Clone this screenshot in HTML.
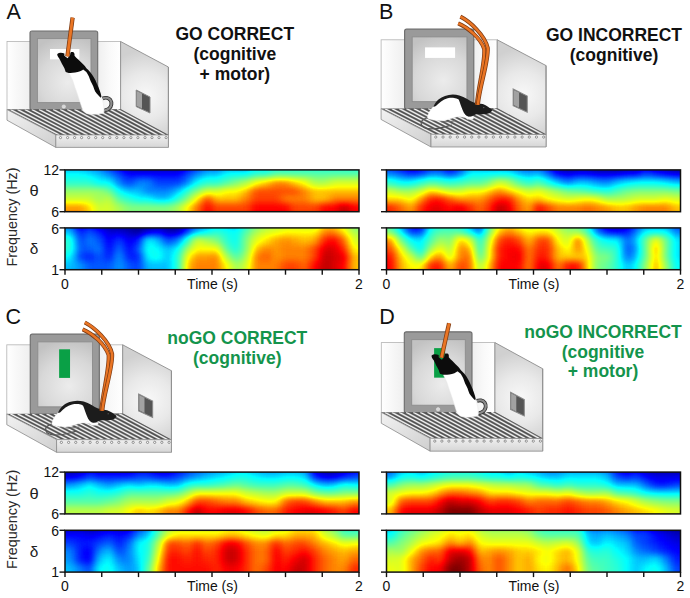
<!DOCTYPE html>
<html><head><meta charset="utf-8"><title>figure</title>
<style>
html,body{margin:0;padding:0;background:#fff;}
svg{display:block}
text{font-family:"Liberation Sans",sans-serif;}
</style></head><body>
<svg width="690" height="598" viewBox="0 0 690 598">
<defs>
<filter id="jet" filterUnits="userSpaceOnUse" x="-30" y="-30" width="354" height="102" color-interpolation-filters="sRGB">
<feGaussianBlur stdDeviation="4.0 3.3"/>
<feComponentTransfer>
<feFuncR type="table" tableValues="0 0 0 0 .33 .67 1 1 1 .5"/>
<feFuncG type="table" tableValues="0 0 .5 1 1 1 1 .5 0 0"/>
<feFuncB type="table" tableValues=".5 1 1 1 .67 .33 0 0 0 0"/>
<feFuncA type="linear" slope="0" intercept="1"/>
</feComponentTransfer>
</filter>
<linearGradient id="gback" x1="0" y1="0" x2="1" y2="0">
<stop offset="0" stop-color="#ffffff"/><stop offset="0.1" stop-color="#f7f7f7"/><stop offset="0.2" stop-color="#efefef"/><stop offset="0.8" stop-color="#efefef"/><stop offset="0.9" stop-color="#f9f9f9"/><stop offset="1" stop-color="#ffffff"/>
</linearGradient>
<radialGradient id="gright" gradientUnits="userSpaceOnUse" cx="146" cy="96" r="46">
<stop offset="0" stop-color="#f8f8f8"/><stop offset="0.5" stop-color="#e9e9e9"/><stop offset="1" stop-color="#d0d0d0"/>
</radialGradient>
<radialGradient id="gscreen" gradientUnits="userSpaceOnUse" cx="68" cy="82" r="46">
<stop offset="0" stop-color="#ececec"/><stop offset="0.6" stop-color="#d8d8d8"/><stop offset="1" stop-color="#c2c2c2"/>
</radialGradient>
<linearGradient id="gface" x1="0" y1="0" x2="1" y2="1">
<stop offset="0" stop-color="#f2f2f2"/><stop offset="1" stop-color="#cfcfcf"/>
</linearGradient>
<linearGradient id="gfront" x1="0" y1="0" x2="0" y2="1"><stop offset="0" stop-color="#f0f0f0"/><stop offset="1" stop-color="#d6d6d6"/></linearGradient>
<clipPath id="floorclip"><polygon points="7,109.6 120.6,109.2 168.4,135 55.8,134.9"/></clipPath>
</defs>
<rect width="690" height="598" fill="#fff"/>

<g transform="translate(0,0) scale(1,1)">
<rect x="7" y="41.5" width="113.6" height="68.2" fill="url(#gback)" stroke="#b4b4b4" stroke-width="0.8"/>
<polygon points="120.6,41.5 168.4,67 168.4,135.2 120.6,109.4" fill="url(#gright)" stroke="#8e8e8e" stroke-width="0.9"/>
<line x1="168.4" y1="67" x2="168.4" y2="147.4" stroke="#8e8e8e" stroke-width="0.9"/>
<polygon points="136.2,90 150,97 150,113 136.2,106.6" fill="#555" stroke="#8a8a8a" stroke-width="1"/>
<polygon points="136.8,91 142,93.6 142,108.6 136.8,106" fill="#a2a2a2"/>
<rect x="30" y="31" width="67.7" height="79" rx="2" fill="#9a9a9a" stroke="#6c6c6c" stroke-width="1.1"/>
<rect x="37.4" y="38.6" width="53.6" height="64" fill="url(#gscreen)" stroke="#8c8c8c" stroke-width="0.9"/>
<circle cx="63.8" cy="106.6" r="1.7" fill="#d8d8d8" stroke="#eee" stroke-width="0.5"/>
<rect x="50" y="49" width="29.4" height="10.4" fill="#fff"/>
<polygon points="7,109.6 120.6,109.2 168.4,135 55.8,134.9" fill="#505050"/>
<g clip-path="url(#floorclip)">
<line x1="10.6" y1="109.6" x2="59.3" y2="134.9" stroke="#a8a8a8" stroke-width="1.9"/>
<line x1="10.6" y1="109.6" x2="59.3" y2="134.9" stroke="#fbfbfb" stroke-width="0.95"/>
<line x1="17.6" y1="109.6" x2="66.4" y2="134.9" stroke="#a8a8a8" stroke-width="1.9"/>
<line x1="17.6" y1="109.6" x2="66.4" y2="134.9" stroke="#fbfbfb" stroke-width="0.95"/>
<line x1="24.8" y1="109.5" x2="73.4" y2="134.9" stroke="#a8a8a8" stroke-width="1.9"/>
<line x1="24.8" y1="109.5" x2="73.4" y2="134.9" stroke="#fbfbfb" stroke-width="0.95"/>
<line x1="31.8" y1="109.5" x2="80.4" y2="134.9" stroke="#a8a8a8" stroke-width="1.9"/>
<line x1="31.8" y1="109.5" x2="80.4" y2="134.9" stroke="#fbfbfb" stroke-width="0.95"/>
<line x1="39.0" y1="109.5" x2="87.5" y2="134.9" stroke="#a8a8a8" stroke-width="1.9"/>
<line x1="39.0" y1="109.5" x2="87.5" y2="134.9" stroke="#fbfbfb" stroke-width="0.95"/>
<line x1="46.0" y1="109.5" x2="94.5" y2="134.9" stroke="#a8a8a8" stroke-width="1.9"/>
<line x1="46.0" y1="109.5" x2="94.5" y2="134.9" stroke="#fbfbfb" stroke-width="0.95"/>
<line x1="53.1" y1="109.4" x2="101.5" y2="134.9" stroke="#a8a8a8" stroke-width="1.9"/>
<line x1="53.1" y1="109.4" x2="101.5" y2="134.9" stroke="#fbfbfb" stroke-width="0.95"/>
<line x1="60.2" y1="109.4" x2="108.6" y2="134.9" stroke="#a8a8a8" stroke-width="1.9"/>
<line x1="60.2" y1="109.4" x2="108.6" y2="134.9" stroke="#fbfbfb" stroke-width="0.95"/>
<line x1="67.3" y1="109.4" x2="115.6" y2="135.0" stroke="#a8a8a8" stroke-width="1.9"/>
<line x1="67.3" y1="109.4" x2="115.6" y2="135.0" stroke="#fbfbfb" stroke-width="0.95"/>
<line x1="74.5" y1="109.4" x2="122.7" y2="135.0" stroke="#a8a8a8" stroke-width="1.9"/>
<line x1="74.5" y1="109.4" x2="122.7" y2="135.0" stroke="#fbfbfb" stroke-width="0.95"/>
<line x1="81.5" y1="109.3" x2="129.7" y2="135.0" stroke="#a8a8a8" stroke-width="1.9"/>
<line x1="81.5" y1="109.3" x2="129.7" y2="135.0" stroke="#fbfbfb" stroke-width="0.95"/>
<line x1="88.6" y1="109.3" x2="136.7" y2="135.0" stroke="#a8a8a8" stroke-width="1.9"/>
<line x1="88.6" y1="109.3" x2="136.7" y2="135.0" stroke="#fbfbfb" stroke-width="0.95"/>
<line x1="95.8" y1="109.3" x2="143.8" y2="135.0" stroke="#a8a8a8" stroke-width="1.9"/>
<line x1="95.8" y1="109.3" x2="143.8" y2="135.0" stroke="#fbfbfb" stroke-width="0.95"/>
<line x1="102.8" y1="109.3" x2="150.8" y2="135.0" stroke="#a8a8a8" stroke-width="1.9"/>
<line x1="102.8" y1="109.3" x2="150.8" y2="135.0" stroke="#fbfbfb" stroke-width="0.95"/>
<line x1="109.9" y1="109.2" x2="157.8" y2="135.0" stroke="#a8a8a8" stroke-width="1.9"/>
<line x1="109.9" y1="109.2" x2="157.8" y2="135.0" stroke="#fbfbfb" stroke-width="0.95"/>
<line x1="117.0" y1="109.2" x2="164.9" y2="135.0" stroke="#a8a8a8" stroke-width="1.9"/>
<line x1="117.0" y1="109.2" x2="164.9" y2="135.0" stroke="#fbfbfb" stroke-width="0.95"/>
<line x1="124.1" y1="109.2" x2="171.9" y2="135.0" stroke="#a8a8a8" stroke-width="1.9"/>
<line x1="124.1" y1="109.2" x2="171.9" y2="135.0" stroke="#fbfbfb" stroke-width="0.95"/>
</g>
<polygon points="7,109.6 55.8,134.9 55.8,147.4 7,120.2" fill="url(#gface)" stroke="#8c8c8c" stroke-width="0.8"/>
<polygon points="55.8,134.9 168.4,135 168.4,147.4 55.8,147.4" fill="url(#gfront)" stroke="#8c8c8c" stroke-width="0.8"/>
<circle cx="60.5" cy="137.6" r="1.1" fill="#fff" stroke="#6a6a6a" stroke-width="0.7"/>
<circle cx="67.6" cy="137.6" r="1.1" fill="#fff" stroke="#6a6a6a" stroke-width="0.7"/>
<circle cx="74.6" cy="137.6" r="1.1" fill="#fff" stroke="#6a6a6a" stroke-width="0.7"/>
<circle cx="81.6" cy="137.6" r="1.1" fill="#fff" stroke="#6a6a6a" stroke-width="0.7"/>
<circle cx="88.7" cy="137.6" r="1.1" fill="#fff" stroke="#6a6a6a" stroke-width="0.7"/>
<circle cx="95.7" cy="137.6" r="1.1" fill="#fff" stroke="#6a6a6a" stroke-width="0.7"/>
<circle cx="102.7" cy="137.6" r="1.1" fill="#fff" stroke="#6a6a6a" stroke-width="0.7"/>
<circle cx="109.8" cy="137.6" r="1.1" fill="#fff" stroke="#6a6a6a" stroke-width="0.7"/>
<circle cx="116.8" cy="137.6" r="1.1" fill="#fff" stroke="#6a6a6a" stroke-width="0.7"/>
<circle cx="123.9" cy="137.6" r="1.1" fill="#fff" stroke="#6a6a6a" stroke-width="0.7"/>
<circle cx="130.9" cy="137.6" r="1.1" fill="#fff" stroke="#6a6a6a" stroke-width="0.7"/>
<circle cx="137.9" cy="137.6" r="1.1" fill="#fff" stroke="#6a6a6a" stroke-width="0.7"/>
<circle cx="145.0" cy="137.6" r="1.1" fill="#fff" stroke="#6a6a6a" stroke-width="0.7"/>
<circle cx="152.0" cy="137.6" r="1.1" fill="#fff" stroke="#6a6a6a" stroke-width="0.7"/>
<circle cx="159.0" cy="137.6" r="1.1" fill="#fff" stroke="#6a6a6a" stroke-width="0.7"/>
<circle cx="166.1" cy="137.6" r="1.1" fill="#fff" stroke="#6a6a6a" stroke-width="0.7"/>
<path d="M102.6,98.4 C105,97.4 108.6,97.6 110.4,100 C112.2,102.6 111.6,106.4 109.2,108.4 C107.8,109.5 106.2,110.1 104.6,110.4" fill="none" stroke="#2c2c2c" stroke-width="3.8"/>
<path d="M102.6,98.4 C105,97.4 108.6,97.6 110.4,100 C112.2,102.6 111.6,106.4 109.2,108.4 C107.8,109.5 106.2,110.1 104.6,110.4" fill="none" stroke="#8c8c8c" stroke-width="2.2"/>
<path d="M68.8,72.4 L84,70 C88,73 94,82 98,91 C100,94 101.6,96.6 102.7,101.5 C103.6,104 103.9,108 103.9,112.7 C102.6,113.4 101.4,113.6 100.2,113.7 C97.6,114.2 95,114.4 92.7,114.3 C90.4,114.2 88,114 86.4,113.4 C84.8,112.6 83.6,111.6 82.9,110.2 C82,108.2 81.4,106 80.7,104 C79.8,101.4 79,98.8 78.2,96.4 C77.2,93.4 76.2,90.4 75.1,87.7 C74.2,85.2 73.4,82.6 72.6,80.1 C71.4,77.6 70,75 68.8,72.4 Z" fill="#fff" stroke="#eaeaea" stroke-width="0.5"/>
<path d="M57.3,54 C58.2,53.2 59.4,52.8 60.7,52.8 C62,52.8 63.3,53 64.4,53.5 L64.4,55.7 L67.6,58.2 L70.1,55 C70.1,53.8 70.3,52.9 70.7,52.3 C71.7,51.9 73,52 73.8,52.5 C74.5,53.4 74.7,54.6 74.5,55.7 C75.6,57 76.9,58.2 78.2,59.4 C80.1,61.3 82,63.2 83.9,65.1 C84.8,66.1 85.6,67.1 86.4,68.2 C87.8,69.4 89,70.7 90.1,72 C91.6,73.8 92.8,75.6 93.9,77.6 C95.1,79.6 96.1,81.7 97,83.9 C98,86 98.9,88 99.6,90.2 C100.4,92.2 101,94.3 101.4,96.4 L100.8,97.7 C99.8,97 99,96.1 98.3,95.2 C97.2,94 96.1,92.8 95.2,91.4 C94.4,89.8 93.8,88.1 93.3,86.4 C92.6,84.7 91.7,83 90.8,81.4 C90.1,79.7 89.5,78 88.9,76.4 C88.2,74.9 87.3,73.4 86.4,72 C85.4,71 84.3,70.2 83.2,69.5 C82.2,70.2 81.2,70.8 80.1,71.3 C78.5,71.9 76.8,72.3 75.1,72.6 C73,72.9 70.9,73 68.8,72.9 C67.7,72.7 66.7,72.4 65.7,72 C65.2,70.7 64.8,69.4 64.4,68.2 C63.6,66.7 62.8,65.2 61.9,63.8 C61.1,62.1 60.3,60.4 59.4,58.8 C58.7,57.8 58,56.8 57.5,55.7 C57.3,55.1 57.2,54.5 57.3,54 Z" fill="#0c0c0c"/>
<path d="M72.6,17.6 L67.4,56.4" fill="none" stroke="#7e3c14" stroke-width="4.3" stroke-linecap="butt"/><path d="M72.6,17.6 L67.4,56.4" fill="none" stroke="#ea7524" stroke-width="2.8" stroke-linecap="butt"/>

</g>
<g transform="translate(373.95,-2.2) scale(1.022,1.012)">
<rect x="7" y="41.5" width="113.6" height="68.2" fill="url(#gback)" stroke="#b4b4b4" stroke-width="0.8"/>
<polygon points="120.6,41.5 168.4,67 168.4,135.2 120.6,109.4" fill="url(#gright)" stroke="#8e8e8e" stroke-width="0.9"/>
<line x1="168.4" y1="67" x2="168.4" y2="147.4" stroke="#8e8e8e" stroke-width="0.9"/>
<polygon points="136.2,90 150,97 150,113 136.2,106.6" fill="#555" stroke="#8a8a8a" stroke-width="1"/>
<polygon points="136.8,91 142,93.6 142,108.6 136.8,106" fill="#a2a2a2"/>
<rect x="30" y="31" width="67.7" height="79" rx="2" fill="#9a9a9a" stroke="#6c6c6c" stroke-width="1.1"/>
<rect x="37.4" y="38.6" width="53.6" height="64" fill="url(#gscreen)" stroke="#8c8c8c" stroke-width="0.9"/>
<circle cx="63.8" cy="106.6" r="1.7" fill="#d8d8d8" stroke="#eee" stroke-width="0.5"/>
<rect x="50" y="49" width="29.4" height="10.4" fill="#fff"/>
<polygon points="7,109.6 120.6,109.2 168.4,135 55.8,134.9" fill="#505050"/>
<g clip-path="url(#floorclip)">
<line x1="10.6" y1="109.6" x2="59.3" y2="134.9" stroke="#a8a8a8" stroke-width="1.9"/>
<line x1="10.6" y1="109.6" x2="59.3" y2="134.9" stroke="#fbfbfb" stroke-width="0.95"/>
<line x1="17.6" y1="109.6" x2="66.4" y2="134.9" stroke="#a8a8a8" stroke-width="1.9"/>
<line x1="17.6" y1="109.6" x2="66.4" y2="134.9" stroke="#fbfbfb" stroke-width="0.95"/>
<line x1="24.8" y1="109.5" x2="73.4" y2="134.9" stroke="#a8a8a8" stroke-width="1.9"/>
<line x1="24.8" y1="109.5" x2="73.4" y2="134.9" stroke="#fbfbfb" stroke-width="0.95"/>
<line x1="31.8" y1="109.5" x2="80.4" y2="134.9" stroke="#a8a8a8" stroke-width="1.9"/>
<line x1="31.8" y1="109.5" x2="80.4" y2="134.9" stroke="#fbfbfb" stroke-width="0.95"/>
<line x1="39.0" y1="109.5" x2="87.5" y2="134.9" stroke="#a8a8a8" stroke-width="1.9"/>
<line x1="39.0" y1="109.5" x2="87.5" y2="134.9" stroke="#fbfbfb" stroke-width="0.95"/>
<line x1="46.0" y1="109.5" x2="94.5" y2="134.9" stroke="#a8a8a8" stroke-width="1.9"/>
<line x1="46.0" y1="109.5" x2="94.5" y2="134.9" stroke="#fbfbfb" stroke-width="0.95"/>
<line x1="53.1" y1="109.4" x2="101.5" y2="134.9" stroke="#a8a8a8" stroke-width="1.9"/>
<line x1="53.1" y1="109.4" x2="101.5" y2="134.9" stroke="#fbfbfb" stroke-width="0.95"/>
<line x1="60.2" y1="109.4" x2="108.6" y2="134.9" stroke="#a8a8a8" stroke-width="1.9"/>
<line x1="60.2" y1="109.4" x2="108.6" y2="134.9" stroke="#fbfbfb" stroke-width="0.95"/>
<line x1="67.3" y1="109.4" x2="115.6" y2="135.0" stroke="#a8a8a8" stroke-width="1.9"/>
<line x1="67.3" y1="109.4" x2="115.6" y2="135.0" stroke="#fbfbfb" stroke-width="0.95"/>
<line x1="74.5" y1="109.4" x2="122.7" y2="135.0" stroke="#a8a8a8" stroke-width="1.9"/>
<line x1="74.5" y1="109.4" x2="122.7" y2="135.0" stroke="#fbfbfb" stroke-width="0.95"/>
<line x1="81.5" y1="109.3" x2="129.7" y2="135.0" stroke="#a8a8a8" stroke-width="1.9"/>
<line x1="81.5" y1="109.3" x2="129.7" y2="135.0" stroke="#fbfbfb" stroke-width="0.95"/>
<line x1="88.6" y1="109.3" x2="136.7" y2="135.0" stroke="#a8a8a8" stroke-width="1.9"/>
<line x1="88.6" y1="109.3" x2="136.7" y2="135.0" stroke="#fbfbfb" stroke-width="0.95"/>
<line x1="95.8" y1="109.3" x2="143.8" y2="135.0" stroke="#a8a8a8" stroke-width="1.9"/>
<line x1="95.8" y1="109.3" x2="143.8" y2="135.0" stroke="#fbfbfb" stroke-width="0.95"/>
<line x1="102.8" y1="109.3" x2="150.8" y2="135.0" stroke="#a8a8a8" stroke-width="1.9"/>
<line x1="102.8" y1="109.3" x2="150.8" y2="135.0" stroke="#fbfbfb" stroke-width="0.95"/>
<line x1="109.9" y1="109.2" x2="157.8" y2="135.0" stroke="#a8a8a8" stroke-width="1.9"/>
<line x1="109.9" y1="109.2" x2="157.8" y2="135.0" stroke="#fbfbfb" stroke-width="0.95"/>
<line x1="117.0" y1="109.2" x2="164.9" y2="135.0" stroke="#a8a8a8" stroke-width="1.9"/>
<line x1="117.0" y1="109.2" x2="164.9" y2="135.0" stroke="#fbfbfb" stroke-width="0.95"/>
<line x1="124.1" y1="109.2" x2="171.9" y2="135.0" stroke="#a8a8a8" stroke-width="1.9"/>
<line x1="124.1" y1="109.2" x2="171.9" y2="135.0" stroke="#fbfbfb" stroke-width="0.95"/>
</g>
<polygon points="7,109.6 55.8,134.9 55.8,147.4 7,120.2" fill="url(#gface)" stroke="#8c8c8c" stroke-width="0.8"/>
<polygon points="55.8,134.9 168.4,135 168.4,147.4 55.8,147.4" fill="url(#gfront)" stroke="#8c8c8c" stroke-width="0.8"/>
<circle cx="60.5" cy="137.6" r="1.1" fill="#fff" stroke="#6a6a6a" stroke-width="0.7"/>
<circle cx="67.6" cy="137.6" r="1.1" fill="#fff" stroke="#6a6a6a" stroke-width="0.7"/>
<circle cx="74.6" cy="137.6" r="1.1" fill="#fff" stroke="#6a6a6a" stroke-width="0.7"/>
<circle cx="81.6" cy="137.6" r="1.1" fill="#fff" stroke="#6a6a6a" stroke-width="0.7"/>
<circle cx="88.7" cy="137.6" r="1.1" fill="#fff" stroke="#6a6a6a" stroke-width="0.7"/>
<circle cx="95.7" cy="137.6" r="1.1" fill="#fff" stroke="#6a6a6a" stroke-width="0.7"/>
<circle cx="102.7" cy="137.6" r="1.1" fill="#fff" stroke="#6a6a6a" stroke-width="0.7"/>
<circle cx="109.8" cy="137.6" r="1.1" fill="#fff" stroke="#6a6a6a" stroke-width="0.7"/>
<circle cx="116.8" cy="137.6" r="1.1" fill="#fff" stroke="#6a6a6a" stroke-width="0.7"/>
<circle cx="123.9" cy="137.6" r="1.1" fill="#fff" stroke="#6a6a6a" stroke-width="0.7"/>
<circle cx="130.9" cy="137.6" r="1.1" fill="#fff" stroke="#6a6a6a" stroke-width="0.7"/>
<circle cx="137.9" cy="137.6" r="1.1" fill="#fff" stroke="#6a6a6a" stroke-width="0.7"/>
<circle cx="145.0" cy="137.6" r="1.1" fill="#fff" stroke="#6a6a6a" stroke-width="0.7"/>
<circle cx="152.0" cy="137.6" r="1.1" fill="#fff" stroke="#6a6a6a" stroke-width="0.7"/>
<circle cx="159.0" cy="137.6" r="1.1" fill="#fff" stroke="#6a6a6a" stroke-width="0.7"/>
<circle cx="166.1" cy="137.6" r="1.1" fill="#fff" stroke="#6a6a6a" stroke-width="0.7"/>
<g transform="scale(0.97847,0.98814) translate(-373.95,2.2)">
<path d="M428.5,117.5 C424,118.6 420.6,121 421.2,124 C422,127.6 426,128.8 431,128.9 C436,128.9 441,128 446,126.6 C448.5,125.9 450.5,125.3 452,125" fill="none" stroke="#555" stroke-width="1.2"/>
<path d="M441,121.6 C446,122 451,121.6 455,120.8" fill="none" stroke="#666" stroke-width="1.1"/>
<path d="M427.4,117.8 C427.4,115 429.5,110.5 433.5,106.5 C437,102.5 441.5,99.6 447,98 C451,97 456,97.4 459,99.2 C461,103 462.5,108 464,112 C465,114.6 466.6,116.4 468.5,116.5 L473.4,116.4 C474.2,117.4 473.6,118.8 472.4,119.2 L467.2,119.2 C466,118.2 465.2,117.4 464.5,117.4 C461.5,116.6 459,116.6 456.7,116.9 C454,117.6 451.5,118.4 448.9,119.2 C446,120.2 443.5,120.7 441,120.7 C438,120.8 434.5,120.4 432,119.8 C429.8,119.3 428,118.8 427.4,117.8 Z" fill="#fff" stroke="#e6e6e6" stroke-width="0.5"/>
<path d="M433.3,106.7 C434.6,104 436.3,101.6 438.5,99.6 C440.5,97.9 442.6,96.7 445,95.9 C447.6,95.1 450,94.7 452.8,94.6 C455,94.7 457.2,94.9 459.3,95.4 C462,96.3 464.6,97.6 467.2,98.9 C469.4,100.2 471.4,101.5 473.7,102.4 C476.6,103.2 479.8,103.5 482.8,104.1 C484.8,104.8 486.5,105.6 488,106.7 C489.8,107.9 491.4,109 492.2,110.2 C491.6,111.5 490.6,112.5 489.3,113.2 C487.2,113.8 485,114.1 482.8,114.2 L476.3,114.2 C474.8,114.6 473.6,115.3 472.4,115.9 C471.2,116.3 469.8,116.6 468.5,116.5 C467.2,116.2 466.1,115.6 465.2,114.6 C464.1,113.2 463.3,111.6 462.6,110 C461.8,108.2 461.2,106.5 460.6,104.8 C460,103 459.4,101.2 458.7,99.6 C457.4,98.6 455.8,98.1 454.1,97.9 C452,97.7 449.8,97.8 447.6,98.3 C445.2,99 443.1,100.1 441.1,101.5 C439.2,102.9 437.5,104.4 435.9,106.1 C435.1,106.6 434.2,106.8 433.3,106.7 Z" fill="#1c1c1c"/>
<circle cx="483.8" cy="107.6" r="0.6" fill="#777"/>
</g>
<g transform="scale(0.97847,0.98814) translate(-373.95,2.2)"><path d="M458.2,23.4 C468,27.5 480.5,38 484.2,49 C485.2,62 478.4,86 476.8,104.6" fill="none" stroke="#7e3c14" stroke-width="4.0" stroke-linecap="butt"/><path d="M458.2,23.4 C468,27.5 480.5,38 484.2,49 C485.2,62 478.4,86 476.8,104.6" fill="none" stroke="#ea7524" stroke-width="2.5" stroke-linecap="butt"/><path d="M460.4,16.6 C470,21.5 484.8,35 487.8,48 C488.6,62 479.6,86 477.9,104.8" fill="none" stroke="#7e3c14" stroke-width="4.0" stroke-linecap="butt"/><path d="M460.4,16.6 C470,21.5 484.8,35 487.8,48 C488.6,62 479.6,86 477.9,104.8" fill="none" stroke="#ea7524" stroke-width="2.5" stroke-linecap="butt"/></g>
</g>
<g transform="translate(-0.34,302.7) scale(1.02,1.015)">
<rect x="7" y="41.5" width="113.6" height="68.2" fill="url(#gback)" stroke="#b4b4b4" stroke-width="0.8"/>
<polygon points="120.6,41.5 168.4,67 168.4,135.2 120.6,109.4" fill="url(#gright)" stroke="#8e8e8e" stroke-width="0.9"/>
<line x1="168.4" y1="67" x2="168.4" y2="147.4" stroke="#8e8e8e" stroke-width="0.9"/>
<polygon points="136.2,90 150,97 150,113 136.2,106.6" fill="#555" stroke="#8a8a8a" stroke-width="1"/>
<polygon points="136.8,91 142,93.6 142,108.6 136.8,106" fill="#a2a2a2"/>
<rect x="30" y="31" width="67.7" height="79" rx="2" fill="#9a9a9a" stroke="#6c6c6c" stroke-width="1.1"/>
<rect x="37.4" y="38.6" width="53.6" height="64" fill="url(#gscreen)" stroke="#8c8c8c" stroke-width="0.9"/>
<circle cx="63.8" cy="106.6" r="1.7" fill="#d8d8d8" stroke="#eee" stroke-width="0.5"/>
<rect x="58.3" y="45.9" width="10.7" height="28.2" fill="#0aa046"/>
<polygon points="7,109.6 120.6,109.2 168.4,135 55.8,134.9" fill="#505050"/>
<g clip-path="url(#floorclip)">
<line x1="10.6" y1="109.6" x2="59.3" y2="134.9" stroke="#a8a8a8" stroke-width="1.9"/>
<line x1="10.6" y1="109.6" x2="59.3" y2="134.9" stroke="#fbfbfb" stroke-width="0.95"/>
<line x1="17.6" y1="109.6" x2="66.4" y2="134.9" stroke="#a8a8a8" stroke-width="1.9"/>
<line x1="17.6" y1="109.6" x2="66.4" y2="134.9" stroke="#fbfbfb" stroke-width="0.95"/>
<line x1="24.8" y1="109.5" x2="73.4" y2="134.9" stroke="#a8a8a8" stroke-width="1.9"/>
<line x1="24.8" y1="109.5" x2="73.4" y2="134.9" stroke="#fbfbfb" stroke-width="0.95"/>
<line x1="31.8" y1="109.5" x2="80.4" y2="134.9" stroke="#a8a8a8" stroke-width="1.9"/>
<line x1="31.8" y1="109.5" x2="80.4" y2="134.9" stroke="#fbfbfb" stroke-width="0.95"/>
<line x1="39.0" y1="109.5" x2="87.5" y2="134.9" stroke="#a8a8a8" stroke-width="1.9"/>
<line x1="39.0" y1="109.5" x2="87.5" y2="134.9" stroke="#fbfbfb" stroke-width="0.95"/>
<line x1="46.0" y1="109.5" x2="94.5" y2="134.9" stroke="#a8a8a8" stroke-width="1.9"/>
<line x1="46.0" y1="109.5" x2="94.5" y2="134.9" stroke="#fbfbfb" stroke-width="0.95"/>
<line x1="53.1" y1="109.4" x2="101.5" y2="134.9" stroke="#a8a8a8" stroke-width="1.9"/>
<line x1="53.1" y1="109.4" x2="101.5" y2="134.9" stroke="#fbfbfb" stroke-width="0.95"/>
<line x1="60.2" y1="109.4" x2="108.6" y2="134.9" stroke="#a8a8a8" stroke-width="1.9"/>
<line x1="60.2" y1="109.4" x2="108.6" y2="134.9" stroke="#fbfbfb" stroke-width="0.95"/>
<line x1="67.3" y1="109.4" x2="115.6" y2="135.0" stroke="#a8a8a8" stroke-width="1.9"/>
<line x1="67.3" y1="109.4" x2="115.6" y2="135.0" stroke="#fbfbfb" stroke-width="0.95"/>
<line x1="74.5" y1="109.4" x2="122.7" y2="135.0" stroke="#a8a8a8" stroke-width="1.9"/>
<line x1="74.5" y1="109.4" x2="122.7" y2="135.0" stroke="#fbfbfb" stroke-width="0.95"/>
<line x1="81.5" y1="109.3" x2="129.7" y2="135.0" stroke="#a8a8a8" stroke-width="1.9"/>
<line x1="81.5" y1="109.3" x2="129.7" y2="135.0" stroke="#fbfbfb" stroke-width="0.95"/>
<line x1="88.6" y1="109.3" x2="136.7" y2="135.0" stroke="#a8a8a8" stroke-width="1.9"/>
<line x1="88.6" y1="109.3" x2="136.7" y2="135.0" stroke="#fbfbfb" stroke-width="0.95"/>
<line x1="95.8" y1="109.3" x2="143.8" y2="135.0" stroke="#a8a8a8" stroke-width="1.9"/>
<line x1="95.8" y1="109.3" x2="143.8" y2="135.0" stroke="#fbfbfb" stroke-width="0.95"/>
<line x1="102.8" y1="109.3" x2="150.8" y2="135.0" stroke="#a8a8a8" stroke-width="1.9"/>
<line x1="102.8" y1="109.3" x2="150.8" y2="135.0" stroke="#fbfbfb" stroke-width="0.95"/>
<line x1="109.9" y1="109.2" x2="157.8" y2="135.0" stroke="#a8a8a8" stroke-width="1.9"/>
<line x1="109.9" y1="109.2" x2="157.8" y2="135.0" stroke="#fbfbfb" stroke-width="0.95"/>
<line x1="117.0" y1="109.2" x2="164.9" y2="135.0" stroke="#a8a8a8" stroke-width="1.9"/>
<line x1="117.0" y1="109.2" x2="164.9" y2="135.0" stroke="#fbfbfb" stroke-width="0.95"/>
<line x1="124.1" y1="109.2" x2="171.9" y2="135.0" stroke="#a8a8a8" stroke-width="1.9"/>
<line x1="124.1" y1="109.2" x2="171.9" y2="135.0" stroke="#fbfbfb" stroke-width="0.95"/>
</g>
<polygon points="7,109.6 55.8,134.9 55.8,147.4 7,120.2" fill="url(#gface)" stroke="#8c8c8c" stroke-width="0.8"/>
<polygon points="55.8,134.9 168.4,135 168.4,147.4 55.8,147.4" fill="url(#gfront)" stroke="#8c8c8c" stroke-width="0.8"/>
<circle cx="60.5" cy="137.6" r="1.1" fill="#fff" stroke="#6a6a6a" stroke-width="0.7"/>
<circle cx="67.6" cy="137.6" r="1.1" fill="#fff" stroke="#6a6a6a" stroke-width="0.7"/>
<circle cx="74.6" cy="137.6" r="1.1" fill="#fff" stroke="#6a6a6a" stroke-width="0.7"/>
<circle cx="81.6" cy="137.6" r="1.1" fill="#fff" stroke="#6a6a6a" stroke-width="0.7"/>
<circle cx="88.7" cy="137.6" r="1.1" fill="#fff" stroke="#6a6a6a" stroke-width="0.7"/>
<circle cx="95.7" cy="137.6" r="1.1" fill="#fff" stroke="#6a6a6a" stroke-width="0.7"/>
<circle cx="102.7" cy="137.6" r="1.1" fill="#fff" stroke="#6a6a6a" stroke-width="0.7"/>
<circle cx="109.8" cy="137.6" r="1.1" fill="#fff" stroke="#6a6a6a" stroke-width="0.7"/>
<circle cx="116.8" cy="137.6" r="1.1" fill="#fff" stroke="#6a6a6a" stroke-width="0.7"/>
<circle cx="123.9" cy="137.6" r="1.1" fill="#fff" stroke="#6a6a6a" stroke-width="0.7"/>
<circle cx="130.9" cy="137.6" r="1.1" fill="#fff" stroke="#6a6a6a" stroke-width="0.7"/>
<circle cx="137.9" cy="137.6" r="1.1" fill="#fff" stroke="#6a6a6a" stroke-width="0.7"/>
<circle cx="145.0" cy="137.6" r="1.1" fill="#fff" stroke="#6a6a6a" stroke-width="0.7"/>
<circle cx="152.0" cy="137.6" r="1.1" fill="#fff" stroke="#6a6a6a" stroke-width="0.7"/>
<circle cx="159.0" cy="137.6" r="1.1" fill="#fff" stroke="#6a6a6a" stroke-width="0.7"/>
<circle cx="166.1" cy="137.6" r="1.1" fill="#fff" stroke="#6a6a6a" stroke-width="0.7"/>
<g transform="translate(-1.1,0.9)"><g transform="scale(0.97847,0.98814) translate(-373.95,2.2)">
<path d="M428.5,117.5 C424,118.6 420.6,121 421.2,124 C422,127.6 426,128.8 431,128.9 C436,128.9 441,128 446,126.6 C448.5,125.9 450.5,125.3 452,125" fill="none" stroke="#555" stroke-width="1.2"/>
<path d="M441,121.6 C446,122 451,121.6 455,120.8" fill="none" stroke="#666" stroke-width="1.1"/>
<path d="M427.4,117.8 C427.4,115 429.5,110.5 433.5,106.5 C437,102.5 441.5,99.6 447,98 C451,97 456,97.4 459,99.2 C461,103 462.5,108 464,112 C465,114.6 466.6,116.4 468.5,116.5 L473.4,116.4 C474.2,117.4 473.6,118.8 472.4,119.2 L467.2,119.2 C466,118.2 465.2,117.4 464.5,117.4 C461.5,116.6 459,116.6 456.7,116.9 C454,117.6 451.5,118.4 448.9,119.2 C446,120.2 443.5,120.7 441,120.7 C438,120.8 434.5,120.4 432,119.8 C429.8,119.3 428,118.8 427.4,117.8 Z" fill="#fff" stroke="#e6e6e6" stroke-width="0.5"/>
<path d="M433.3,106.7 C434.6,104 436.3,101.6 438.5,99.6 C440.5,97.9 442.6,96.7 445,95.9 C447.6,95.1 450,94.7 452.8,94.6 C455,94.7 457.2,94.9 459.3,95.4 C462,96.3 464.6,97.6 467.2,98.9 C469.4,100.2 471.4,101.5 473.7,102.4 C476.6,103.2 479.8,103.5 482.8,104.1 C484.8,104.8 486.5,105.6 488,106.7 C489.8,107.9 491.4,109 492.2,110.2 C491.6,111.5 490.6,112.5 489.3,113.2 C487.2,113.8 485,114.1 482.8,114.2 L476.3,114.2 C474.8,114.6 473.6,115.3 472.4,115.9 C471.2,116.3 469.8,116.6 468.5,116.5 C467.2,116.2 466.1,115.6 465.2,114.6 C464.1,113.2 463.3,111.6 462.6,110 C461.8,108.2 461.2,106.5 460.6,104.8 C460,103 459.4,101.2 458.7,99.6 C457.4,98.6 455.8,98.1 454.1,97.9 C452,97.7 449.8,97.8 447.6,98.3 C445.2,99 443.1,100.1 441.1,101.5 C439.2,102.9 437.5,104.4 435.9,106.1 C435.1,106.6 434.2,106.8 433.3,106.7 Z" fill="#1c1c1c"/>
<circle cx="483.8" cy="107.6" r="0.6" fill="#777"/>
</g></g>
<g transform="translate(-1.1,0.9)"><g transform="scale(0.97847,0.98814) translate(-373.95,2.2)"><path d="M458.2,23.4 C468,27.5 480.5,38 484.2,49 C485.2,62 478.4,86 476.8,104.6" fill="none" stroke="#7e3c14" stroke-width="4.0" stroke-linecap="butt"/><path d="M458.2,23.4 C468,27.5 480.5,38 484.2,49 C485.2,62 478.4,86 476.8,104.6" fill="none" stroke="#ea7524" stroke-width="2.5" stroke-linecap="butt"/><path d="M460.4,16.6 C470,21.5 484.8,35 487.8,48 C488.6,62 479.6,86 477.9,104.8" fill="none" stroke="#7e3c14" stroke-width="4.0" stroke-linecap="butt"/><path d="M460.4,16.6 C470,21.5 484.8,35 487.8,48 C488.6,62 479.6,86 477.9,104.8" fill="none" stroke="#ea7524" stroke-width="2.5" stroke-linecap="butt"/></g></g>
</g>
<g transform="translate(374.3,300.06) scale(1.0,1.025)">
<rect x="7" y="41.5" width="113.6" height="68.2" fill="url(#gback)" stroke="#b4b4b4" stroke-width="0.8"/>
<polygon points="120.6,41.5 168.4,67 168.4,135.2 120.6,109.4" fill="url(#gright)" stroke="#8e8e8e" stroke-width="0.9"/>
<line x1="168.4" y1="67" x2="168.4" y2="147.4" stroke="#8e8e8e" stroke-width="0.9"/>
<polygon points="136.2,90 150,97 150,113 136.2,106.6" fill="#555" stroke="#8a8a8a" stroke-width="1"/>
<polygon points="136.8,91 142,93.6 142,108.6 136.8,106" fill="#a2a2a2"/>
<rect x="30" y="31" width="67.7" height="79" rx="2" fill="#9a9a9a" stroke="#6c6c6c" stroke-width="1.1"/>
<rect x="37.4" y="38.6" width="53.6" height="64" fill="url(#gscreen)" stroke="#8c8c8c" stroke-width="0.9"/>
<circle cx="63.8" cy="106.6" r="1.7" fill="#d8d8d8" stroke="#eee" stroke-width="0.5"/>
<rect x="59.8" y="46.9" width="11" height="28.8" fill="#0aa046"/>
<polygon points="7,109.6 120.6,109.2 168.4,135 55.8,134.9" fill="#505050"/>
<g clip-path="url(#floorclip)">
<line x1="10.6" y1="109.6" x2="59.3" y2="134.9" stroke="#a8a8a8" stroke-width="1.9"/>
<line x1="10.6" y1="109.6" x2="59.3" y2="134.9" stroke="#fbfbfb" stroke-width="0.95"/>
<line x1="17.6" y1="109.6" x2="66.4" y2="134.9" stroke="#a8a8a8" stroke-width="1.9"/>
<line x1="17.6" y1="109.6" x2="66.4" y2="134.9" stroke="#fbfbfb" stroke-width="0.95"/>
<line x1="24.8" y1="109.5" x2="73.4" y2="134.9" stroke="#a8a8a8" stroke-width="1.9"/>
<line x1="24.8" y1="109.5" x2="73.4" y2="134.9" stroke="#fbfbfb" stroke-width="0.95"/>
<line x1="31.8" y1="109.5" x2="80.4" y2="134.9" stroke="#a8a8a8" stroke-width="1.9"/>
<line x1="31.8" y1="109.5" x2="80.4" y2="134.9" stroke="#fbfbfb" stroke-width="0.95"/>
<line x1="39.0" y1="109.5" x2="87.5" y2="134.9" stroke="#a8a8a8" stroke-width="1.9"/>
<line x1="39.0" y1="109.5" x2="87.5" y2="134.9" stroke="#fbfbfb" stroke-width="0.95"/>
<line x1="46.0" y1="109.5" x2="94.5" y2="134.9" stroke="#a8a8a8" stroke-width="1.9"/>
<line x1="46.0" y1="109.5" x2="94.5" y2="134.9" stroke="#fbfbfb" stroke-width="0.95"/>
<line x1="53.1" y1="109.4" x2="101.5" y2="134.9" stroke="#a8a8a8" stroke-width="1.9"/>
<line x1="53.1" y1="109.4" x2="101.5" y2="134.9" stroke="#fbfbfb" stroke-width="0.95"/>
<line x1="60.2" y1="109.4" x2="108.6" y2="134.9" stroke="#a8a8a8" stroke-width="1.9"/>
<line x1="60.2" y1="109.4" x2="108.6" y2="134.9" stroke="#fbfbfb" stroke-width="0.95"/>
<line x1="67.3" y1="109.4" x2="115.6" y2="135.0" stroke="#a8a8a8" stroke-width="1.9"/>
<line x1="67.3" y1="109.4" x2="115.6" y2="135.0" stroke="#fbfbfb" stroke-width="0.95"/>
<line x1="74.5" y1="109.4" x2="122.7" y2="135.0" stroke="#a8a8a8" stroke-width="1.9"/>
<line x1="74.5" y1="109.4" x2="122.7" y2="135.0" stroke="#fbfbfb" stroke-width="0.95"/>
<line x1="81.5" y1="109.3" x2="129.7" y2="135.0" stroke="#a8a8a8" stroke-width="1.9"/>
<line x1="81.5" y1="109.3" x2="129.7" y2="135.0" stroke="#fbfbfb" stroke-width="0.95"/>
<line x1="88.6" y1="109.3" x2="136.7" y2="135.0" stroke="#a8a8a8" stroke-width="1.9"/>
<line x1="88.6" y1="109.3" x2="136.7" y2="135.0" stroke="#fbfbfb" stroke-width="0.95"/>
<line x1="95.8" y1="109.3" x2="143.8" y2="135.0" stroke="#a8a8a8" stroke-width="1.9"/>
<line x1="95.8" y1="109.3" x2="143.8" y2="135.0" stroke="#fbfbfb" stroke-width="0.95"/>
<line x1="102.8" y1="109.3" x2="150.8" y2="135.0" stroke="#a8a8a8" stroke-width="1.9"/>
<line x1="102.8" y1="109.3" x2="150.8" y2="135.0" stroke="#fbfbfb" stroke-width="0.95"/>
<line x1="109.9" y1="109.2" x2="157.8" y2="135.0" stroke="#a8a8a8" stroke-width="1.9"/>
<line x1="109.9" y1="109.2" x2="157.8" y2="135.0" stroke="#fbfbfb" stroke-width="0.95"/>
<line x1="117.0" y1="109.2" x2="164.9" y2="135.0" stroke="#a8a8a8" stroke-width="1.9"/>
<line x1="117.0" y1="109.2" x2="164.9" y2="135.0" stroke="#fbfbfb" stroke-width="0.95"/>
<line x1="124.1" y1="109.2" x2="171.9" y2="135.0" stroke="#a8a8a8" stroke-width="1.9"/>
<line x1="124.1" y1="109.2" x2="171.9" y2="135.0" stroke="#fbfbfb" stroke-width="0.95"/>
</g>
<polygon points="7,109.6 55.8,134.9 55.8,147.4 7,120.2" fill="url(#gface)" stroke="#8c8c8c" stroke-width="0.8"/>
<polygon points="55.8,134.9 168.4,135 168.4,147.4 55.8,147.4" fill="url(#gfront)" stroke="#8c8c8c" stroke-width="0.8"/>
<circle cx="60.5" cy="137.6" r="1.1" fill="#fff" stroke="#6a6a6a" stroke-width="0.7"/>
<circle cx="67.6" cy="137.6" r="1.1" fill="#fff" stroke="#6a6a6a" stroke-width="0.7"/>
<circle cx="74.6" cy="137.6" r="1.1" fill="#fff" stroke="#6a6a6a" stroke-width="0.7"/>
<circle cx="81.6" cy="137.6" r="1.1" fill="#fff" stroke="#6a6a6a" stroke-width="0.7"/>
<circle cx="88.7" cy="137.6" r="1.1" fill="#fff" stroke="#6a6a6a" stroke-width="0.7"/>
<circle cx="95.7" cy="137.6" r="1.1" fill="#fff" stroke="#6a6a6a" stroke-width="0.7"/>
<circle cx="102.7" cy="137.6" r="1.1" fill="#fff" stroke="#6a6a6a" stroke-width="0.7"/>
<circle cx="109.8" cy="137.6" r="1.1" fill="#fff" stroke="#6a6a6a" stroke-width="0.7"/>
<circle cx="116.8" cy="137.6" r="1.1" fill="#fff" stroke="#6a6a6a" stroke-width="0.7"/>
<circle cx="123.9" cy="137.6" r="1.1" fill="#fff" stroke="#6a6a6a" stroke-width="0.7"/>
<circle cx="130.9" cy="137.6" r="1.1" fill="#fff" stroke="#6a6a6a" stroke-width="0.7"/>
<circle cx="137.9" cy="137.6" r="1.1" fill="#fff" stroke="#6a6a6a" stroke-width="0.7"/>
<circle cx="145.0" cy="137.6" r="1.1" fill="#fff" stroke="#6a6a6a" stroke-width="0.7"/>
<circle cx="152.0" cy="137.6" r="1.1" fill="#fff" stroke="#6a6a6a" stroke-width="0.7"/>
<circle cx="159.0" cy="137.6" r="1.1" fill="#fff" stroke="#6a6a6a" stroke-width="0.7"/>
<circle cx="166.1" cy="137.6" r="1.1" fill="#fff" stroke="#6a6a6a" stroke-width="0.7"/>
<path d="M102.6,98.4 C105,97.4 108.6,97.6 110.4,100 C112.2,102.6 111.6,106.4 109.2,108.4 C107.8,109.5 106.2,110.1 104.6,110.4" fill="none" stroke="#2c2c2c" stroke-width="3.8"/>
<path d="M102.6,98.4 C105,97.4 108.6,97.6 110.4,100 C112.2,102.6 111.6,106.4 109.2,108.4 C107.8,109.5 106.2,110.1 104.6,110.4" fill="none" stroke="#8c8c8c" stroke-width="2.2"/>
<path d="M68.8,72.4 L84,70 C88,73 94,82 98,91 C100,94 101.6,96.6 102.7,101.5 C103.6,104 103.9,108 103.9,112.7 C102.6,113.4 101.4,113.6 100.2,113.7 C97.6,114.2 95,114.4 92.7,114.3 C90.4,114.2 88,114 86.4,113.4 C84.8,112.6 83.6,111.6 82.9,110.2 C82,108.2 81.4,106 80.7,104 C79.8,101.4 79,98.8 78.2,96.4 C77.2,93.4 76.2,90.4 75.1,87.7 C74.2,85.2 73.4,82.6 72.6,80.1 C71.4,77.6 70,75 68.8,72.4 Z" fill="#fff" stroke="#eaeaea" stroke-width="0.5"/>
<path d="M57.3,54 C58.2,53.2 59.4,52.8 60.7,52.8 C62,52.8 63.3,53 64.4,53.5 L64.4,55.7 L67.6,58.2 L70.1,55 C70.1,53.8 70.3,52.9 70.7,52.3 C71.7,51.9 73,52 73.8,52.5 C74.5,53.4 74.7,54.6 74.5,55.7 C75.6,57 76.9,58.2 78.2,59.4 C80.1,61.3 82,63.2 83.9,65.1 C84.8,66.1 85.6,67.1 86.4,68.2 C87.8,69.4 89,70.7 90.1,72 C91.6,73.8 92.8,75.6 93.9,77.6 C95.1,79.6 96.1,81.7 97,83.9 C98,86 98.9,88 99.6,90.2 C100.4,92.2 101,94.3 101.4,96.4 L100.8,97.7 C99.8,97 99,96.1 98.3,95.2 C97.2,94 96.1,92.8 95.2,91.4 C94.4,89.8 93.8,88.1 93.3,86.4 C92.6,84.7 91.7,83 90.8,81.4 C90.1,79.7 89.5,78 88.9,76.4 C88.2,74.9 87.3,73.4 86.4,72 C85.4,71 84.3,70.2 83.2,69.5 C82.2,70.2 81.2,70.8 80.1,71.3 C78.5,71.9 76.8,72.3 75.1,72.6 C73,72.9 70.9,73 68.8,72.9 C67.7,72.7 66.7,72.4 65.7,72 C65.2,70.7 64.8,69.4 64.4,68.2 C63.6,66.7 62.8,65.2 61.9,63.8 C61.1,62.1 60.3,60.4 59.4,58.8 C58.7,57.8 58,56.8 57.5,55.7 C57.3,55.1 57.2,54.5 57.3,54 Z" fill="#0c0c0c"/>
<path d="M74.8,22.6 L67.2,56.2" fill="none" stroke="#7e3c14" stroke-width="4.3" stroke-linecap="butt"/><path d="M74.8,22.6 L67.2,56.2" fill="none" stroke="#ea7524" stroke-width="2.8" stroke-linecap="butt"/>

</g>
<svg x="65" y="169.9" width="294" height="41.8" overflow="hidden">
<g filter="url(#jet)" shape-rendering="crispEdges">
<rect x="-29.4" y="-25.1" width="49.3" height="8.7" fill="#3e3e3e"/>
<rect x="19.6" y="-25.1" width="10.1" height="8.7" fill="#393939"/>
<rect x="29.4" y="-25.1" width="10.1" height="8.7" fill="#303030"/>
<rect x="39.2" y="-25.1" width="10.1" height="8.7" fill="#222222"/>
<rect x="49.0" y="-25.1" width="10.1" height="8.7" fill="#141414"/>
<rect x="58.8" y="-25.1" width="59.1" height="8.7" fill="#060606"/>
<rect x="117.6" y="-25.1" width="10.1" height="8.7" fill="#141414"/>
<rect x="127.4" y="-25.1" width="10.1" height="8.7" fill="#222222"/>
<rect x="137.2" y="-25.1" width="19.9" height="8.7" fill="#303030"/>
<rect x="156.8" y="-25.1" width="29.7" height="8.7" fill="#3e3e3e"/>
<rect x="186.2" y="-25.1" width="19.9" height="8.7" fill="#4d4d4d"/>
<rect x="205.8" y="-25.1" width="117.9" height="8.7" fill="#5b5b5b"/>
<rect x="-29.4" y="-16.7" width="49.3" height="8.7" fill="#3e3e3e"/>
<rect x="19.6" y="-16.7" width="10.1" height="8.7" fill="#393939"/>
<rect x="29.4" y="-16.7" width="10.1" height="8.7" fill="#303030"/>
<rect x="39.2" y="-16.7" width="10.1" height="8.7" fill="#222222"/>
<rect x="49.0" y="-16.7" width="10.1" height="8.7" fill="#141414"/>
<rect x="58.8" y="-16.7" width="59.1" height="8.7" fill="#060606"/>
<rect x="117.6" y="-16.7" width="10.1" height="8.7" fill="#141414"/>
<rect x="127.4" y="-16.7" width="10.1" height="8.7" fill="#222222"/>
<rect x="137.2" y="-16.7" width="19.9" height="8.7" fill="#303030"/>
<rect x="156.8" y="-16.7" width="29.7" height="8.7" fill="#3e3e3e"/>
<rect x="186.2" y="-16.7" width="19.9" height="8.7" fill="#4d4d4d"/>
<rect x="205.8" y="-16.7" width="117.9" height="8.7" fill="#5b5b5b"/>
<rect x="-29.4" y="-8.4" width="49.3" height="8.7" fill="#3e3e3e"/>
<rect x="19.6" y="-8.4" width="10.1" height="8.7" fill="#393939"/>
<rect x="29.4" y="-8.4" width="10.1" height="8.7" fill="#303030"/>
<rect x="39.2" y="-8.4" width="10.1" height="8.7" fill="#222222"/>
<rect x="49.0" y="-8.4" width="10.1" height="8.7" fill="#141414"/>
<rect x="58.8" y="-8.4" width="59.1" height="8.7" fill="#060606"/>
<rect x="117.6" y="-8.4" width="10.1" height="8.7" fill="#141414"/>
<rect x="127.4" y="-8.4" width="10.1" height="8.7" fill="#222222"/>
<rect x="137.2" y="-8.4" width="19.9" height="8.7" fill="#303030"/>
<rect x="156.8" y="-8.4" width="29.7" height="8.7" fill="#3e3e3e"/>
<rect x="186.2" y="-8.4" width="19.9" height="8.7" fill="#4d4d4d"/>
<rect x="205.8" y="-8.4" width="117.9" height="8.7" fill="#5b5b5b"/>
<rect x="-29.4" y="0.0" width="49.3" height="8.7" fill="#555555"/>
<rect x="19.6" y="0.0" width="10.1" height="8.7" fill="#4f4f4f"/>
<rect x="29.4" y="0.0" width="10.1" height="8.7" fill="#474747"/>
<rect x="39.2" y="0.0" width="10.1" height="8.7" fill="#393939"/>
<rect x="49.0" y="0.0" width="10.1" height="8.7" fill="#2a2a2a"/>
<rect x="58.8" y="0.0" width="59.1" height="8.7" fill="#1c1c1c"/>
<rect x="117.6" y="0.0" width="10.1" height="8.7" fill="#2a2a2a"/>
<rect x="127.4" y="0.0" width="10.1" height="8.7" fill="#393939"/>
<rect x="137.2" y="0.0" width="19.9" height="8.7" fill="#474747"/>
<rect x="156.8" y="0.0" width="29.7" height="8.7" fill="#555555"/>
<rect x="186.2" y="0.0" width="19.9" height="8.7" fill="#636363"/>
<rect x="205.8" y="0.0" width="117.9" height="8.7" fill="#717171"/>
<rect x="-29.4" y="8.4" width="59.1" height="8.7" fill="#636363"/>
<rect x="29.4" y="8.4" width="19.9" height="8.7" fill="#555555"/>
<rect x="49.0" y="8.4" width="10.1" height="8.7" fill="#393939"/>
<rect x="58.8" y="8.4" width="10.1" height="8.7" fill="#2a2a2a"/>
<rect x="68.6" y="8.4" width="19.9" height="8.7" fill="#393939"/>
<rect x="88.2" y="8.4" width="29.7" height="8.7" fill="#2a2a2a"/>
<rect x="117.6" y="8.4" width="10.1" height="8.7" fill="#393939"/>
<rect x="127.4" y="8.4" width="10.1" height="8.7" fill="#555555"/>
<rect x="137.2" y="8.4" width="19.9" height="8.7" fill="#636363"/>
<rect x="156.8" y="8.4" width="10.1" height="8.7" fill="#717171"/>
<rect x="166.6" y="8.4" width="10.1" height="8.7" fill="#808080"/>
<rect x="176.4" y="8.4" width="10.1" height="8.7" fill="#8e8e8e"/>
<rect x="186.2" y="8.4" width="10.1" height="8.7" fill="#a7a7a7"/>
<rect x="196.0" y="8.4" width="10.1" height="8.7" fill="#b5b5b5"/>
<rect x="205.8" y="8.4" width="19.9" height="8.7" fill="#c4c4c4"/>
<rect x="225.4" y="8.4" width="10.1" height="8.7" fill="#b5b5b5"/>
<rect x="235.2" y="8.4" width="10.1" height="8.7" fill="#a7a7a7"/>
<rect x="245.0" y="8.4" width="19.9" height="8.7" fill="#8e8e8e"/>
<rect x="264.6" y="8.4" width="59.1" height="8.7" fill="#9c9c9c"/>
<rect x="-29.4" y="16.7" width="68.9" height="8.7" fill="#888888"/>
<rect x="39.2" y="16.7" width="10.1" height="8.7" fill="#7a7a7a"/>
<rect x="49.0" y="16.7" width="10.1" height="8.7" fill="#555555"/>
<rect x="58.8" y="16.7" width="19.9" height="8.7" fill="#474747"/>
<rect x="78.4" y="16.7" width="29.7" height="8.7" fill="#393939"/>
<rect x="107.8" y="16.7" width="10.1" height="8.7" fill="#474747"/>
<rect x="117.6" y="16.7" width="10.1" height="8.7" fill="#636363"/>
<rect x="127.4" y="16.7" width="10.1" height="8.7" fill="#808080"/>
<rect x="137.2" y="16.7" width="19.9" height="8.7" fill="#9c9c9c"/>
<rect x="156.8" y="16.7" width="19.9" height="8.7" fill="#aaaaaa"/>
<rect x="176.4" y="16.7" width="10.1" height="8.7" fill="#b8b8b8"/>
<rect x="186.2" y="16.7" width="49.3" height="8.7" fill="#d2d2d2"/>
<rect x="235.2" y="16.7" width="10.1" height="8.7" fill="#c4c4c4"/>
<rect x="245.0" y="16.7" width="78.7" height="8.7" fill="#b8b8b8"/>
<rect x="-29.4" y="25.1" width="59.1" height="8.7" fill="#999999"/>
<rect x="29.4" y="25.1" width="10.1" height="8.7" fill="#8b8b8b"/>
<rect x="39.2" y="25.1" width="10.1" height="8.7" fill="#969696"/>
<rect x="49.0" y="25.1" width="10.1" height="8.7" fill="#717171"/>
<rect x="58.8" y="25.1" width="10.1" height="8.7" fill="#636363"/>
<rect x="68.6" y="25.1" width="19.9" height="8.7" fill="#555555"/>
<rect x="88.2" y="25.1" width="19.9" height="8.7" fill="#474747"/>
<rect x="107.8" y="25.1" width="10.1" height="8.7" fill="#636363"/>
<rect x="117.6" y="25.1" width="10.1" height="8.7" fill="#828282"/>
<rect x="127.4" y="25.1" width="10.1" height="8.7" fill="#adadad"/>
<rect x="137.2" y="25.1" width="10.1" height="8.7" fill="#d4d4d4"/>
<rect x="147.0" y="25.1" width="29.7" height="8.7" fill="#b8b8b8"/>
<rect x="176.4" y="25.1" width="10.1" height="8.7" fill="#c6c6c6"/>
<rect x="186.2" y="25.1" width="29.7" height="8.7" fill="#d4d4d4"/>
<rect x="215.6" y="25.1" width="29.7" height="8.7" fill="#c6c6c6"/>
<rect x="245.0" y="25.1" width="19.9" height="8.7" fill="#b8b8b8"/>
<rect x="264.6" y="25.1" width="59.1" height="8.7" fill="#c6c6c6"/>
<rect x="-29.4" y="33.4" width="49.3" height="8.7" fill="#c1c1c1"/>
<rect x="19.6" y="33.4" width="10.1" height="8.7" fill="#b3b3b3"/>
<rect x="29.4" y="33.4" width="10.1" height="8.7" fill="#999999"/>
<rect x="39.2" y="33.4" width="10.1" height="8.7" fill="#9c9c9c"/>
<rect x="49.0" y="33.4" width="10.1" height="8.7" fill="#8e8e8e"/>
<rect x="58.8" y="33.4" width="49.3" height="8.7" fill="#808080"/>
<rect x="107.8" y="33.4" width="10.1" height="8.7" fill="#8e8e8e"/>
<rect x="117.6" y="33.4" width="10.1" height="8.7" fill="#adadad"/>
<rect x="127.4" y="33.4" width="10.1" height="8.7" fill="#c9c9c9"/>
<rect x="137.2" y="33.4" width="10.1" height="8.7" fill="#e3e3e3"/>
<rect x="147.0" y="33.4" width="39.5" height="8.7" fill="#d4d4d4"/>
<rect x="186.2" y="33.4" width="39.5" height="8.7" fill="#e3e3e3"/>
<rect x="225.4" y="33.4" width="29.7" height="8.7" fill="#d4d4d4"/>
<rect x="254.8" y="33.4" width="19.9" height="8.7" fill="#e3e3e3"/>
<rect x="274.4" y="33.4" width="10.1" height="8.7" fill="#f1f1f1"/>
<rect x="284.2" y="33.4" width="39.5" height="8.7" fill="#e3e3e3"/>
<rect x="-29.4" y="41.8" width="49.3" height="8.7" fill="#c1c1c1"/>
<rect x="19.6" y="41.8" width="10.1" height="8.7" fill="#b3b3b3"/>
<rect x="29.4" y="41.8" width="10.1" height="8.7" fill="#999999"/>
<rect x="39.2" y="41.8" width="10.1" height="8.7" fill="#9c9c9c"/>
<rect x="49.0" y="41.8" width="10.1" height="8.7" fill="#8e8e8e"/>
<rect x="58.8" y="41.8" width="49.3" height="8.7" fill="#808080"/>
<rect x="107.8" y="41.8" width="10.1" height="8.7" fill="#8e8e8e"/>
<rect x="117.6" y="41.8" width="10.1" height="8.7" fill="#adadad"/>
<rect x="127.4" y="41.8" width="10.1" height="8.7" fill="#c9c9c9"/>
<rect x="137.2" y="41.8" width="10.1" height="8.7" fill="#e3e3e3"/>
<rect x="147.0" y="41.8" width="39.5" height="8.7" fill="#d4d4d4"/>
<rect x="186.2" y="41.8" width="39.5" height="8.7" fill="#e3e3e3"/>
<rect x="225.4" y="41.8" width="29.7" height="8.7" fill="#d4d4d4"/>
<rect x="254.8" y="41.8" width="19.9" height="8.7" fill="#e3e3e3"/>
<rect x="274.4" y="41.8" width="10.1" height="8.7" fill="#f1f1f1"/>
<rect x="284.2" y="41.8" width="39.5" height="8.7" fill="#e3e3e3"/>
<rect x="-29.4" y="50.2" width="49.3" height="8.7" fill="#c1c1c1"/>
<rect x="19.6" y="50.2" width="10.1" height="8.7" fill="#b3b3b3"/>
<rect x="29.4" y="50.2" width="10.1" height="8.7" fill="#999999"/>
<rect x="39.2" y="50.2" width="10.1" height="8.7" fill="#9c9c9c"/>
<rect x="49.0" y="50.2" width="10.1" height="8.7" fill="#8e8e8e"/>
<rect x="58.8" y="50.2" width="49.3" height="8.7" fill="#808080"/>
<rect x="107.8" y="50.2" width="10.1" height="8.7" fill="#8e8e8e"/>
<rect x="117.6" y="50.2" width="10.1" height="8.7" fill="#adadad"/>
<rect x="127.4" y="50.2" width="10.1" height="8.7" fill="#c9c9c9"/>
<rect x="137.2" y="50.2" width="10.1" height="8.7" fill="#e3e3e3"/>
<rect x="147.0" y="50.2" width="39.5" height="8.7" fill="#d4d4d4"/>
<rect x="186.2" y="50.2" width="39.5" height="8.7" fill="#e3e3e3"/>
<rect x="225.4" y="50.2" width="29.7" height="8.7" fill="#d4d4d4"/>
<rect x="254.8" y="50.2" width="19.9" height="8.7" fill="#e3e3e3"/>
<rect x="274.4" y="50.2" width="10.1" height="8.7" fill="#f1f1f1"/>
<rect x="284.2" y="50.2" width="39.5" height="8.7" fill="#e3e3e3"/>
<rect x="-29.4" y="58.5" width="49.3" height="8.7" fill="#c1c1c1"/>
<rect x="19.6" y="58.5" width="10.1" height="8.7" fill="#b3b3b3"/>
<rect x="29.4" y="58.5" width="10.1" height="8.7" fill="#999999"/>
<rect x="39.2" y="58.5" width="10.1" height="8.7" fill="#9c9c9c"/>
<rect x="49.0" y="58.5" width="10.1" height="8.7" fill="#8e8e8e"/>
<rect x="58.8" y="58.5" width="49.3" height="8.7" fill="#808080"/>
<rect x="107.8" y="58.5" width="10.1" height="8.7" fill="#8e8e8e"/>
<rect x="117.6" y="58.5" width="10.1" height="8.7" fill="#adadad"/>
<rect x="127.4" y="58.5" width="10.1" height="8.7" fill="#c9c9c9"/>
<rect x="137.2" y="58.5" width="10.1" height="8.7" fill="#e3e3e3"/>
<rect x="147.0" y="58.5" width="39.5" height="8.7" fill="#d4d4d4"/>
<rect x="186.2" y="58.5" width="39.5" height="8.7" fill="#e3e3e3"/>
<rect x="225.4" y="58.5" width="29.7" height="8.7" fill="#d4d4d4"/>
<rect x="254.8" y="58.5" width="19.9" height="8.7" fill="#e3e3e3"/>
<rect x="274.4" y="58.5" width="10.1" height="8.7" fill="#f1f1f1"/>
<rect x="284.2" y="58.5" width="39.5" height="8.7" fill="#e3e3e3"/>
</g></svg>
<rect x="65" y="169.9" width="294" height="41.8" fill="none" stroke="#111" stroke-width="1.5"/>
<svg x="65" y="227.9" width="294" height="41.8" overflow="hidden">
<g filter="url(#jet)" shape-rendering="crispEdges">
<rect x="-29.4" y="-25.1" width="39.5" height="8.7" fill="#303030"/>
<rect x="9.8" y="-25.1" width="10.1" height="8.7" fill="#0b0b0b"/>
<rect x="19.6" y="-25.1" width="10.1" height="8.7" fill="#191919"/>
<rect x="29.4" y="-25.1" width="10.1" height="8.7" fill="#0b0b0b"/>
<rect x="39.2" y="-25.1" width="19.9" height="8.7" fill="#000000"/>
<rect x="58.8" y="-25.1" width="10.1" height="8.7" fill="#000000"/>
<rect x="68.6" y="-25.1" width="10.1" height="8.7" fill="#000000"/>
<rect x="78.4" y="-25.1" width="10.1" height="8.7" fill="#000000"/>
<rect x="88.2" y="-25.1" width="10.1" height="8.7" fill="#060606"/>
<rect x="98.0" y="-25.1" width="19.9" height="8.7" fill="#000000"/>
<rect x="117.6" y="-25.1" width="10.1" height="8.7" fill="#141414"/>
<rect x="127.4" y="-25.1" width="10.1" height="8.7" fill="#303030"/>
<rect x="137.2" y="-25.1" width="10.1" height="8.7" fill="#3e3e3e"/>
<rect x="147.0" y="-25.1" width="10.1" height="8.7" fill="#4d4d4d"/>
<rect x="156.8" y="-25.1" width="10.1" height="8.7" fill="#444444"/>
<rect x="166.6" y="-25.1" width="10.1" height="8.7" fill="#3e3e3e"/>
<rect x="176.4" y="-25.1" width="10.1" height="8.7" fill="#5b5b5b"/>
<rect x="186.2" y="-25.1" width="10.1" height="8.7" fill="#777777"/>
<rect x="196.0" y="-25.1" width="10.1" height="8.7" fill="#858585"/>
<rect x="205.8" y="-25.1" width="10.1" height="8.7" fill="#8b8b8b"/>
<rect x="215.6" y="-25.1" width="39.5" height="8.7" fill="#939393"/>
<rect x="254.8" y="-25.1" width="19.9" height="8.7" fill="#b0b0b0"/>
<rect x="274.4" y="-25.1" width="10.1" height="8.7" fill="#999999"/>
<rect x="284.2" y="-25.1" width="39.5" height="8.7" fill="#777777"/>
<rect x="-29.4" y="-16.7" width="39.5" height="8.7" fill="#303030"/>
<rect x="9.8" y="-16.7" width="10.1" height="8.7" fill="#0b0b0b"/>
<rect x="19.6" y="-16.7" width="10.1" height="8.7" fill="#191919"/>
<rect x="29.4" y="-16.7" width="10.1" height="8.7" fill="#0b0b0b"/>
<rect x="39.2" y="-16.7" width="19.9" height="8.7" fill="#000000"/>
<rect x="58.8" y="-16.7" width="10.1" height="8.7" fill="#000000"/>
<rect x="68.6" y="-16.7" width="10.1" height="8.7" fill="#000000"/>
<rect x="78.4" y="-16.7" width="10.1" height="8.7" fill="#000000"/>
<rect x="88.2" y="-16.7" width="10.1" height="8.7" fill="#060606"/>
<rect x="98.0" y="-16.7" width="19.9" height="8.7" fill="#000000"/>
<rect x="117.6" y="-16.7" width="10.1" height="8.7" fill="#141414"/>
<rect x="127.4" y="-16.7" width="10.1" height="8.7" fill="#303030"/>
<rect x="137.2" y="-16.7" width="10.1" height="8.7" fill="#3e3e3e"/>
<rect x="147.0" y="-16.7" width="10.1" height="8.7" fill="#4d4d4d"/>
<rect x="156.8" y="-16.7" width="10.1" height="8.7" fill="#444444"/>
<rect x="166.6" y="-16.7" width="10.1" height="8.7" fill="#3e3e3e"/>
<rect x="176.4" y="-16.7" width="10.1" height="8.7" fill="#5b5b5b"/>
<rect x="186.2" y="-16.7" width="10.1" height="8.7" fill="#777777"/>
<rect x="196.0" y="-16.7" width="10.1" height="8.7" fill="#858585"/>
<rect x="205.8" y="-16.7" width="10.1" height="8.7" fill="#8b8b8b"/>
<rect x="215.6" y="-16.7" width="39.5" height="8.7" fill="#939393"/>
<rect x="254.8" y="-16.7" width="19.9" height="8.7" fill="#b0b0b0"/>
<rect x="274.4" y="-16.7" width="10.1" height="8.7" fill="#999999"/>
<rect x="284.2" y="-16.7" width="39.5" height="8.7" fill="#777777"/>
<rect x="-29.4" y="-8.4" width="39.5" height="8.7" fill="#303030"/>
<rect x="9.8" y="-8.4" width="10.1" height="8.7" fill="#0b0b0b"/>
<rect x="19.6" y="-8.4" width="10.1" height="8.7" fill="#191919"/>
<rect x="29.4" y="-8.4" width="10.1" height="8.7" fill="#0b0b0b"/>
<rect x="39.2" y="-8.4" width="19.9" height="8.7" fill="#000000"/>
<rect x="58.8" y="-8.4" width="10.1" height="8.7" fill="#000000"/>
<rect x="68.6" y="-8.4" width="10.1" height="8.7" fill="#000000"/>
<rect x="78.4" y="-8.4" width="10.1" height="8.7" fill="#000000"/>
<rect x="88.2" y="-8.4" width="10.1" height="8.7" fill="#060606"/>
<rect x="98.0" y="-8.4" width="19.9" height="8.7" fill="#000000"/>
<rect x="117.6" y="-8.4" width="10.1" height="8.7" fill="#141414"/>
<rect x="127.4" y="-8.4" width="10.1" height="8.7" fill="#303030"/>
<rect x="137.2" y="-8.4" width="10.1" height="8.7" fill="#3e3e3e"/>
<rect x="147.0" y="-8.4" width="10.1" height="8.7" fill="#4d4d4d"/>
<rect x="156.8" y="-8.4" width="10.1" height="8.7" fill="#444444"/>
<rect x="166.6" y="-8.4" width="10.1" height="8.7" fill="#3e3e3e"/>
<rect x="176.4" y="-8.4" width="10.1" height="8.7" fill="#5b5b5b"/>
<rect x="186.2" y="-8.4" width="10.1" height="8.7" fill="#777777"/>
<rect x="196.0" y="-8.4" width="10.1" height="8.7" fill="#858585"/>
<rect x="205.8" y="-8.4" width="10.1" height="8.7" fill="#8b8b8b"/>
<rect x="215.6" y="-8.4" width="39.5" height="8.7" fill="#939393"/>
<rect x="254.8" y="-8.4" width="19.9" height="8.7" fill="#b0b0b0"/>
<rect x="274.4" y="-8.4" width="10.1" height="8.7" fill="#999999"/>
<rect x="284.2" y="-8.4" width="39.5" height="8.7" fill="#777777"/>
<rect x="-29.4" y="0.0" width="39.5" height="8.7" fill="#474747"/>
<rect x="9.8" y="0.0" width="10.1" height="8.7" fill="#222222"/>
<rect x="19.6" y="0.0" width="10.1" height="8.7" fill="#303030"/>
<rect x="29.4" y="0.0" width="10.1" height="8.7" fill="#222222"/>
<rect x="39.2" y="0.0" width="19.9" height="8.7" fill="#141414"/>
<rect x="58.8" y="0.0" width="10.1" height="8.7" fill="#0e0e0e"/>
<rect x="68.6" y="0.0" width="10.1" height="8.7" fill="#060606"/>
<rect x="78.4" y="0.0" width="10.1" height="8.7" fill="#141414"/>
<rect x="88.2" y="0.0" width="10.1" height="8.7" fill="#1c1c1c"/>
<rect x="98.0" y="0.0" width="19.9" height="8.7" fill="#0e0e0e"/>
<rect x="117.6" y="0.0" width="10.1" height="8.7" fill="#2a2a2a"/>
<rect x="127.4" y="0.0" width="10.1" height="8.7" fill="#474747"/>
<rect x="137.2" y="0.0" width="10.1" height="8.7" fill="#555555"/>
<rect x="147.0" y="0.0" width="10.1" height="8.7" fill="#636363"/>
<rect x="156.8" y="0.0" width="10.1" height="8.7" fill="#5b5b5b"/>
<rect x="166.6" y="0.0" width="10.1" height="8.7" fill="#555555"/>
<rect x="176.4" y="0.0" width="10.1" height="8.7" fill="#717171"/>
<rect x="186.2" y="0.0" width="10.1" height="8.7" fill="#8e8e8e"/>
<rect x="196.0" y="0.0" width="10.1" height="8.7" fill="#9c9c9c"/>
<rect x="205.8" y="0.0" width="10.1" height="8.7" fill="#a2a2a2"/>
<rect x="215.6" y="0.0" width="39.5" height="8.7" fill="#aaaaaa"/>
<rect x="254.8" y="0.0" width="19.9" height="8.7" fill="#c6c6c6"/>
<rect x="274.4" y="0.0" width="10.1" height="8.7" fill="#b0b0b0"/>
<rect x="284.2" y="0.0" width="39.5" height="8.7" fill="#8e8e8e"/>
<rect x="-29.4" y="8.4" width="39.5" height="8.7" fill="#636363"/>
<rect x="9.8" y="8.4" width="10.1" height="8.7" fill="#2a2a2a"/>
<rect x="19.6" y="8.4" width="10.1" height="8.7" fill="#393939"/>
<rect x="29.4" y="8.4" width="10.1" height="8.7" fill="#303030"/>
<rect x="39.2" y="8.4" width="10.1" height="8.7" fill="#191919"/>
<rect x="49.0" y="8.4" width="10.1" height="8.7" fill="#2a2a2a"/>
<rect x="58.8" y="8.4" width="10.1" height="8.7" fill="#191919"/>
<rect x="68.6" y="8.4" width="10.1" height="8.7" fill="#222222"/>
<rect x="78.4" y="8.4" width="10.1" height="8.7" fill="#555555"/>
<rect x="88.2" y="8.4" width="10.1" height="8.7" fill="#474747"/>
<rect x="98.0" y="8.4" width="10.1" height="8.7" fill="#2a2a2a"/>
<rect x="107.8" y="8.4" width="10.1" height="8.7" fill="#393939"/>
<rect x="117.6" y="8.4" width="10.1" height="8.7" fill="#636363"/>
<rect x="127.4" y="8.4" width="10.1" height="8.7" fill="#9c9c9c"/>
<rect x="137.2" y="8.4" width="10.1" height="8.7" fill="#8e8e8e"/>
<rect x="147.0" y="8.4" width="10.1" height="8.7" fill="#808080"/>
<rect x="156.8" y="8.4" width="10.1" height="8.7" fill="#636363"/>
<rect x="166.6" y="8.4" width="10.1" height="8.7" fill="#555555"/>
<rect x="176.4" y="8.4" width="10.1" height="8.7" fill="#808080"/>
<rect x="186.2" y="8.4" width="10.1" height="8.7" fill="#a2a2a2"/>
<rect x="196.0" y="8.4" width="10.1" height="8.7" fill="#b0b0b0"/>
<rect x="205.8" y="8.4" width="10.1" height="8.7" fill="#bebebe"/>
<rect x="215.6" y="8.4" width="10.1" height="8.7" fill="#c4c4c4"/>
<rect x="225.4" y="8.4" width="10.1" height="8.7" fill="#bebebe"/>
<rect x="235.2" y="8.4" width="10.1" height="8.7" fill="#b8b8b8"/>
<rect x="245.0" y="8.4" width="10.1" height="8.7" fill="#bebebe"/>
<rect x="254.8" y="8.4" width="10.1" height="8.7" fill="#dddddd"/>
<rect x="264.6" y="8.4" width="10.1" height="8.7" fill="#e3e3e3"/>
<rect x="274.4" y="8.4" width="10.1" height="8.7" fill="#cccccc"/>
<rect x="284.2" y="8.4" width="39.5" height="8.7" fill="#9c9c9c"/>
<rect x="-29.4" y="16.7" width="39.5" height="8.7" fill="#636363"/>
<rect x="9.8" y="16.7" width="19.9" height="8.7" fill="#303030"/>
<rect x="29.4" y="16.7" width="10.1" height="8.7" fill="#393939"/>
<rect x="39.2" y="16.7" width="10.1" height="8.7" fill="#1c1c1c"/>
<rect x="49.0" y="16.7" width="10.1" height="8.7" fill="#363636"/>
<rect x="58.8" y="16.7" width="10.1" height="8.7" fill="#1c1c1c"/>
<rect x="68.6" y="16.7" width="10.1" height="8.7" fill="#303030"/>
<rect x="78.4" y="16.7" width="10.1" height="8.7" fill="#5b5b5b"/>
<rect x="88.2" y="16.7" width="10.1" height="8.7" fill="#555555"/>
<rect x="98.0" y="16.7" width="10.1" height="8.7" fill="#474747"/>
<rect x="107.8" y="16.7" width="10.1" height="8.7" fill="#555555"/>
<rect x="117.6" y="16.7" width="10.1" height="8.7" fill="#8e8e8e"/>
<rect x="127.4" y="16.7" width="29.7" height="8.7" fill="#aaaaaa"/>
<rect x="156.8" y="16.7" width="10.1" height="8.7" fill="#717171"/>
<rect x="166.6" y="16.7" width="10.1" height="8.7" fill="#5b5b5b"/>
<rect x="176.4" y="16.7" width="10.1" height="8.7" fill="#808080"/>
<rect x="186.2" y="16.7" width="10.1" height="8.7" fill="#b8b8b8"/>
<rect x="196.0" y="16.7" width="10.1" height="8.7" fill="#c6c6c6"/>
<rect x="205.8" y="16.7" width="10.1" height="8.7" fill="#c1c1c1"/>
<rect x="215.6" y="16.7" width="29.7" height="8.7" fill="#c6c6c6"/>
<rect x="245.0" y="16.7" width="10.1" height="8.7" fill="#d4d4d4"/>
<rect x="254.8" y="16.7" width="19.9" height="8.7" fill="#ebebeb"/>
<rect x="274.4" y="16.7" width="10.1" height="8.7" fill="#dadada"/>
<rect x="284.2" y="16.7" width="39.5" height="8.7" fill="#aaaaaa"/>
<rect x="-29.4" y="25.1" width="39.5" height="8.7" fill="#555555"/>
<rect x="9.8" y="25.1" width="10.1" height="8.7" fill="#2a2a2a"/>
<rect x="19.6" y="25.1" width="10.1" height="8.7" fill="#222222"/>
<rect x="29.4" y="25.1" width="10.1" height="8.7" fill="#303030"/>
<rect x="39.2" y="25.1" width="10.1" height="8.7" fill="#222222"/>
<rect x="49.0" y="25.1" width="10.1" height="8.7" fill="#3e3e3e"/>
<rect x="58.8" y="25.1" width="19.9" height="8.7" fill="#222222"/>
<rect x="78.4" y="25.1" width="10.1" height="8.7" fill="#555555"/>
<rect x="88.2" y="25.1" width="10.1" height="8.7" fill="#5b5b5b"/>
<rect x="98.0" y="25.1" width="10.1" height="8.7" fill="#474747"/>
<rect x="107.8" y="25.1" width="10.1" height="8.7" fill="#636363"/>
<rect x="117.6" y="25.1" width="10.1" height="8.7" fill="#aaaaaa"/>
<rect x="127.4" y="25.1" width="19.9" height="8.7" fill="#c1c1c1"/>
<rect x="147.0" y="25.1" width="10.1" height="8.7" fill="#c6c6c6"/>
<rect x="156.8" y="25.1" width="10.1" height="8.7" fill="#8e8e8e"/>
<rect x="166.6" y="25.1" width="10.1" height="8.7" fill="#6e6e6e"/>
<rect x="176.4" y="25.1" width="10.1" height="8.7" fill="#8e8e8e"/>
<rect x="186.2" y="25.1" width="10.1" height="8.7" fill="#c6c6c6"/>
<rect x="196.0" y="25.1" width="10.1" height="8.7" fill="#cfcfcf"/>
<rect x="205.8" y="25.1" width="10.1" height="8.7" fill="#c1c1c1"/>
<rect x="215.6" y="25.1" width="29.7" height="8.7" fill="#c6c6c6"/>
<rect x="245.0" y="25.1" width="10.1" height="8.7" fill="#d4d4d4"/>
<rect x="254.8" y="25.1" width="10.1" height="8.7" fill="#f1f1f1"/>
<rect x="264.6" y="25.1" width="10.1" height="8.7" fill="#ebebeb"/>
<rect x="274.4" y="25.1" width="10.1" height="8.7" fill="#e8e8e8"/>
<rect x="284.2" y="25.1" width="39.5" height="8.7" fill="#b8b8b8"/>
<rect x="-29.4" y="33.4" width="39.5" height="8.7" fill="#474747"/>
<rect x="9.8" y="33.4" width="10.1" height="8.7" fill="#3e3e3e"/>
<rect x="19.6" y="33.4" width="29.7" height="8.7" fill="#303030"/>
<rect x="49.0" y="33.4" width="10.1" height="8.7" fill="#3e3e3e"/>
<rect x="58.8" y="33.4" width="10.1" height="8.7" fill="#303030"/>
<rect x="68.6" y="33.4" width="10.1" height="8.7" fill="#282828"/>
<rect x="78.4" y="33.4" width="29.7" height="8.7" fill="#474747"/>
<rect x="107.8" y="33.4" width="10.1" height="8.7" fill="#636363"/>
<rect x="117.6" y="33.4" width="10.1" height="8.7" fill="#b8b8b8"/>
<rect x="127.4" y="33.4" width="29.7" height="8.7" fill="#c6c6c6"/>
<rect x="156.8" y="33.4" width="10.1" height="8.7" fill="#aaaaaa"/>
<rect x="166.6" y="33.4" width="10.1" height="8.7" fill="#888888"/>
<rect x="176.4" y="33.4" width="10.1" height="8.7" fill="#9c9c9c"/>
<rect x="186.2" y="33.4" width="29.7" height="8.7" fill="#c6c6c6"/>
<rect x="215.6" y="33.4" width="19.9" height="8.7" fill="#d4d4d4"/>
<rect x="235.2" y="33.4" width="10.1" height="8.7" fill="#cccccc"/>
<rect x="245.0" y="33.4" width="10.1" height="8.7" fill="#e3e3e3"/>
<rect x="254.8" y="33.4" width="10.1" height="8.7" fill="#f1f1f1"/>
<rect x="264.6" y="33.4" width="10.1" height="8.7" fill="#ebebeb"/>
<rect x="274.4" y="33.4" width="10.1" height="8.7" fill="#e3e3e3"/>
<rect x="284.2" y="33.4" width="39.5" height="8.7" fill="#b8b8b8"/>
<rect x="-29.4" y="41.8" width="39.5" height="8.7" fill="#474747"/>
<rect x="9.8" y="41.8" width="10.1" height="8.7" fill="#3e3e3e"/>
<rect x="19.6" y="41.8" width="29.7" height="8.7" fill="#303030"/>
<rect x="49.0" y="41.8" width="10.1" height="8.7" fill="#3e3e3e"/>
<rect x="58.8" y="41.8" width="10.1" height="8.7" fill="#303030"/>
<rect x="68.6" y="41.8" width="10.1" height="8.7" fill="#282828"/>
<rect x="78.4" y="41.8" width="29.7" height="8.7" fill="#474747"/>
<rect x="107.8" y="41.8" width="10.1" height="8.7" fill="#636363"/>
<rect x="117.6" y="41.8" width="10.1" height="8.7" fill="#b8b8b8"/>
<rect x="127.4" y="41.8" width="29.7" height="8.7" fill="#c6c6c6"/>
<rect x="156.8" y="41.8" width="10.1" height="8.7" fill="#aaaaaa"/>
<rect x="166.6" y="41.8" width="10.1" height="8.7" fill="#888888"/>
<rect x="176.4" y="41.8" width="10.1" height="8.7" fill="#9c9c9c"/>
<rect x="186.2" y="41.8" width="29.7" height="8.7" fill="#c6c6c6"/>
<rect x="215.6" y="41.8" width="19.9" height="8.7" fill="#d4d4d4"/>
<rect x="235.2" y="41.8" width="10.1" height="8.7" fill="#cccccc"/>
<rect x="245.0" y="41.8" width="10.1" height="8.7" fill="#e3e3e3"/>
<rect x="254.8" y="41.8" width="10.1" height="8.7" fill="#f1f1f1"/>
<rect x="264.6" y="41.8" width="10.1" height="8.7" fill="#ebebeb"/>
<rect x="274.4" y="41.8" width="10.1" height="8.7" fill="#e3e3e3"/>
<rect x="284.2" y="41.8" width="39.5" height="8.7" fill="#b8b8b8"/>
<rect x="-29.4" y="50.2" width="39.5" height="8.7" fill="#474747"/>
<rect x="9.8" y="50.2" width="10.1" height="8.7" fill="#3e3e3e"/>
<rect x="19.6" y="50.2" width="29.7" height="8.7" fill="#303030"/>
<rect x="49.0" y="50.2" width="10.1" height="8.7" fill="#3e3e3e"/>
<rect x="58.8" y="50.2" width="10.1" height="8.7" fill="#303030"/>
<rect x="68.6" y="50.2" width="10.1" height="8.7" fill="#282828"/>
<rect x="78.4" y="50.2" width="29.7" height="8.7" fill="#474747"/>
<rect x="107.8" y="50.2" width="10.1" height="8.7" fill="#636363"/>
<rect x="117.6" y="50.2" width="10.1" height="8.7" fill="#b8b8b8"/>
<rect x="127.4" y="50.2" width="29.7" height="8.7" fill="#c6c6c6"/>
<rect x="156.8" y="50.2" width="10.1" height="8.7" fill="#aaaaaa"/>
<rect x="166.6" y="50.2" width="10.1" height="8.7" fill="#888888"/>
<rect x="176.4" y="50.2" width="10.1" height="8.7" fill="#9c9c9c"/>
<rect x="186.2" y="50.2" width="29.7" height="8.7" fill="#c6c6c6"/>
<rect x="215.6" y="50.2" width="19.9" height="8.7" fill="#d4d4d4"/>
<rect x="235.2" y="50.2" width="10.1" height="8.7" fill="#cccccc"/>
<rect x="245.0" y="50.2" width="10.1" height="8.7" fill="#e3e3e3"/>
<rect x="254.8" y="50.2" width="10.1" height="8.7" fill="#f1f1f1"/>
<rect x="264.6" y="50.2" width="10.1" height="8.7" fill="#ebebeb"/>
<rect x="274.4" y="50.2" width="10.1" height="8.7" fill="#e3e3e3"/>
<rect x="284.2" y="50.2" width="39.5" height="8.7" fill="#b8b8b8"/>
<rect x="-29.4" y="58.5" width="39.5" height="8.7" fill="#474747"/>
<rect x="9.8" y="58.5" width="10.1" height="8.7" fill="#3e3e3e"/>
<rect x="19.6" y="58.5" width="29.7" height="8.7" fill="#303030"/>
<rect x="49.0" y="58.5" width="10.1" height="8.7" fill="#3e3e3e"/>
<rect x="58.8" y="58.5" width="10.1" height="8.7" fill="#303030"/>
<rect x="68.6" y="58.5" width="10.1" height="8.7" fill="#282828"/>
<rect x="78.4" y="58.5" width="29.7" height="8.7" fill="#474747"/>
<rect x="107.8" y="58.5" width="10.1" height="8.7" fill="#636363"/>
<rect x="117.6" y="58.5" width="10.1" height="8.7" fill="#b8b8b8"/>
<rect x="127.4" y="58.5" width="29.7" height="8.7" fill="#c6c6c6"/>
<rect x="156.8" y="58.5" width="10.1" height="8.7" fill="#aaaaaa"/>
<rect x="166.6" y="58.5" width="10.1" height="8.7" fill="#888888"/>
<rect x="176.4" y="58.5" width="10.1" height="8.7" fill="#9c9c9c"/>
<rect x="186.2" y="58.5" width="29.7" height="8.7" fill="#c6c6c6"/>
<rect x="215.6" y="58.5" width="19.9" height="8.7" fill="#d4d4d4"/>
<rect x="235.2" y="58.5" width="10.1" height="8.7" fill="#cccccc"/>
<rect x="245.0" y="58.5" width="10.1" height="8.7" fill="#e3e3e3"/>
<rect x="254.8" y="58.5" width="10.1" height="8.7" fill="#f1f1f1"/>
<rect x="264.6" y="58.5" width="10.1" height="8.7" fill="#ebebeb"/>
<rect x="274.4" y="58.5" width="10.1" height="8.7" fill="#e3e3e3"/>
<rect x="284.2" y="58.5" width="39.5" height="8.7" fill="#b8b8b8"/>
</g></svg>
<rect x="65" y="227.9" width="294" height="41.8" fill="none" stroke="#111" stroke-width="1.5"/>
<svg x="65" y="472.1" width="294" height="41.8" overflow="hidden">
<g filter="url(#jet)" shape-rendering="crispEdges">
<rect x="-29.4" y="-25.1" width="39.5" height="8.7" fill="#000000"/>
<rect x="9.8" y="-25.1" width="10.1" height="8.7" fill="#060606"/>
<rect x="19.6" y="-25.1" width="10.1" height="8.7" fill="#141414"/>
<rect x="29.4" y="-25.1" width="39.5" height="8.7" fill="#0b0b0b"/>
<rect x="68.6" y="-25.1" width="19.9" height="8.7" fill="#141414"/>
<rect x="88.2" y="-25.1" width="19.9" height="8.7" fill="#0b0b0b"/>
<rect x="107.8" y="-25.1" width="10.1" height="8.7" fill="#141414"/>
<rect x="117.6" y="-25.1" width="10.1" height="8.7" fill="#1f1f1f"/>
<rect x="127.4" y="-25.1" width="10.1" height="8.7" fill="#282828"/>
<rect x="137.2" y="-25.1" width="10.1" height="8.7" fill="#303030"/>
<rect x="147.0" y="-25.1" width="10.1" height="8.7" fill="#363636"/>
<rect x="156.8" y="-25.1" width="10.1" height="8.7" fill="#3c3c3c"/>
<rect x="166.6" y="-25.1" width="19.9" height="8.7" fill="#444444"/>
<rect x="186.2" y="-25.1" width="10.1" height="8.7" fill="#3c3c3c"/>
<rect x="196.0" y="-25.1" width="19.9" height="8.7" fill="#363636"/>
<rect x="215.6" y="-25.1" width="19.9" height="8.7" fill="#3c3c3c"/>
<rect x="235.2" y="-25.1" width="10.1" height="8.7" fill="#363636"/>
<rect x="245.0" y="-25.1" width="10.1" height="8.7" fill="#0b0b0b"/>
<rect x="254.8" y="-25.1" width="19.9" height="8.7" fill="#000000"/>
<rect x="274.4" y="-25.1" width="10.1" height="8.7" fill="#0b0b0b"/>
<rect x="284.2" y="-25.1" width="39.5" height="8.7" fill="#141414"/>
<rect x="-29.4" y="-16.7" width="39.5" height="8.7" fill="#000000"/>
<rect x="9.8" y="-16.7" width="10.1" height="8.7" fill="#060606"/>
<rect x="19.6" y="-16.7" width="10.1" height="8.7" fill="#141414"/>
<rect x="29.4" y="-16.7" width="39.5" height="8.7" fill="#0b0b0b"/>
<rect x="68.6" y="-16.7" width="19.9" height="8.7" fill="#141414"/>
<rect x="88.2" y="-16.7" width="19.9" height="8.7" fill="#0b0b0b"/>
<rect x="107.8" y="-16.7" width="10.1" height="8.7" fill="#141414"/>
<rect x="117.6" y="-16.7" width="10.1" height="8.7" fill="#1f1f1f"/>
<rect x="127.4" y="-16.7" width="10.1" height="8.7" fill="#282828"/>
<rect x="137.2" y="-16.7" width="10.1" height="8.7" fill="#303030"/>
<rect x="147.0" y="-16.7" width="10.1" height="8.7" fill="#363636"/>
<rect x="156.8" y="-16.7" width="10.1" height="8.7" fill="#3c3c3c"/>
<rect x="166.6" y="-16.7" width="19.9" height="8.7" fill="#444444"/>
<rect x="186.2" y="-16.7" width="10.1" height="8.7" fill="#3c3c3c"/>
<rect x="196.0" y="-16.7" width="19.9" height="8.7" fill="#363636"/>
<rect x="215.6" y="-16.7" width="19.9" height="8.7" fill="#3c3c3c"/>
<rect x="235.2" y="-16.7" width="10.1" height="8.7" fill="#363636"/>
<rect x="245.0" y="-16.7" width="10.1" height="8.7" fill="#0b0b0b"/>
<rect x="254.8" y="-16.7" width="19.9" height="8.7" fill="#000000"/>
<rect x="274.4" y="-16.7" width="10.1" height="8.7" fill="#0b0b0b"/>
<rect x="284.2" y="-16.7" width="39.5" height="8.7" fill="#141414"/>
<rect x="-29.4" y="-8.4" width="39.5" height="8.7" fill="#000000"/>
<rect x="9.8" y="-8.4" width="10.1" height="8.7" fill="#060606"/>
<rect x="19.6" y="-8.4" width="10.1" height="8.7" fill="#141414"/>
<rect x="29.4" y="-8.4" width="39.5" height="8.7" fill="#0b0b0b"/>
<rect x="68.6" y="-8.4" width="19.9" height="8.7" fill="#141414"/>
<rect x="88.2" y="-8.4" width="19.9" height="8.7" fill="#0b0b0b"/>
<rect x="107.8" y="-8.4" width="10.1" height="8.7" fill="#141414"/>
<rect x="117.6" y="-8.4" width="10.1" height="8.7" fill="#1f1f1f"/>
<rect x="127.4" y="-8.4" width="10.1" height="8.7" fill="#282828"/>
<rect x="137.2" y="-8.4" width="10.1" height="8.7" fill="#303030"/>
<rect x="147.0" y="-8.4" width="10.1" height="8.7" fill="#363636"/>
<rect x="156.8" y="-8.4" width="10.1" height="8.7" fill="#3c3c3c"/>
<rect x="166.6" y="-8.4" width="19.9" height="8.7" fill="#444444"/>
<rect x="186.2" y="-8.4" width="10.1" height="8.7" fill="#3c3c3c"/>
<rect x="196.0" y="-8.4" width="19.9" height="8.7" fill="#363636"/>
<rect x="215.6" y="-8.4" width="19.9" height="8.7" fill="#3c3c3c"/>
<rect x="235.2" y="-8.4" width="10.1" height="8.7" fill="#363636"/>
<rect x="245.0" y="-8.4" width="10.1" height="8.7" fill="#0b0b0b"/>
<rect x="254.8" y="-8.4" width="19.9" height="8.7" fill="#000000"/>
<rect x="274.4" y="-8.4" width="10.1" height="8.7" fill="#0b0b0b"/>
<rect x="284.2" y="-8.4" width="39.5" height="8.7" fill="#141414"/>
<rect x="-29.4" y="0.0" width="39.5" height="8.7" fill="#171717"/>
<rect x="9.8" y="0.0" width="10.1" height="8.7" fill="#1c1c1c"/>
<rect x="19.6" y="0.0" width="10.1" height="8.7" fill="#2a2a2a"/>
<rect x="29.4" y="0.0" width="39.5" height="8.7" fill="#222222"/>
<rect x="68.6" y="0.0" width="19.9" height="8.7" fill="#2a2a2a"/>
<rect x="88.2" y="0.0" width="19.9" height="8.7" fill="#222222"/>
<rect x="107.8" y="0.0" width="10.1" height="8.7" fill="#2a2a2a"/>
<rect x="117.6" y="0.0" width="10.1" height="8.7" fill="#363636"/>
<rect x="127.4" y="0.0" width="10.1" height="8.7" fill="#3e3e3e"/>
<rect x="137.2" y="0.0" width="10.1" height="8.7" fill="#474747"/>
<rect x="147.0" y="0.0" width="10.1" height="8.7" fill="#4d4d4d"/>
<rect x="156.8" y="0.0" width="10.1" height="8.7" fill="#525252"/>
<rect x="166.6" y="0.0" width="19.9" height="8.7" fill="#5b5b5b"/>
<rect x="186.2" y="0.0" width="10.1" height="8.7" fill="#525252"/>
<rect x="196.0" y="0.0" width="19.9" height="8.7" fill="#4d4d4d"/>
<rect x="215.6" y="0.0" width="19.9" height="8.7" fill="#525252"/>
<rect x="235.2" y="0.0" width="10.1" height="8.7" fill="#4d4d4d"/>
<rect x="245.0" y="0.0" width="10.1" height="8.7" fill="#222222"/>
<rect x="254.8" y="0.0" width="19.9" height="8.7" fill="#171717"/>
<rect x="274.4" y="0.0" width="10.1" height="8.7" fill="#222222"/>
<rect x="284.2" y="0.0" width="39.5" height="8.7" fill="#2a2a2a"/>
<rect x="-29.4" y="8.4" width="39.5" height="8.7" fill="#3e3e3e"/>
<rect x="9.8" y="8.4" width="10.1" height="8.7" fill="#474747"/>
<rect x="19.6" y="8.4" width="10.1" height="8.7" fill="#555555"/>
<rect x="29.4" y="8.4" width="10.1" height="8.7" fill="#474747"/>
<rect x="39.2" y="8.4" width="10.1" height="8.7" fill="#3e3e3e"/>
<rect x="49.0" y="8.4" width="10.1" height="8.7" fill="#474747"/>
<rect x="58.8" y="8.4" width="10.1" height="8.7" fill="#4f4f4f"/>
<rect x="68.6" y="8.4" width="10.1" height="8.7" fill="#474747"/>
<rect x="78.4" y="8.4" width="19.9" height="8.7" fill="#4f4f4f"/>
<rect x="98.0" y="8.4" width="19.9" height="8.7" fill="#474747"/>
<rect x="117.6" y="8.4" width="10.1" height="8.7" fill="#5e5e5e"/>
<rect x="127.4" y="8.4" width="19.9" height="8.7" fill="#636363"/>
<rect x="147.0" y="8.4" width="10.1" height="8.7" fill="#696969"/>
<rect x="156.8" y="8.4" width="10.1" height="8.7" fill="#717171"/>
<rect x="166.6" y="8.4" width="10.1" height="8.7" fill="#7a7a7a"/>
<rect x="176.4" y="8.4" width="10.1" height="8.7" fill="#717171"/>
<rect x="186.2" y="8.4" width="29.7" height="8.7" fill="#696969"/>
<rect x="215.6" y="8.4" width="19.9" height="8.7" fill="#717171"/>
<rect x="235.2" y="8.4" width="10.1" height="8.7" fill="#696969"/>
<rect x="245.0" y="8.4" width="10.1" height="8.7" fill="#525252"/>
<rect x="254.8" y="8.4" width="10.1" height="8.7" fill="#444444"/>
<rect x="264.6" y="8.4" width="10.1" height="8.7" fill="#4a4a4a"/>
<rect x="274.4" y="8.4" width="10.1" height="8.7" fill="#5b5b5b"/>
<rect x="284.2" y="8.4" width="39.5" height="8.7" fill="#555555"/>
<rect x="-29.4" y="16.7" width="49.3" height="8.7" fill="#5b5b5b"/>
<rect x="19.6" y="16.7" width="10.1" height="8.7" fill="#636363"/>
<rect x="29.4" y="16.7" width="19.9" height="8.7" fill="#5b5b5b"/>
<rect x="49.0" y="16.7" width="10.1" height="8.7" fill="#636363"/>
<rect x="58.8" y="16.7" width="49.3" height="8.7" fill="#717171"/>
<rect x="107.8" y="16.7" width="10.1" height="8.7" fill="#777777"/>
<rect x="117.6" y="16.7" width="10.1" height="8.7" fill="#8b8b8b"/>
<rect x="127.4" y="16.7" width="49.3" height="8.7" fill="#a7a7a7"/>
<rect x="176.4" y="16.7" width="10.1" height="8.7" fill="#999999"/>
<rect x="186.2" y="16.7" width="10.1" height="8.7" fill="#939393"/>
<rect x="196.0" y="16.7" width="19.9" height="8.7" fill="#8b8b8b"/>
<rect x="215.6" y="16.7" width="29.7" height="8.7" fill="#999999"/>
<rect x="245.0" y="16.7" width="10.1" height="8.7" fill="#808080"/>
<rect x="254.8" y="16.7" width="19.9" height="8.7" fill="#777777"/>
<rect x="274.4" y="16.7" width="49.3" height="8.7" fill="#808080"/>
<rect x="-29.4" y="25.1" width="68.9" height="8.7" fill="#717171"/>
<rect x="39.2" y="25.1" width="10.1" height="8.7" fill="#777777"/>
<rect x="49.0" y="25.1" width="10.1" height="8.7" fill="#808080"/>
<rect x="58.8" y="25.1" width="39.5" height="8.7" fill="#8e8e8e"/>
<rect x="98.0" y="25.1" width="10.1" height="8.7" fill="#9c9c9c"/>
<rect x="107.8" y="25.1" width="10.1" height="8.7" fill="#a4a4a4"/>
<rect x="117.6" y="25.1" width="10.1" height="8.7" fill="#b8b8b8"/>
<rect x="127.4" y="25.1" width="19.9" height="8.7" fill="#d4d4d4"/>
<rect x="147.0" y="25.1" width="10.1" height="8.7" fill="#cccccc"/>
<rect x="156.8" y="25.1" width="19.9" height="8.7" fill="#c6c6c6"/>
<rect x="176.4" y="25.1" width="10.1" height="8.7" fill="#b8b8b8"/>
<rect x="186.2" y="25.1" width="10.1" height="8.7" fill="#b0b0b0"/>
<rect x="196.0" y="25.1" width="19.9" height="8.7" fill="#aaaaaa"/>
<rect x="215.6" y="25.1" width="10.1" height="8.7" fill="#cccccc"/>
<rect x="225.4" y="25.1" width="19.9" height="8.7" fill="#d4d4d4"/>
<rect x="245.0" y="25.1" width="10.1" height="8.7" fill="#c6c6c6"/>
<rect x="254.8" y="25.1" width="29.7" height="8.7" fill="#b8b8b8"/>
<rect x="284.2" y="25.1" width="39.5" height="8.7" fill="#c1c1c1"/>
<rect x="-29.4" y="33.4" width="68.9" height="8.7" fill="#939393"/>
<rect x="39.2" y="33.4" width="19.9" height="8.7" fill="#9c9c9c"/>
<rect x="58.8" y="33.4" width="10.1" height="8.7" fill="#aaaaaa"/>
<rect x="68.6" y="33.4" width="10.1" height="8.7" fill="#b8b8b8"/>
<rect x="78.4" y="33.4" width="10.1" height="8.7" fill="#b0b0b0"/>
<rect x="88.2" y="33.4" width="10.1" height="8.7" fill="#b8b8b8"/>
<rect x="98.0" y="33.4" width="19.9" height="8.7" fill="#c6c6c6"/>
<rect x="117.6" y="33.4" width="10.1" height="8.7" fill="#dddddd"/>
<rect x="127.4" y="33.4" width="10.1" height="8.7" fill="#f1f1f1"/>
<rect x="137.2" y="33.4" width="19.9" height="8.7" fill="#e3e3e3"/>
<rect x="156.8" y="33.4" width="19.9" height="8.7" fill="#e8e8e8"/>
<rect x="176.4" y="33.4" width="10.1" height="8.7" fill="#e3e3e3"/>
<rect x="186.2" y="33.4" width="10.1" height="8.7" fill="#d4d4d4"/>
<rect x="196.0" y="33.4" width="19.9" height="8.7" fill="#cccccc"/>
<rect x="215.6" y="33.4" width="10.1" height="8.7" fill="#dddddd"/>
<rect x="225.4" y="33.4" width="10.1" height="8.7" fill="#e3e3e3"/>
<rect x="235.2" y="33.4" width="19.9" height="8.7" fill="#e8e8e8"/>
<rect x="254.8" y="33.4" width="10.1" height="8.7" fill="#e3e3e3"/>
<rect x="264.6" y="33.4" width="10.1" height="8.7" fill="#dddddd"/>
<rect x="274.4" y="33.4" width="10.1" height="8.7" fill="#d4d4d4"/>
<rect x="284.2" y="33.4" width="39.5" height="8.7" fill="#e3e3e3"/>
<rect x="-29.4" y="41.8" width="68.9" height="8.7" fill="#939393"/>
<rect x="39.2" y="41.8" width="19.9" height="8.7" fill="#9c9c9c"/>
<rect x="58.8" y="41.8" width="10.1" height="8.7" fill="#aaaaaa"/>
<rect x="68.6" y="41.8" width="10.1" height="8.7" fill="#b8b8b8"/>
<rect x="78.4" y="41.8" width="10.1" height="8.7" fill="#b0b0b0"/>
<rect x="88.2" y="41.8" width="10.1" height="8.7" fill="#b8b8b8"/>
<rect x="98.0" y="41.8" width="19.9" height="8.7" fill="#c6c6c6"/>
<rect x="117.6" y="41.8" width="10.1" height="8.7" fill="#dddddd"/>
<rect x="127.4" y="41.8" width="10.1" height="8.7" fill="#f1f1f1"/>
<rect x="137.2" y="41.8" width="19.9" height="8.7" fill="#e3e3e3"/>
<rect x="156.8" y="41.8" width="19.9" height="8.7" fill="#e8e8e8"/>
<rect x="176.4" y="41.8" width="10.1" height="8.7" fill="#e3e3e3"/>
<rect x="186.2" y="41.8" width="10.1" height="8.7" fill="#d4d4d4"/>
<rect x="196.0" y="41.8" width="19.9" height="8.7" fill="#cccccc"/>
<rect x="215.6" y="41.8" width="10.1" height="8.7" fill="#dddddd"/>
<rect x="225.4" y="41.8" width="10.1" height="8.7" fill="#e3e3e3"/>
<rect x="235.2" y="41.8" width="19.9" height="8.7" fill="#e8e8e8"/>
<rect x="254.8" y="41.8" width="10.1" height="8.7" fill="#e3e3e3"/>
<rect x="264.6" y="41.8" width="10.1" height="8.7" fill="#dddddd"/>
<rect x="274.4" y="41.8" width="10.1" height="8.7" fill="#d4d4d4"/>
<rect x="284.2" y="41.8" width="39.5" height="8.7" fill="#e3e3e3"/>
<rect x="-29.4" y="50.2" width="68.9" height="8.7" fill="#939393"/>
<rect x="39.2" y="50.2" width="19.9" height="8.7" fill="#9c9c9c"/>
<rect x="58.8" y="50.2" width="10.1" height="8.7" fill="#aaaaaa"/>
<rect x="68.6" y="50.2" width="10.1" height="8.7" fill="#b8b8b8"/>
<rect x="78.4" y="50.2" width="10.1" height="8.7" fill="#b0b0b0"/>
<rect x="88.2" y="50.2" width="10.1" height="8.7" fill="#b8b8b8"/>
<rect x="98.0" y="50.2" width="19.9" height="8.7" fill="#c6c6c6"/>
<rect x="117.6" y="50.2" width="10.1" height="8.7" fill="#dddddd"/>
<rect x="127.4" y="50.2" width="10.1" height="8.7" fill="#f1f1f1"/>
<rect x="137.2" y="50.2" width="19.9" height="8.7" fill="#e3e3e3"/>
<rect x="156.8" y="50.2" width="19.9" height="8.7" fill="#e8e8e8"/>
<rect x="176.4" y="50.2" width="10.1" height="8.7" fill="#e3e3e3"/>
<rect x="186.2" y="50.2" width="10.1" height="8.7" fill="#d4d4d4"/>
<rect x="196.0" y="50.2" width="19.9" height="8.7" fill="#cccccc"/>
<rect x="215.6" y="50.2" width="10.1" height="8.7" fill="#dddddd"/>
<rect x="225.4" y="50.2" width="10.1" height="8.7" fill="#e3e3e3"/>
<rect x="235.2" y="50.2" width="19.9" height="8.7" fill="#e8e8e8"/>
<rect x="254.8" y="50.2" width="10.1" height="8.7" fill="#e3e3e3"/>
<rect x="264.6" y="50.2" width="10.1" height="8.7" fill="#dddddd"/>
<rect x="274.4" y="50.2" width="10.1" height="8.7" fill="#d4d4d4"/>
<rect x="284.2" y="50.2" width="39.5" height="8.7" fill="#e3e3e3"/>
<rect x="-29.4" y="58.5" width="68.9" height="8.7" fill="#939393"/>
<rect x="39.2" y="58.5" width="19.9" height="8.7" fill="#9c9c9c"/>
<rect x="58.8" y="58.5" width="10.1" height="8.7" fill="#aaaaaa"/>
<rect x="68.6" y="58.5" width="10.1" height="8.7" fill="#b8b8b8"/>
<rect x="78.4" y="58.5" width="10.1" height="8.7" fill="#b0b0b0"/>
<rect x="88.2" y="58.5" width="10.1" height="8.7" fill="#b8b8b8"/>
<rect x="98.0" y="58.5" width="19.9" height="8.7" fill="#c6c6c6"/>
<rect x="117.6" y="58.5" width="10.1" height="8.7" fill="#dddddd"/>
<rect x="127.4" y="58.5" width="10.1" height="8.7" fill="#f1f1f1"/>
<rect x="137.2" y="58.5" width="19.9" height="8.7" fill="#e3e3e3"/>
<rect x="156.8" y="58.5" width="19.9" height="8.7" fill="#e8e8e8"/>
<rect x="176.4" y="58.5" width="10.1" height="8.7" fill="#e3e3e3"/>
<rect x="186.2" y="58.5" width="10.1" height="8.7" fill="#d4d4d4"/>
<rect x="196.0" y="58.5" width="19.9" height="8.7" fill="#cccccc"/>
<rect x="215.6" y="58.5" width="10.1" height="8.7" fill="#dddddd"/>
<rect x="225.4" y="58.5" width="10.1" height="8.7" fill="#e3e3e3"/>
<rect x="235.2" y="58.5" width="19.9" height="8.7" fill="#e8e8e8"/>
<rect x="254.8" y="58.5" width="10.1" height="8.7" fill="#e3e3e3"/>
<rect x="264.6" y="58.5" width="10.1" height="8.7" fill="#dddddd"/>
<rect x="274.4" y="58.5" width="10.1" height="8.7" fill="#d4d4d4"/>
<rect x="284.2" y="58.5" width="39.5" height="8.7" fill="#e3e3e3"/>
</g></svg>
<rect x="65" y="472.1" width="294" height="41.8" fill="none" stroke="#111" stroke-width="1.5"/>
<svg x="65" y="530.3" width="294" height="41.8" overflow="hidden">
<g filter="url(#jet)" shape-rendering="crispEdges">
<rect x="-29.4" y="-25.1" width="49.3" height="8.7" fill="#060606"/>
<rect x="19.6" y="-25.1" width="10.1" height="8.7" fill="#000000"/>
<rect x="29.4" y="-25.1" width="10.1" height="8.7" fill="#060606"/>
<rect x="39.2" y="-25.1" width="10.1" height="8.7" fill="#0b0b0b"/>
<rect x="49.0" y="-25.1" width="10.1" height="8.7" fill="#060606"/>
<rect x="58.8" y="-25.1" width="10.1" height="8.7" fill="#0b0b0b"/>
<rect x="68.6" y="-25.1" width="10.1" height="8.7" fill="#222222"/>
<rect x="78.4" y="-25.1" width="10.1" height="8.7" fill="#303030"/>
<rect x="88.2" y="-25.1" width="10.1" height="8.7" fill="#5b5b5b"/>
<rect x="98.0" y="-25.1" width="10.1" height="8.7" fill="#888888"/>
<rect x="107.8" y="-25.1" width="49.3" height="8.7" fill="#969696"/>
<rect x="156.8" y="-25.1" width="19.9" height="8.7" fill="#9f9f9f"/>
<rect x="176.4" y="-25.1" width="10.1" height="8.7" fill="#969696"/>
<rect x="186.2" y="-25.1" width="10.1" height="8.7" fill="#8e8e8e"/>
<rect x="196.0" y="-25.1" width="10.1" height="8.7" fill="#888888"/>
<rect x="205.8" y="-25.1" width="19.9" height="8.7" fill="#969696"/>
<rect x="225.4" y="-25.1" width="19.9" height="8.7" fill="#a4a4a4"/>
<rect x="245.0" y="-25.1" width="10.1" height="8.7" fill="#a2a2a2"/>
<rect x="254.8" y="-25.1" width="10.1" height="8.7" fill="#858585"/>
<rect x="264.6" y="-25.1" width="10.1" height="8.7" fill="#777777"/>
<rect x="274.4" y="-25.1" width="49.3" height="8.7" fill="#5b5b5b"/>
<rect x="-29.4" y="-16.7" width="49.3" height="8.7" fill="#060606"/>
<rect x="19.6" y="-16.7" width="10.1" height="8.7" fill="#000000"/>
<rect x="29.4" y="-16.7" width="10.1" height="8.7" fill="#060606"/>
<rect x="39.2" y="-16.7" width="10.1" height="8.7" fill="#0b0b0b"/>
<rect x="49.0" y="-16.7" width="10.1" height="8.7" fill="#060606"/>
<rect x="58.8" y="-16.7" width="10.1" height="8.7" fill="#0b0b0b"/>
<rect x="68.6" y="-16.7" width="10.1" height="8.7" fill="#222222"/>
<rect x="78.4" y="-16.7" width="10.1" height="8.7" fill="#303030"/>
<rect x="88.2" y="-16.7" width="10.1" height="8.7" fill="#5b5b5b"/>
<rect x="98.0" y="-16.7" width="10.1" height="8.7" fill="#888888"/>
<rect x="107.8" y="-16.7" width="49.3" height="8.7" fill="#969696"/>
<rect x="156.8" y="-16.7" width="19.9" height="8.7" fill="#9f9f9f"/>
<rect x="176.4" y="-16.7" width="10.1" height="8.7" fill="#969696"/>
<rect x="186.2" y="-16.7" width="10.1" height="8.7" fill="#8e8e8e"/>
<rect x="196.0" y="-16.7" width="10.1" height="8.7" fill="#888888"/>
<rect x="205.8" y="-16.7" width="19.9" height="8.7" fill="#969696"/>
<rect x="225.4" y="-16.7" width="19.9" height="8.7" fill="#a4a4a4"/>
<rect x="245.0" y="-16.7" width="10.1" height="8.7" fill="#a2a2a2"/>
<rect x="254.8" y="-16.7" width="10.1" height="8.7" fill="#858585"/>
<rect x="264.6" y="-16.7" width="10.1" height="8.7" fill="#777777"/>
<rect x="274.4" y="-16.7" width="49.3" height="8.7" fill="#5b5b5b"/>
<rect x="-29.4" y="-8.4" width="49.3" height="8.7" fill="#060606"/>
<rect x="19.6" y="-8.4" width="10.1" height="8.7" fill="#000000"/>
<rect x="29.4" y="-8.4" width="10.1" height="8.7" fill="#060606"/>
<rect x="39.2" y="-8.4" width="10.1" height="8.7" fill="#0b0b0b"/>
<rect x="49.0" y="-8.4" width="10.1" height="8.7" fill="#060606"/>
<rect x="58.8" y="-8.4" width="10.1" height="8.7" fill="#0b0b0b"/>
<rect x="68.6" y="-8.4" width="10.1" height="8.7" fill="#222222"/>
<rect x="78.4" y="-8.4" width="10.1" height="8.7" fill="#303030"/>
<rect x="88.2" y="-8.4" width="10.1" height="8.7" fill="#5b5b5b"/>
<rect x="98.0" y="-8.4" width="10.1" height="8.7" fill="#888888"/>
<rect x="107.8" y="-8.4" width="49.3" height="8.7" fill="#969696"/>
<rect x="156.8" y="-8.4" width="19.9" height="8.7" fill="#9f9f9f"/>
<rect x="176.4" y="-8.4" width="10.1" height="8.7" fill="#969696"/>
<rect x="186.2" y="-8.4" width="10.1" height="8.7" fill="#8e8e8e"/>
<rect x="196.0" y="-8.4" width="10.1" height="8.7" fill="#888888"/>
<rect x="205.8" y="-8.4" width="19.9" height="8.7" fill="#969696"/>
<rect x="225.4" y="-8.4" width="19.9" height="8.7" fill="#a4a4a4"/>
<rect x="245.0" y="-8.4" width="10.1" height="8.7" fill="#a2a2a2"/>
<rect x="254.8" y="-8.4" width="10.1" height="8.7" fill="#858585"/>
<rect x="264.6" y="-8.4" width="10.1" height="8.7" fill="#777777"/>
<rect x="274.4" y="-8.4" width="49.3" height="8.7" fill="#5b5b5b"/>
<rect x="-29.4" y="0.0" width="49.3" height="8.7" fill="#1c1c1c"/>
<rect x="19.6" y="0.0" width="10.1" height="8.7" fill="#171717"/>
<rect x="29.4" y="0.0" width="10.1" height="8.7" fill="#1c1c1c"/>
<rect x="39.2" y="0.0" width="10.1" height="8.7" fill="#222222"/>
<rect x="49.0" y="0.0" width="10.1" height="8.7" fill="#1c1c1c"/>
<rect x="58.8" y="0.0" width="10.1" height="8.7" fill="#222222"/>
<rect x="68.6" y="0.0" width="10.1" height="8.7" fill="#393939"/>
<rect x="78.4" y="0.0" width="10.1" height="8.7" fill="#474747"/>
<rect x="88.2" y="0.0" width="10.1" height="8.7" fill="#717171"/>
<rect x="98.0" y="0.0" width="10.1" height="8.7" fill="#9f9f9f"/>
<rect x="107.8" y="0.0" width="49.3" height="8.7" fill="#adadad"/>
<rect x="156.8" y="0.0" width="19.9" height="8.7" fill="#b5b5b5"/>
<rect x="176.4" y="0.0" width="10.1" height="8.7" fill="#adadad"/>
<rect x="186.2" y="0.0" width="10.1" height="8.7" fill="#a4a4a4"/>
<rect x="196.0" y="0.0" width="10.1" height="8.7" fill="#9f9f9f"/>
<rect x="205.8" y="0.0" width="19.9" height="8.7" fill="#adadad"/>
<rect x="225.4" y="0.0" width="19.9" height="8.7" fill="#bbbbbb"/>
<rect x="245.0" y="0.0" width="10.1" height="8.7" fill="#b8b8b8"/>
<rect x="254.8" y="0.0" width="10.1" height="8.7" fill="#9c9c9c"/>
<rect x="264.6" y="0.0" width="10.1" height="8.7" fill="#8e8e8e"/>
<rect x="274.4" y="0.0" width="49.3" height="8.7" fill="#717171"/>
<rect x="-29.4" y="8.4" width="39.5" height="8.7" fill="#2a2a2a"/>
<rect x="9.8" y="8.4" width="19.9" height="8.7" fill="#222222"/>
<rect x="29.4" y="8.4" width="10.1" height="8.7" fill="#2a2a2a"/>
<rect x="39.2" y="8.4" width="10.1" height="8.7" fill="#333333"/>
<rect x="49.0" y="8.4" width="10.1" height="8.7" fill="#222222"/>
<rect x="58.8" y="8.4" width="10.1" height="8.7" fill="#333333"/>
<rect x="68.6" y="8.4" width="10.1" height="8.7" fill="#555555"/>
<rect x="78.4" y="8.4" width="10.1" height="8.7" fill="#5b5b5b"/>
<rect x="88.2" y="8.4" width="10.1" height="8.7" fill="#8e8e8e"/>
<rect x="98.0" y="8.4" width="19.9" height="8.7" fill="#d2d2d2"/>
<rect x="117.6" y="8.4" width="10.1" height="8.7" fill="#c9c9c9"/>
<rect x="127.4" y="8.4" width="10.1" height="8.7" fill="#dadada"/>
<rect x="137.2" y="8.4" width="10.1" height="8.7" fill="#c9c9c9"/>
<rect x="147.0" y="8.4" width="10.1" height="8.7" fill="#d2d2d2"/>
<rect x="156.8" y="8.4" width="19.9" height="8.7" fill="#e5e5e5"/>
<rect x="176.4" y="8.4" width="10.1" height="8.7" fill="#d2d2d2"/>
<rect x="186.2" y="8.4" width="19.9" height="8.7" fill="#c4c4c4"/>
<rect x="205.8" y="8.4" width="10.1" height="8.7" fill="#dadada"/>
<rect x="215.6" y="8.4" width="10.1" height="8.7" fill="#c9c9c9"/>
<rect x="225.4" y="8.4" width="19.9" height="8.7" fill="#d2d2d2"/>
<rect x="245.0" y="8.4" width="10.1" height="8.7" fill="#c4c4c4"/>
<rect x="254.8" y="8.4" width="10.1" height="8.7" fill="#b8b8b8"/>
<rect x="264.6" y="8.4" width="10.1" height="8.7" fill="#b0b0b0"/>
<rect x="274.4" y="8.4" width="10.1" height="8.7" fill="#a2a2a2"/>
<rect x="284.2" y="8.4" width="39.5" height="8.7" fill="#a7a7a7"/>
<rect x="-29.4" y="16.7" width="39.5" height="8.7" fill="#393939"/>
<rect x="9.8" y="16.7" width="10.1" height="8.7" fill="#222222"/>
<rect x="19.6" y="16.7" width="10.1" height="8.7" fill="#171717"/>
<rect x="29.4" y="16.7" width="10.1" height="8.7" fill="#393939"/>
<rect x="39.2" y="16.7" width="10.1" height="8.7" fill="#474747"/>
<rect x="49.0" y="16.7" width="10.1" height="8.7" fill="#2a2a2a"/>
<rect x="58.8" y="16.7" width="10.1" height="8.7" fill="#393939"/>
<rect x="68.6" y="16.7" width="10.1" height="8.7" fill="#555555"/>
<rect x="78.4" y="16.7" width="10.1" height="8.7" fill="#5b5b5b"/>
<rect x="88.2" y="16.7" width="10.1" height="8.7" fill="#9c9c9c"/>
<rect x="98.0" y="16.7" width="19.9" height="8.7" fill="#dadada"/>
<rect x="117.6" y="16.7" width="10.1" height="8.7" fill="#d2d2d2"/>
<rect x="127.4" y="16.7" width="10.1" height="8.7" fill="#e0e0e0"/>
<rect x="137.2" y="16.7" width="10.1" height="8.7" fill="#d2d2d2"/>
<rect x="147.0" y="16.7" width="10.1" height="8.7" fill="#dadada"/>
<rect x="156.8" y="16.7" width="19.9" height="8.7" fill="#eeeeee"/>
<rect x="176.4" y="16.7" width="10.1" height="8.7" fill="#dadada"/>
<rect x="186.2" y="16.7" width="19.9" height="8.7" fill="#c9c9c9"/>
<rect x="205.8" y="16.7" width="10.1" height="8.7" fill="#e5e5e5"/>
<rect x="215.6" y="16.7" width="10.1" height="8.7" fill="#d2d2d2"/>
<rect x="225.4" y="16.7" width="10.1" height="8.7" fill="#dadada"/>
<rect x="235.2" y="16.7" width="10.1" height="8.7" fill="#e0e0e0"/>
<rect x="245.0" y="16.7" width="10.1" height="8.7" fill="#d4d4d4"/>
<rect x="254.8" y="16.7" width="10.1" height="8.7" fill="#c4c4c4"/>
<rect x="264.6" y="16.7" width="10.1" height="8.7" fill="#bebebe"/>
<rect x="274.4" y="16.7" width="10.1" height="8.7" fill="#b8b8b8"/>
<rect x="284.2" y="16.7" width="39.5" height="8.7" fill="#bebebe"/>
<rect x="-29.4" y="25.1" width="39.5" height="8.7" fill="#3e3e3e"/>
<rect x="9.8" y="25.1" width="10.1" height="8.7" fill="#222222"/>
<rect x="19.6" y="25.1" width="10.1" height="8.7" fill="#171717"/>
<rect x="29.4" y="25.1" width="10.1" height="8.7" fill="#474747"/>
<rect x="39.2" y="25.1" width="10.1" height="8.7" fill="#555555"/>
<rect x="49.0" y="25.1" width="19.9" height="8.7" fill="#393939"/>
<rect x="68.6" y="25.1" width="10.1" height="8.7" fill="#4f4f4f"/>
<rect x="78.4" y="25.1" width="10.1" height="8.7" fill="#636363"/>
<rect x="88.2" y="25.1" width="10.1" height="8.7" fill="#aaaaaa"/>
<rect x="98.0" y="25.1" width="19.9" height="8.7" fill="#e0e0e0"/>
<rect x="117.6" y="25.1" width="10.1" height="8.7" fill="#dadada"/>
<rect x="127.4" y="25.1" width="10.1" height="8.7" fill="#e0e0e0"/>
<rect x="137.2" y="25.1" width="19.9" height="8.7" fill="#dadada"/>
<rect x="156.8" y="25.1" width="19.9" height="8.7" fill="#eeeeee"/>
<rect x="176.4" y="25.1" width="10.1" height="8.7" fill="#dadada"/>
<rect x="186.2" y="25.1" width="19.9" height="8.7" fill="#c9c9c9"/>
<rect x="205.8" y="25.1" width="10.1" height="8.7" fill="#e5e5e5"/>
<rect x="215.6" y="25.1" width="10.1" height="8.7" fill="#dadada"/>
<rect x="225.4" y="25.1" width="10.1" height="8.7" fill="#e5e5e5"/>
<rect x="235.2" y="25.1" width="10.1" height="8.7" fill="#eeeeee"/>
<rect x="245.0" y="25.1" width="10.1" height="8.7" fill="#dadada"/>
<rect x="254.8" y="25.1" width="10.1" height="8.7" fill="#cccccc"/>
<rect x="264.6" y="25.1" width="10.1" height="8.7" fill="#c4c4c4"/>
<rect x="274.4" y="25.1" width="10.1" height="8.7" fill="#bebebe"/>
<rect x="284.2" y="25.1" width="39.5" height="8.7" fill="#cccccc"/>
<rect x="-29.4" y="33.4" width="39.5" height="8.7" fill="#474747"/>
<rect x="9.8" y="33.4" width="10.1" height="8.7" fill="#393939"/>
<rect x="19.6" y="33.4" width="10.1" height="8.7" fill="#2a2a2a"/>
<rect x="29.4" y="33.4" width="10.1" height="8.7" fill="#555555"/>
<rect x="39.2" y="33.4" width="10.1" height="8.7" fill="#5b5b5b"/>
<rect x="49.0" y="33.4" width="10.1" height="8.7" fill="#474747"/>
<rect x="58.8" y="33.4" width="10.1" height="8.7" fill="#3e3e3e"/>
<rect x="68.6" y="33.4" width="10.1" height="8.7" fill="#474747"/>
<rect x="78.4" y="33.4" width="10.1" height="8.7" fill="#717171"/>
<rect x="88.2" y="33.4" width="10.1" height="8.7" fill="#b8b8b8"/>
<rect x="98.0" y="33.4" width="49.3" height="8.7" fill="#e0e0e0"/>
<rect x="147.0" y="33.4" width="10.1" height="8.7" fill="#dadada"/>
<rect x="156.8" y="33.4" width="19.9" height="8.7" fill="#e5e5e5"/>
<rect x="176.4" y="33.4" width="10.1" height="8.7" fill="#dadada"/>
<rect x="186.2" y="33.4" width="10.1" height="8.7" fill="#c9c9c9"/>
<rect x="196.0" y="33.4" width="10.1" height="8.7" fill="#d2d2d2"/>
<rect x="205.8" y="33.4" width="10.1" height="8.7" fill="#e5e5e5"/>
<rect x="215.6" y="33.4" width="10.1" height="8.7" fill="#e0e0e0"/>
<rect x="225.4" y="33.4" width="19.9" height="8.7" fill="#eeeeee"/>
<rect x="245.0" y="33.4" width="10.1" height="8.7" fill="#dadada"/>
<rect x="254.8" y="33.4" width="10.1" height="8.7" fill="#cccccc"/>
<rect x="264.6" y="33.4" width="19.9" height="8.7" fill="#c4c4c4"/>
<rect x="284.2" y="33.4" width="39.5" height="8.7" fill="#dadada"/>
<rect x="-29.4" y="41.8" width="39.5" height="8.7" fill="#474747"/>
<rect x="9.8" y="41.8" width="10.1" height="8.7" fill="#393939"/>
<rect x="19.6" y="41.8" width="10.1" height="8.7" fill="#2a2a2a"/>
<rect x="29.4" y="41.8" width="10.1" height="8.7" fill="#555555"/>
<rect x="39.2" y="41.8" width="10.1" height="8.7" fill="#5b5b5b"/>
<rect x="49.0" y="41.8" width="10.1" height="8.7" fill="#474747"/>
<rect x="58.8" y="41.8" width="10.1" height="8.7" fill="#3e3e3e"/>
<rect x="68.6" y="41.8" width="10.1" height="8.7" fill="#474747"/>
<rect x="78.4" y="41.8" width="10.1" height="8.7" fill="#717171"/>
<rect x="88.2" y="41.8" width="10.1" height="8.7" fill="#b8b8b8"/>
<rect x="98.0" y="41.8" width="49.3" height="8.7" fill="#e0e0e0"/>
<rect x="147.0" y="41.8" width="10.1" height="8.7" fill="#dadada"/>
<rect x="156.8" y="41.8" width="19.9" height="8.7" fill="#e5e5e5"/>
<rect x="176.4" y="41.8" width="10.1" height="8.7" fill="#dadada"/>
<rect x="186.2" y="41.8" width="10.1" height="8.7" fill="#c9c9c9"/>
<rect x="196.0" y="41.8" width="10.1" height="8.7" fill="#d2d2d2"/>
<rect x="205.8" y="41.8" width="10.1" height="8.7" fill="#e5e5e5"/>
<rect x="215.6" y="41.8" width="10.1" height="8.7" fill="#e0e0e0"/>
<rect x="225.4" y="41.8" width="19.9" height="8.7" fill="#eeeeee"/>
<rect x="245.0" y="41.8" width="10.1" height="8.7" fill="#dadada"/>
<rect x="254.8" y="41.8" width="10.1" height="8.7" fill="#cccccc"/>
<rect x="264.6" y="41.8" width="19.9" height="8.7" fill="#c4c4c4"/>
<rect x="284.2" y="41.8" width="39.5" height="8.7" fill="#dadada"/>
<rect x="-29.4" y="50.2" width="39.5" height="8.7" fill="#474747"/>
<rect x="9.8" y="50.2" width="10.1" height="8.7" fill="#393939"/>
<rect x="19.6" y="50.2" width="10.1" height="8.7" fill="#2a2a2a"/>
<rect x="29.4" y="50.2" width="10.1" height="8.7" fill="#555555"/>
<rect x="39.2" y="50.2" width="10.1" height="8.7" fill="#5b5b5b"/>
<rect x="49.0" y="50.2" width="10.1" height="8.7" fill="#474747"/>
<rect x="58.8" y="50.2" width="10.1" height="8.7" fill="#3e3e3e"/>
<rect x="68.6" y="50.2" width="10.1" height="8.7" fill="#474747"/>
<rect x="78.4" y="50.2" width="10.1" height="8.7" fill="#717171"/>
<rect x="88.2" y="50.2" width="10.1" height="8.7" fill="#b8b8b8"/>
<rect x="98.0" y="50.2" width="49.3" height="8.7" fill="#e0e0e0"/>
<rect x="147.0" y="50.2" width="10.1" height="8.7" fill="#dadada"/>
<rect x="156.8" y="50.2" width="19.9" height="8.7" fill="#e5e5e5"/>
<rect x="176.4" y="50.2" width="10.1" height="8.7" fill="#dadada"/>
<rect x="186.2" y="50.2" width="10.1" height="8.7" fill="#c9c9c9"/>
<rect x="196.0" y="50.2" width="10.1" height="8.7" fill="#d2d2d2"/>
<rect x="205.8" y="50.2" width="10.1" height="8.7" fill="#e5e5e5"/>
<rect x="215.6" y="50.2" width="10.1" height="8.7" fill="#e0e0e0"/>
<rect x="225.4" y="50.2" width="19.9" height="8.7" fill="#eeeeee"/>
<rect x="245.0" y="50.2" width="10.1" height="8.7" fill="#dadada"/>
<rect x="254.8" y="50.2" width="10.1" height="8.7" fill="#cccccc"/>
<rect x="264.6" y="50.2" width="19.9" height="8.7" fill="#c4c4c4"/>
<rect x="284.2" y="50.2" width="39.5" height="8.7" fill="#dadada"/>
<rect x="-29.4" y="58.5" width="39.5" height="8.7" fill="#474747"/>
<rect x="9.8" y="58.5" width="10.1" height="8.7" fill="#393939"/>
<rect x="19.6" y="58.5" width="10.1" height="8.7" fill="#2a2a2a"/>
<rect x="29.4" y="58.5" width="10.1" height="8.7" fill="#555555"/>
<rect x="39.2" y="58.5" width="10.1" height="8.7" fill="#5b5b5b"/>
<rect x="49.0" y="58.5" width="10.1" height="8.7" fill="#474747"/>
<rect x="58.8" y="58.5" width="10.1" height="8.7" fill="#3e3e3e"/>
<rect x="68.6" y="58.5" width="10.1" height="8.7" fill="#474747"/>
<rect x="78.4" y="58.5" width="10.1" height="8.7" fill="#717171"/>
<rect x="88.2" y="58.5" width="10.1" height="8.7" fill="#b8b8b8"/>
<rect x="98.0" y="58.5" width="49.3" height="8.7" fill="#e0e0e0"/>
<rect x="147.0" y="58.5" width="10.1" height="8.7" fill="#dadada"/>
<rect x="156.8" y="58.5" width="19.9" height="8.7" fill="#e5e5e5"/>
<rect x="176.4" y="58.5" width="10.1" height="8.7" fill="#dadada"/>
<rect x="186.2" y="58.5" width="10.1" height="8.7" fill="#c9c9c9"/>
<rect x="196.0" y="58.5" width="10.1" height="8.7" fill="#d2d2d2"/>
<rect x="205.8" y="58.5" width="10.1" height="8.7" fill="#e5e5e5"/>
<rect x="215.6" y="58.5" width="10.1" height="8.7" fill="#e0e0e0"/>
<rect x="225.4" y="58.5" width="19.9" height="8.7" fill="#eeeeee"/>
<rect x="245.0" y="58.5" width="10.1" height="8.7" fill="#dadada"/>
<rect x="254.8" y="58.5" width="10.1" height="8.7" fill="#cccccc"/>
<rect x="264.6" y="58.5" width="19.9" height="8.7" fill="#c4c4c4"/>
<rect x="284.2" y="58.5" width="39.5" height="8.7" fill="#dadada"/>
</g></svg>
<rect x="65" y="530.3" width="294" height="41.8" fill="none" stroke="#111" stroke-width="1.5"/>
<line x1="65.00" y1="269.7" x2="65.00" y2="274.7" stroke="#111" stroke-width="1.4"/>
<line x1="101.75" y1="269.7" x2="101.75" y2="274.7" stroke="#111" stroke-width="1.4"/>
<line x1="138.50" y1="269.7" x2="138.50" y2="274.7" stroke="#111" stroke-width="1.4"/>
<line x1="175.25" y1="269.7" x2="175.25" y2="274.7" stroke="#111" stroke-width="1.4"/>
<line x1="212.00" y1="269.7" x2="212.00" y2="274.7" stroke="#111" stroke-width="1.4"/>
<line x1="248.75" y1="269.7" x2="248.75" y2="274.7" stroke="#111" stroke-width="1.4"/>
<line x1="285.50" y1="269.7" x2="285.50" y2="274.7" stroke="#111" stroke-width="1.4"/>
<line x1="322.25" y1="269.7" x2="322.25" y2="274.7" stroke="#111" stroke-width="1.4"/>
<line x1="359.00" y1="269.7" x2="359.00" y2="274.7" stroke="#111" stroke-width="1.4"/>
<line x1="65.00" y1="572.1" x2="65.00" y2="577.1" stroke="#111" stroke-width="1.4"/>
<line x1="101.75" y1="572.1" x2="101.75" y2="577.1" stroke="#111" stroke-width="1.4"/>
<line x1="138.50" y1="572.1" x2="138.50" y2="577.1" stroke="#111" stroke-width="1.4"/>
<line x1="175.25" y1="572.1" x2="175.25" y2="577.1" stroke="#111" stroke-width="1.4"/>
<line x1="212.00" y1="572.1" x2="212.00" y2="577.1" stroke="#111" stroke-width="1.4"/>
<line x1="248.75" y1="572.1" x2="248.75" y2="577.1" stroke="#111" stroke-width="1.4"/>
<line x1="285.50" y1="572.1" x2="285.50" y2="577.1" stroke="#111" stroke-width="1.4"/>
<line x1="322.25" y1="572.1" x2="322.25" y2="577.1" stroke="#111" stroke-width="1.4"/>
<line x1="359.00" y1="572.1" x2="359.00" y2="577.1" stroke="#111" stroke-width="1.4"/>
<line x1="59.5" y1="169.9" x2="65" y2="169.9" stroke="#111" stroke-width="1.4"/>
<line x1="59.5" y1="211.7" x2="65" y2="211.7" stroke="#111" stroke-width="1.4"/>
<line x1="59.5" y1="227.9" x2="65" y2="227.9" stroke="#111" stroke-width="1.4"/>
<line x1="59.5" y1="269.7" x2="65" y2="269.7" stroke="#111" stroke-width="1.4"/>
<line x1="59.5" y1="472.1" x2="65" y2="472.1" stroke="#111" stroke-width="1.4"/>
<line x1="59.5" y1="513.9" x2="65" y2="513.9" stroke="#111" stroke-width="1.4"/>
<line x1="59.5" y1="530.3" x2="65" y2="530.3" stroke="#111" stroke-width="1.4"/>
<line x1="59.5" y1="572.1" x2="65" y2="572.1" stroke="#111" stroke-width="1.4"/>
<svg x="386.5" y="169.9" width="294" height="41.8" overflow="hidden">
<g filter="url(#jet)" shape-rendering="crispEdges">
<rect x="-29.4" y="-25.1" width="39.5" height="8.7" fill="#222222"/>
<rect x="9.8" y="-25.1" width="10.1" height="8.7" fill="#191919"/>
<rect x="19.6" y="-25.1" width="10.1" height="8.7" fill="#0e0e0e"/>
<rect x="29.4" y="-25.1" width="10.1" height="8.7" fill="#141414"/>
<rect x="39.2" y="-25.1" width="19.9" height="8.7" fill="#222222"/>
<rect x="58.8" y="-25.1" width="10.1" height="8.7" fill="#141414"/>
<rect x="68.6" y="-25.1" width="10.1" height="8.7" fill="#222222"/>
<rect x="78.4" y="-25.1" width="49.3" height="8.7" fill="#3e3e3e"/>
<rect x="127.4" y="-25.1" width="10.1" height="8.7" fill="#303030"/>
<rect x="137.2" y="-25.1" width="10.1" height="8.7" fill="#2a2a2a"/>
<rect x="147.0" y="-25.1" width="10.1" height="8.7" fill="#303030"/>
<rect x="156.8" y="-25.1" width="10.1" height="8.7" fill="#1c1c1c"/>
<rect x="166.6" y="-25.1" width="10.1" height="8.7" fill="#060606"/>
<rect x="176.4" y="-25.1" width="10.1" height="8.7" fill="#000000"/>
<rect x="186.2" y="-25.1" width="19.9" height="8.7" fill="#060606"/>
<rect x="205.8" y="-25.1" width="29.7" height="8.7" fill="#000000"/>
<rect x="235.2" y="-25.1" width="19.9" height="8.7" fill="#060606"/>
<rect x="254.8" y="-25.1" width="10.1" height="8.7" fill="#141414"/>
<rect x="264.6" y="-25.1" width="10.1" height="8.7" fill="#0b0b0b"/>
<rect x="274.4" y="-25.1" width="10.1" height="8.7" fill="#060606"/>
<rect x="284.2" y="-25.1" width="39.5" height="8.7" fill="#000000"/>
<rect x="-29.4" y="-16.7" width="39.5" height="8.7" fill="#222222"/>
<rect x="9.8" y="-16.7" width="10.1" height="8.7" fill="#191919"/>
<rect x="19.6" y="-16.7" width="10.1" height="8.7" fill="#0e0e0e"/>
<rect x="29.4" y="-16.7" width="10.1" height="8.7" fill="#141414"/>
<rect x="39.2" y="-16.7" width="19.9" height="8.7" fill="#222222"/>
<rect x="58.8" y="-16.7" width="10.1" height="8.7" fill="#141414"/>
<rect x="68.6" y="-16.7" width="10.1" height="8.7" fill="#222222"/>
<rect x="78.4" y="-16.7" width="49.3" height="8.7" fill="#3e3e3e"/>
<rect x="127.4" y="-16.7" width="10.1" height="8.7" fill="#303030"/>
<rect x="137.2" y="-16.7" width="10.1" height="8.7" fill="#2a2a2a"/>
<rect x="147.0" y="-16.7" width="10.1" height="8.7" fill="#303030"/>
<rect x="156.8" y="-16.7" width="10.1" height="8.7" fill="#1c1c1c"/>
<rect x="166.6" y="-16.7" width="10.1" height="8.7" fill="#060606"/>
<rect x="176.4" y="-16.7" width="10.1" height="8.7" fill="#000000"/>
<rect x="186.2" y="-16.7" width="19.9" height="8.7" fill="#060606"/>
<rect x="205.8" y="-16.7" width="29.7" height="8.7" fill="#000000"/>
<rect x="235.2" y="-16.7" width="19.9" height="8.7" fill="#060606"/>
<rect x="254.8" y="-16.7" width="10.1" height="8.7" fill="#141414"/>
<rect x="264.6" y="-16.7" width="10.1" height="8.7" fill="#0b0b0b"/>
<rect x="274.4" y="-16.7" width="10.1" height="8.7" fill="#060606"/>
<rect x="284.2" y="-16.7" width="39.5" height="8.7" fill="#000000"/>
<rect x="-29.4" y="-8.4" width="39.5" height="8.7" fill="#222222"/>
<rect x="9.8" y="-8.4" width="10.1" height="8.7" fill="#191919"/>
<rect x="19.6" y="-8.4" width="10.1" height="8.7" fill="#0e0e0e"/>
<rect x="29.4" y="-8.4" width="10.1" height="8.7" fill="#141414"/>
<rect x="39.2" y="-8.4" width="19.9" height="8.7" fill="#222222"/>
<rect x="58.8" y="-8.4" width="10.1" height="8.7" fill="#141414"/>
<rect x="68.6" y="-8.4" width="10.1" height="8.7" fill="#222222"/>
<rect x="78.4" y="-8.4" width="49.3" height="8.7" fill="#3e3e3e"/>
<rect x="127.4" y="-8.4" width="10.1" height="8.7" fill="#303030"/>
<rect x="137.2" y="-8.4" width="10.1" height="8.7" fill="#2a2a2a"/>
<rect x="147.0" y="-8.4" width="10.1" height="8.7" fill="#303030"/>
<rect x="156.8" y="-8.4" width="10.1" height="8.7" fill="#1c1c1c"/>
<rect x="166.6" y="-8.4" width="10.1" height="8.7" fill="#060606"/>
<rect x="176.4" y="-8.4" width="10.1" height="8.7" fill="#000000"/>
<rect x="186.2" y="-8.4" width="19.9" height="8.7" fill="#060606"/>
<rect x="205.8" y="-8.4" width="29.7" height="8.7" fill="#000000"/>
<rect x="235.2" y="-8.4" width="19.9" height="8.7" fill="#060606"/>
<rect x="254.8" y="-8.4" width="10.1" height="8.7" fill="#141414"/>
<rect x="264.6" y="-8.4" width="10.1" height="8.7" fill="#0b0b0b"/>
<rect x="274.4" y="-8.4" width="10.1" height="8.7" fill="#060606"/>
<rect x="284.2" y="-8.4" width="39.5" height="8.7" fill="#000000"/>
<rect x="-29.4" y="0.0" width="39.5" height="8.7" fill="#393939"/>
<rect x="9.8" y="0.0" width="10.1" height="8.7" fill="#303030"/>
<rect x="19.6" y="0.0" width="10.1" height="8.7" fill="#252525"/>
<rect x="29.4" y="0.0" width="10.1" height="8.7" fill="#2a2a2a"/>
<rect x="39.2" y="0.0" width="19.9" height="8.7" fill="#393939"/>
<rect x="58.8" y="0.0" width="10.1" height="8.7" fill="#2a2a2a"/>
<rect x="68.6" y="0.0" width="10.1" height="8.7" fill="#393939"/>
<rect x="78.4" y="0.0" width="49.3" height="8.7" fill="#555555"/>
<rect x="127.4" y="0.0" width="10.1" height="8.7" fill="#474747"/>
<rect x="137.2" y="0.0" width="10.1" height="8.7" fill="#414141"/>
<rect x="147.0" y="0.0" width="10.1" height="8.7" fill="#474747"/>
<rect x="156.8" y="0.0" width="10.1" height="8.7" fill="#333333"/>
<rect x="166.6" y="0.0" width="10.1" height="8.7" fill="#1c1c1c"/>
<rect x="176.4" y="0.0" width="10.1" height="8.7" fill="#171717"/>
<rect x="186.2" y="0.0" width="19.9" height="8.7" fill="#1c1c1c"/>
<rect x="205.8" y="0.0" width="29.7" height="8.7" fill="#171717"/>
<rect x="235.2" y="0.0" width="19.9" height="8.7" fill="#1c1c1c"/>
<rect x="254.8" y="0.0" width="10.1" height="8.7" fill="#2a2a2a"/>
<rect x="264.6" y="0.0" width="10.1" height="8.7" fill="#222222"/>
<rect x="274.4" y="0.0" width="10.1" height="8.7" fill="#1c1c1c"/>
<rect x="284.2" y="0.0" width="39.5" height="8.7" fill="#171717"/>
<rect x="-29.4" y="8.4" width="39.5" height="8.7" fill="#636363"/>
<rect x="9.8" y="8.4" width="19.9" height="8.7" fill="#555555"/>
<rect x="29.4" y="8.4" width="10.1" height="8.7" fill="#636363"/>
<rect x="39.2" y="8.4" width="10.1" height="8.7" fill="#717171"/>
<rect x="49.0" y="8.4" width="10.1" height="8.7" fill="#696969"/>
<rect x="58.8" y="8.4" width="10.1" height="8.7" fill="#636363"/>
<rect x="68.6" y="8.4" width="10.1" height="8.7" fill="#696969"/>
<rect x="78.4" y="8.4" width="19.9" height="8.7" fill="#717171"/>
<rect x="98.0" y="8.4" width="10.1" height="8.7" fill="#808080"/>
<rect x="107.8" y="8.4" width="10.1" height="8.7" fill="#9c9c9c"/>
<rect x="117.6" y="8.4" width="10.1" height="8.7" fill="#8e8e8e"/>
<rect x="127.4" y="8.4" width="10.1" height="8.7" fill="#717171"/>
<rect x="137.2" y="8.4" width="10.1" height="8.7" fill="#636363"/>
<rect x="147.0" y="8.4" width="10.1" height="8.7" fill="#717171"/>
<rect x="156.8" y="8.4" width="10.1" height="8.7" fill="#5b5b5b"/>
<rect x="166.6" y="8.4" width="10.1" height="8.7" fill="#474747"/>
<rect x="176.4" y="8.4" width="10.1" height="8.7" fill="#393939"/>
<rect x="186.2" y="8.4" width="19.9" height="8.7" fill="#474747"/>
<rect x="205.8" y="8.4" width="10.1" height="8.7" fill="#3e3e3e"/>
<rect x="215.6" y="8.4" width="10.1" height="8.7" fill="#393939"/>
<rect x="225.4" y="8.4" width="10.1" height="8.7" fill="#474747"/>
<rect x="235.2" y="8.4" width="10.1" height="8.7" fill="#4f4f4f"/>
<rect x="245.0" y="8.4" width="29.7" height="8.7" fill="#555555"/>
<rect x="274.4" y="8.4" width="10.1" height="8.7" fill="#4f4f4f"/>
<rect x="284.2" y="8.4" width="39.5" height="8.7" fill="#474747"/>
<rect x="-29.4" y="16.7" width="39.5" height="8.7" fill="#999999"/>
<rect x="9.8" y="16.7" width="19.9" height="8.7" fill="#8b8b8b"/>
<rect x="29.4" y="16.7" width="10.1" height="8.7" fill="#999999"/>
<rect x="39.2" y="16.7" width="10.1" height="8.7" fill="#b5b5b5"/>
<rect x="49.0" y="16.7" width="10.1" height="8.7" fill="#a7a7a7"/>
<rect x="58.8" y="16.7" width="19.9" height="8.7" fill="#999999"/>
<rect x="78.4" y="16.7" width="19.9" height="8.7" fill="#a7a7a7"/>
<rect x="98.0" y="16.7" width="10.1" height="8.7" fill="#b5b5b5"/>
<rect x="107.8" y="16.7" width="10.1" height="8.7" fill="#c4c4c4"/>
<rect x="117.6" y="16.7" width="10.1" height="8.7" fill="#b5b5b5"/>
<rect x="127.4" y="16.7" width="10.1" height="8.7" fill="#a7a7a7"/>
<rect x="137.2" y="16.7" width="10.1" height="8.7" fill="#999999"/>
<rect x="147.0" y="16.7" width="10.1" height="8.7" fill="#a4a4a4"/>
<rect x="156.8" y="16.7" width="10.1" height="8.7" fill="#969696"/>
<rect x="166.6" y="16.7" width="10.1" height="8.7" fill="#888888"/>
<rect x="176.4" y="16.7" width="10.1" height="8.7" fill="#7a7a7a"/>
<rect x="186.2" y="16.7" width="10.1" height="8.7" fill="#747474"/>
<rect x="196.0" y="16.7" width="10.1" height="8.7" fill="#6c6c6c"/>
<rect x="205.8" y="16.7" width="10.1" height="8.7" fill="#636363"/>
<rect x="215.6" y="16.7" width="10.1" height="8.7" fill="#5e5e5e"/>
<rect x="225.4" y="16.7" width="10.1" height="8.7" fill="#6c6c6c"/>
<rect x="235.2" y="16.7" width="10.1" height="8.7" fill="#7a7a7a"/>
<rect x="245.0" y="16.7" width="39.5" height="8.7" fill="#808080"/>
<rect x="284.2" y="16.7" width="39.5" height="8.7" fill="#7a7a7a"/>
<rect x="-29.4" y="25.1" width="49.3" height="8.7" fill="#b2b2b2"/>
<rect x="19.6" y="25.1" width="10.1" height="8.7" fill="#a4a4a4"/>
<rect x="29.4" y="25.1" width="10.1" height="8.7" fill="#c1c1c1"/>
<rect x="39.2" y="25.1" width="19.9" height="8.7" fill="#dddddd"/>
<rect x="58.8" y="25.1" width="10.1" height="8.7" fill="#cfcfcf"/>
<rect x="68.6" y="25.1" width="29.7" height="8.7" fill="#c1c1c1"/>
<rect x="98.0" y="25.1" width="10.1" height="8.7" fill="#cfcfcf"/>
<rect x="107.8" y="25.1" width="19.9" height="8.7" fill="#dddddd"/>
<rect x="127.4" y="25.1" width="10.1" height="8.7" fill="#c1c1c1"/>
<rect x="137.2" y="25.1" width="10.1" height="8.7" fill="#b2b2b2"/>
<rect x="147.0" y="25.1" width="10.1" height="8.7" fill="#b8b8b8"/>
<rect x="156.8" y="25.1" width="10.1" height="8.7" fill="#aaaaaa"/>
<rect x="166.6" y="25.1" width="10.1" height="8.7" fill="#a4a4a4"/>
<rect x="176.4" y="25.1" width="10.1" height="8.7" fill="#9c9c9c"/>
<rect x="186.2" y="25.1" width="10.1" height="8.7" fill="#a4a4a4"/>
<rect x="196.0" y="25.1" width="10.1" height="8.7" fill="#aaaaaa"/>
<rect x="205.8" y="25.1" width="10.1" height="8.7" fill="#a4a4a4"/>
<rect x="215.6" y="25.1" width="19.9" height="8.7" fill="#8e8e8e"/>
<rect x="235.2" y="25.1" width="10.1" height="8.7" fill="#939393"/>
<rect x="245.0" y="25.1" width="29.7" height="8.7" fill="#9c9c9c"/>
<rect x="274.4" y="25.1" width="10.1" height="8.7" fill="#a4a4a4"/>
<rect x="284.2" y="25.1" width="39.5" height="8.7" fill="#9c9c9c"/>
<rect x="-29.4" y="33.4" width="39.5" height="8.7" fill="#dadada"/>
<rect x="9.8" y="33.4" width="10.1" height="8.7" fill="#cccccc"/>
<rect x="19.6" y="33.4" width="10.1" height="8.7" fill="#bebebe"/>
<rect x="29.4" y="33.4" width="10.1" height="8.7" fill="#dadada"/>
<rect x="39.2" y="33.4" width="19.9" height="8.7" fill="#e8e8e8"/>
<rect x="58.8" y="33.4" width="10.1" height="8.7" fill="#e0e0e0"/>
<rect x="68.6" y="33.4" width="10.1" height="8.7" fill="#e8e8e8"/>
<rect x="78.4" y="33.4" width="10.1" height="8.7" fill="#dadada"/>
<rect x="88.2" y="33.4" width="10.1" height="8.7" fill="#cccccc"/>
<rect x="98.0" y="33.4" width="10.1" height="8.7" fill="#dadada"/>
<rect x="107.8" y="33.4" width="10.1" height="8.7" fill="#f1f1f1"/>
<rect x="117.6" y="33.4" width="10.1" height="8.7" fill="#e8e8e8"/>
<rect x="127.4" y="33.4" width="10.1" height="8.7" fill="#cccccc"/>
<rect x="137.2" y="33.4" width="10.1" height="8.7" fill="#bebebe"/>
<rect x="147.0" y="33.4" width="10.1" height="8.7" fill="#e3e3e3"/>
<rect x="156.8" y="33.4" width="10.1" height="8.7" fill="#d4d4d4"/>
<rect x="166.6" y="33.4" width="29.7" height="8.7" fill="#c6c6c6"/>
<rect x="196.0" y="33.4" width="10.1" height="8.7" fill="#cccccc"/>
<rect x="205.8" y="33.4" width="10.1" height="8.7" fill="#c6c6c6"/>
<rect x="215.6" y="33.4" width="10.1" height="8.7" fill="#c1c1c1"/>
<rect x="225.4" y="33.4" width="19.9" height="8.7" fill="#b8b8b8"/>
<rect x="245.0" y="33.4" width="10.1" height="8.7" fill="#c1c1c1"/>
<rect x="254.8" y="33.4" width="29.7" height="8.7" fill="#c6c6c6"/>
<rect x="284.2" y="33.4" width="39.5" height="8.7" fill="#b8b8b8"/>
<rect x="-29.4" y="41.8" width="39.5" height="8.7" fill="#dadada"/>
<rect x="9.8" y="41.8" width="10.1" height="8.7" fill="#cccccc"/>
<rect x="19.6" y="41.8" width="10.1" height="8.7" fill="#bebebe"/>
<rect x="29.4" y="41.8" width="10.1" height="8.7" fill="#dadada"/>
<rect x="39.2" y="41.8" width="19.9" height="8.7" fill="#e8e8e8"/>
<rect x="58.8" y="41.8" width="10.1" height="8.7" fill="#e0e0e0"/>
<rect x="68.6" y="41.8" width="10.1" height="8.7" fill="#e8e8e8"/>
<rect x="78.4" y="41.8" width="10.1" height="8.7" fill="#dadada"/>
<rect x="88.2" y="41.8" width="10.1" height="8.7" fill="#cccccc"/>
<rect x="98.0" y="41.8" width="10.1" height="8.7" fill="#dadada"/>
<rect x="107.8" y="41.8" width="10.1" height="8.7" fill="#f1f1f1"/>
<rect x="117.6" y="41.8" width="10.1" height="8.7" fill="#e8e8e8"/>
<rect x="127.4" y="41.8" width="10.1" height="8.7" fill="#cccccc"/>
<rect x="137.2" y="41.8" width="10.1" height="8.7" fill="#bebebe"/>
<rect x="147.0" y="41.8" width="10.1" height="8.7" fill="#e3e3e3"/>
<rect x="156.8" y="41.8" width="10.1" height="8.7" fill="#d4d4d4"/>
<rect x="166.6" y="41.8" width="29.7" height="8.7" fill="#c6c6c6"/>
<rect x="196.0" y="41.8" width="10.1" height="8.7" fill="#cccccc"/>
<rect x="205.8" y="41.8" width="10.1" height="8.7" fill="#c6c6c6"/>
<rect x="215.6" y="41.8" width="10.1" height="8.7" fill="#c1c1c1"/>
<rect x="225.4" y="41.8" width="19.9" height="8.7" fill="#b8b8b8"/>
<rect x="245.0" y="41.8" width="10.1" height="8.7" fill="#c1c1c1"/>
<rect x="254.8" y="41.8" width="29.7" height="8.7" fill="#c6c6c6"/>
<rect x="284.2" y="41.8" width="39.5" height="8.7" fill="#b8b8b8"/>
<rect x="-29.4" y="50.2" width="39.5" height="8.7" fill="#dadada"/>
<rect x="9.8" y="50.2" width="10.1" height="8.7" fill="#cccccc"/>
<rect x="19.6" y="50.2" width="10.1" height="8.7" fill="#bebebe"/>
<rect x="29.4" y="50.2" width="10.1" height="8.7" fill="#dadada"/>
<rect x="39.2" y="50.2" width="19.9" height="8.7" fill="#e8e8e8"/>
<rect x="58.8" y="50.2" width="10.1" height="8.7" fill="#e0e0e0"/>
<rect x="68.6" y="50.2" width="10.1" height="8.7" fill="#e8e8e8"/>
<rect x="78.4" y="50.2" width="10.1" height="8.7" fill="#dadada"/>
<rect x="88.2" y="50.2" width="10.1" height="8.7" fill="#cccccc"/>
<rect x="98.0" y="50.2" width="10.1" height="8.7" fill="#dadada"/>
<rect x="107.8" y="50.2" width="10.1" height="8.7" fill="#f1f1f1"/>
<rect x="117.6" y="50.2" width="10.1" height="8.7" fill="#e8e8e8"/>
<rect x="127.4" y="50.2" width="10.1" height="8.7" fill="#cccccc"/>
<rect x="137.2" y="50.2" width="10.1" height="8.7" fill="#bebebe"/>
<rect x="147.0" y="50.2" width="10.1" height="8.7" fill="#e3e3e3"/>
<rect x="156.8" y="50.2" width="10.1" height="8.7" fill="#d4d4d4"/>
<rect x="166.6" y="50.2" width="29.7" height="8.7" fill="#c6c6c6"/>
<rect x="196.0" y="50.2" width="10.1" height="8.7" fill="#cccccc"/>
<rect x="205.8" y="50.2" width="10.1" height="8.7" fill="#c6c6c6"/>
<rect x="215.6" y="50.2" width="10.1" height="8.7" fill="#c1c1c1"/>
<rect x="225.4" y="50.2" width="19.9" height="8.7" fill="#b8b8b8"/>
<rect x="245.0" y="50.2" width="10.1" height="8.7" fill="#c1c1c1"/>
<rect x="254.8" y="50.2" width="29.7" height="8.7" fill="#c6c6c6"/>
<rect x="284.2" y="50.2" width="39.5" height="8.7" fill="#b8b8b8"/>
<rect x="-29.4" y="58.5" width="39.5" height="8.7" fill="#dadada"/>
<rect x="9.8" y="58.5" width="10.1" height="8.7" fill="#cccccc"/>
<rect x="19.6" y="58.5" width="10.1" height="8.7" fill="#bebebe"/>
<rect x="29.4" y="58.5" width="10.1" height="8.7" fill="#dadada"/>
<rect x="39.2" y="58.5" width="19.9" height="8.7" fill="#e8e8e8"/>
<rect x="58.8" y="58.5" width="10.1" height="8.7" fill="#e0e0e0"/>
<rect x="68.6" y="58.5" width="10.1" height="8.7" fill="#e8e8e8"/>
<rect x="78.4" y="58.5" width="10.1" height="8.7" fill="#dadada"/>
<rect x="88.2" y="58.5" width="10.1" height="8.7" fill="#cccccc"/>
<rect x="98.0" y="58.5" width="10.1" height="8.7" fill="#dadada"/>
<rect x="107.8" y="58.5" width="10.1" height="8.7" fill="#f1f1f1"/>
<rect x="117.6" y="58.5" width="10.1" height="8.7" fill="#e8e8e8"/>
<rect x="127.4" y="58.5" width="10.1" height="8.7" fill="#cccccc"/>
<rect x="137.2" y="58.5" width="10.1" height="8.7" fill="#bebebe"/>
<rect x="147.0" y="58.5" width="10.1" height="8.7" fill="#e3e3e3"/>
<rect x="156.8" y="58.5" width="10.1" height="8.7" fill="#d4d4d4"/>
<rect x="166.6" y="58.5" width="29.7" height="8.7" fill="#c6c6c6"/>
<rect x="196.0" y="58.5" width="10.1" height="8.7" fill="#cccccc"/>
<rect x="205.8" y="58.5" width="10.1" height="8.7" fill="#c6c6c6"/>
<rect x="215.6" y="58.5" width="10.1" height="8.7" fill="#c1c1c1"/>
<rect x="225.4" y="58.5" width="19.9" height="8.7" fill="#b8b8b8"/>
<rect x="245.0" y="58.5" width="10.1" height="8.7" fill="#c1c1c1"/>
<rect x="254.8" y="58.5" width="29.7" height="8.7" fill="#c6c6c6"/>
<rect x="284.2" y="58.5" width="39.5" height="8.7" fill="#b8b8b8"/>
</g></svg>
<rect x="386.5" y="169.9" width="294" height="41.8" fill="none" stroke="#111" stroke-width="1.5"/>
<svg x="386.5" y="227.9" width="294" height="41.8" overflow="hidden">
<g filter="url(#jet)" shape-rendering="crispEdges">
<rect x="-29.4" y="-25.1" width="39.5" height="8.7" fill="#696969"/>
<rect x="9.8" y="-25.1" width="10.1" height="8.7" fill="#3b3b3b"/>
<rect x="19.6" y="-25.1" width="19.9" height="8.7" fill="#141414"/>
<rect x="39.2" y="-25.1" width="10.1" height="8.7" fill="#4d4d4d"/>
<rect x="49.0" y="-25.1" width="29.7" height="8.7" fill="#5b5b5b"/>
<rect x="78.4" y="-25.1" width="10.1" height="8.7" fill="#3e3e3e"/>
<rect x="88.2" y="-25.1" width="10.1" height="8.7" fill="#222222"/>
<rect x="98.0" y="-25.1" width="10.1" height="8.7" fill="#696969"/>
<rect x="107.8" y="-25.1" width="10.1" height="8.7" fill="#a2a2a2"/>
<rect x="117.6" y="-25.1" width="10.1" height="8.7" fill="#b0b0b0"/>
<rect x="127.4" y="-25.1" width="10.1" height="8.7" fill="#a2a2a2"/>
<rect x="137.2" y="-25.1" width="10.1" height="8.7" fill="#939393"/>
<rect x="147.0" y="-25.1" width="19.9" height="8.7" fill="#999999"/>
<rect x="166.6" y="-25.1" width="10.1" height="8.7" fill="#858585"/>
<rect x="176.4" y="-25.1" width="19.9" height="8.7" fill="#747474"/>
<rect x="196.0" y="-25.1" width="10.1" height="8.7" fill="#585858"/>
<rect x="205.8" y="-25.1" width="10.1" height="8.7" fill="#222222"/>
<rect x="215.6" y="-25.1" width="10.1" height="8.7" fill="#0b0b0b"/>
<rect x="225.4" y="-25.1" width="10.1" height="8.7" fill="#060606"/>
<rect x="235.2" y="-25.1" width="10.1" height="8.7" fill="#0b0b0b"/>
<rect x="245.0" y="-25.1" width="10.1" height="8.7" fill="#222222"/>
<rect x="254.8" y="-25.1" width="29.7" height="8.7" fill="#3e3e3e"/>
<rect x="284.2" y="-25.1" width="39.5" height="8.7" fill="#222222"/>
<rect x="-29.4" y="-16.7" width="39.5" height="8.7" fill="#696969"/>
<rect x="9.8" y="-16.7" width="10.1" height="8.7" fill="#3b3b3b"/>
<rect x="19.6" y="-16.7" width="19.9" height="8.7" fill="#141414"/>
<rect x="39.2" y="-16.7" width="10.1" height="8.7" fill="#4d4d4d"/>
<rect x="49.0" y="-16.7" width="29.7" height="8.7" fill="#5b5b5b"/>
<rect x="78.4" y="-16.7" width="10.1" height="8.7" fill="#3e3e3e"/>
<rect x="88.2" y="-16.7" width="10.1" height="8.7" fill="#222222"/>
<rect x="98.0" y="-16.7" width="10.1" height="8.7" fill="#696969"/>
<rect x="107.8" y="-16.7" width="10.1" height="8.7" fill="#a2a2a2"/>
<rect x="117.6" y="-16.7" width="10.1" height="8.7" fill="#b0b0b0"/>
<rect x="127.4" y="-16.7" width="10.1" height="8.7" fill="#a2a2a2"/>
<rect x="137.2" y="-16.7" width="10.1" height="8.7" fill="#939393"/>
<rect x="147.0" y="-16.7" width="19.9" height="8.7" fill="#999999"/>
<rect x="166.6" y="-16.7" width="10.1" height="8.7" fill="#858585"/>
<rect x="176.4" y="-16.7" width="19.9" height="8.7" fill="#747474"/>
<rect x="196.0" y="-16.7" width="10.1" height="8.7" fill="#585858"/>
<rect x="205.8" y="-16.7" width="10.1" height="8.7" fill="#222222"/>
<rect x="215.6" y="-16.7" width="10.1" height="8.7" fill="#0b0b0b"/>
<rect x="225.4" y="-16.7" width="10.1" height="8.7" fill="#060606"/>
<rect x="235.2" y="-16.7" width="10.1" height="8.7" fill="#0b0b0b"/>
<rect x="245.0" y="-16.7" width="10.1" height="8.7" fill="#222222"/>
<rect x="254.8" y="-16.7" width="29.7" height="8.7" fill="#3e3e3e"/>
<rect x="284.2" y="-16.7" width="39.5" height="8.7" fill="#222222"/>
<rect x="-29.4" y="-8.4" width="39.5" height="8.7" fill="#696969"/>
<rect x="9.8" y="-8.4" width="10.1" height="8.7" fill="#3b3b3b"/>
<rect x="19.6" y="-8.4" width="19.9" height="8.7" fill="#141414"/>
<rect x="39.2" y="-8.4" width="10.1" height="8.7" fill="#4d4d4d"/>
<rect x="49.0" y="-8.4" width="29.7" height="8.7" fill="#5b5b5b"/>
<rect x="78.4" y="-8.4" width="10.1" height="8.7" fill="#3e3e3e"/>
<rect x="88.2" y="-8.4" width="10.1" height="8.7" fill="#222222"/>
<rect x="98.0" y="-8.4" width="10.1" height="8.7" fill="#696969"/>
<rect x="107.8" y="-8.4" width="10.1" height="8.7" fill="#a2a2a2"/>
<rect x="117.6" y="-8.4" width="10.1" height="8.7" fill="#b0b0b0"/>
<rect x="127.4" y="-8.4" width="10.1" height="8.7" fill="#a2a2a2"/>
<rect x="137.2" y="-8.4" width="10.1" height="8.7" fill="#939393"/>
<rect x="147.0" y="-8.4" width="19.9" height="8.7" fill="#999999"/>
<rect x="166.6" y="-8.4" width="10.1" height="8.7" fill="#858585"/>
<rect x="176.4" y="-8.4" width="19.9" height="8.7" fill="#747474"/>
<rect x="196.0" y="-8.4" width="10.1" height="8.7" fill="#585858"/>
<rect x="205.8" y="-8.4" width="10.1" height="8.7" fill="#222222"/>
<rect x="215.6" y="-8.4" width="10.1" height="8.7" fill="#0b0b0b"/>
<rect x="225.4" y="-8.4" width="10.1" height="8.7" fill="#060606"/>
<rect x="235.2" y="-8.4" width="10.1" height="8.7" fill="#0b0b0b"/>
<rect x="245.0" y="-8.4" width="10.1" height="8.7" fill="#222222"/>
<rect x="254.8" y="-8.4" width="29.7" height="8.7" fill="#3e3e3e"/>
<rect x="284.2" y="-8.4" width="39.5" height="8.7" fill="#222222"/>
<rect x="-29.4" y="0.0" width="39.5" height="8.7" fill="#808080"/>
<rect x="9.8" y="0.0" width="10.1" height="8.7" fill="#525252"/>
<rect x="19.6" y="0.0" width="19.9" height="8.7" fill="#2a2a2a"/>
<rect x="39.2" y="0.0" width="10.1" height="8.7" fill="#636363"/>
<rect x="49.0" y="0.0" width="29.7" height="8.7" fill="#717171"/>
<rect x="78.4" y="0.0" width="10.1" height="8.7" fill="#555555"/>
<rect x="88.2" y="0.0" width="10.1" height="8.7" fill="#393939"/>
<rect x="98.0" y="0.0" width="10.1" height="8.7" fill="#808080"/>
<rect x="107.8" y="0.0" width="10.1" height="8.7" fill="#b8b8b8"/>
<rect x="117.6" y="0.0" width="10.1" height="8.7" fill="#c6c6c6"/>
<rect x="127.4" y="0.0" width="10.1" height="8.7" fill="#b8b8b8"/>
<rect x="137.2" y="0.0" width="10.1" height="8.7" fill="#aaaaaa"/>
<rect x="147.0" y="0.0" width="19.9" height="8.7" fill="#b0b0b0"/>
<rect x="166.6" y="0.0" width="10.1" height="8.7" fill="#9c9c9c"/>
<rect x="176.4" y="0.0" width="19.9" height="8.7" fill="#8b8b8b"/>
<rect x="196.0" y="0.0" width="10.1" height="8.7" fill="#6e6e6e"/>
<rect x="205.8" y="0.0" width="10.1" height="8.7" fill="#393939"/>
<rect x="215.6" y="0.0" width="10.1" height="8.7" fill="#222222"/>
<rect x="225.4" y="0.0" width="10.1" height="8.7" fill="#1c1c1c"/>
<rect x="235.2" y="0.0" width="10.1" height="8.7" fill="#222222"/>
<rect x="245.0" y="0.0" width="10.1" height="8.7" fill="#393939"/>
<rect x="254.8" y="0.0" width="29.7" height="8.7" fill="#555555"/>
<rect x="284.2" y="0.0" width="39.5" height="8.7" fill="#393939"/>
<rect x="-29.4" y="8.4" width="39.5" height="8.7" fill="#c4c4c4"/>
<rect x="9.8" y="8.4" width="10.1" height="8.7" fill="#7d7d7d"/>
<rect x="19.6" y="8.4" width="10.1" height="8.7" fill="#555555"/>
<rect x="29.4" y="8.4" width="10.1" height="8.7" fill="#4f4f4f"/>
<rect x="39.2" y="8.4" width="10.1" height="8.7" fill="#717171"/>
<rect x="49.0" y="8.4" width="10.1" height="8.7" fill="#8e8e8e"/>
<rect x="58.8" y="8.4" width="10.1" height="8.7" fill="#808080"/>
<rect x="68.6" y="8.4" width="10.1" height="8.7" fill="#b8b8b8"/>
<rect x="78.4" y="8.4" width="10.1" height="8.7" fill="#a2a2a2"/>
<rect x="88.2" y="8.4" width="10.1" height="8.7" fill="#5e5e5e"/>
<rect x="98.0" y="8.4" width="10.1" height="8.7" fill="#9c9c9c"/>
<rect x="107.8" y="8.4" width="10.1" height="8.7" fill="#d4d4d4"/>
<rect x="117.6" y="8.4" width="10.1" height="8.7" fill="#dddddd"/>
<rect x="127.4" y="8.4" width="10.1" height="8.7" fill="#d4d4d4"/>
<rect x="137.2" y="8.4" width="10.1" height="8.7" fill="#b8b8b8"/>
<rect x="147.0" y="8.4" width="19.9" height="8.7" fill="#d4d4d4"/>
<rect x="166.6" y="8.4" width="10.1" height="8.7" fill="#aaaaaa"/>
<rect x="176.4" y="8.4" width="10.1" height="8.7" fill="#999999"/>
<rect x="186.2" y="8.4" width="10.1" height="8.7" fill="#cccccc"/>
<rect x="196.0" y="8.4" width="10.1" height="8.7" fill="#939393"/>
<rect x="205.8" y="8.4" width="10.1" height="8.7" fill="#636363"/>
<rect x="215.6" y="8.4" width="19.9" height="8.7" fill="#555555"/>
<rect x="235.2" y="8.4" width="10.1" height="8.7" fill="#333333"/>
<rect x="245.0" y="8.4" width="10.1" height="8.7" fill="#474747"/>
<rect x="254.8" y="8.4" width="10.1" height="8.7" fill="#7a7a7a"/>
<rect x="264.6" y="8.4" width="10.1" height="8.7" fill="#adadad"/>
<rect x="274.4" y="8.4" width="10.1" height="8.7" fill="#7a7a7a"/>
<rect x="284.2" y="8.4" width="39.5" height="8.7" fill="#4f4f4f"/>
<rect x="-29.4" y="16.7" width="39.5" height="8.7" fill="#d2d2d2"/>
<rect x="9.8" y="16.7" width="10.1" height="8.7" fill="#a7a7a7"/>
<rect x="19.6" y="16.7" width="10.1" height="8.7" fill="#717171"/>
<rect x="29.4" y="16.7" width="10.1" height="8.7" fill="#525252"/>
<rect x="39.2" y="16.7" width="10.1" height="8.7" fill="#8e8e8e"/>
<rect x="49.0" y="16.7" width="10.1" height="8.7" fill="#aaaaaa"/>
<rect x="58.8" y="16.7" width="10.1" height="8.7" fill="#8e8e8e"/>
<rect x="68.6" y="16.7" width="10.1" height="8.7" fill="#c6c6c6"/>
<rect x="78.4" y="16.7" width="10.1" height="8.7" fill="#bebebe"/>
<rect x="88.2" y="16.7" width="10.1" height="8.7" fill="#636363"/>
<rect x="98.0" y="16.7" width="10.1" height="8.7" fill="#aaaaaa"/>
<rect x="107.8" y="16.7" width="10.1" height="8.7" fill="#dddddd"/>
<rect x="117.6" y="16.7" width="19.9" height="8.7" fill="#e3e3e3"/>
<rect x="137.2" y="16.7" width="10.1" height="8.7" fill="#c6c6c6"/>
<rect x="147.0" y="16.7" width="19.9" height="8.7" fill="#dadada"/>
<rect x="166.6" y="16.7" width="10.1" height="8.7" fill="#b8b8b8"/>
<rect x="176.4" y="16.7" width="10.1" height="8.7" fill="#a7a7a7"/>
<rect x="186.2" y="16.7" width="10.1" height="8.7" fill="#c6c6c6"/>
<rect x="196.0" y="16.7" width="10.1" height="8.7" fill="#a7a7a7"/>
<rect x="205.8" y="16.7" width="10.1" height="8.7" fill="#717171"/>
<rect x="215.6" y="16.7" width="10.1" height="8.7" fill="#6c6c6c"/>
<rect x="225.4" y="16.7" width="10.1" height="8.7" fill="#636363"/>
<rect x="235.2" y="16.7" width="10.1" height="8.7" fill="#2d2d2d"/>
<rect x="245.0" y="16.7" width="10.1" height="8.7" fill="#3e3e3e"/>
<rect x="254.8" y="16.7" width="10.1" height="8.7" fill="#7a7a7a"/>
<rect x="264.6" y="16.7" width="10.1" height="8.7" fill="#c1c1c1"/>
<rect x="274.4" y="16.7" width="10.1" height="8.7" fill="#7a7a7a"/>
<rect x="284.2" y="16.7" width="39.5" height="8.7" fill="#4f4f4f"/>
<rect x="-29.4" y="25.1" width="39.5" height="8.7" fill="#e0e0e0"/>
<rect x="9.8" y="25.1" width="10.1" height="8.7" fill="#b5b5b5"/>
<rect x="19.6" y="25.1" width="10.1" height="8.7" fill="#9c9c9c"/>
<rect x="29.4" y="25.1" width="10.1" height="8.7" fill="#6e6e6e"/>
<rect x="39.2" y="25.1" width="10.1" height="8.7" fill="#b8b8b8"/>
<rect x="49.0" y="25.1" width="10.1" height="8.7" fill="#c6c6c6"/>
<rect x="58.8" y="25.1" width="10.1" height="8.7" fill="#9c9c9c"/>
<rect x="68.6" y="25.1" width="10.1" height="8.7" fill="#c6c6c6"/>
<rect x="78.4" y="25.1" width="10.1" height="8.7" fill="#cccccc"/>
<rect x="88.2" y="25.1" width="10.1" height="8.7" fill="#717171"/>
<rect x="98.0" y="25.1" width="10.1" height="8.7" fill="#aaaaaa"/>
<rect x="107.8" y="25.1" width="10.1" height="8.7" fill="#dddddd"/>
<rect x="117.6" y="25.1" width="10.1" height="8.7" fill="#e3e3e3"/>
<rect x="127.4" y="25.1" width="10.1" height="8.7" fill="#e8e8e8"/>
<rect x="137.2" y="25.1" width="10.1" height="8.7" fill="#c6c6c6"/>
<rect x="147.0" y="25.1" width="10.1" height="8.7" fill="#e0e0e0"/>
<rect x="156.8" y="25.1" width="10.1" height="8.7" fill="#dadada"/>
<rect x="166.6" y="25.1" width="10.1" height="8.7" fill="#b8b8b8"/>
<rect x="176.4" y="25.1" width="29.7" height="8.7" fill="#b5b5b5"/>
<rect x="205.8" y="25.1" width="19.9" height="8.7" fill="#808080"/>
<rect x="225.4" y="25.1" width="10.1" height="8.7" fill="#636363"/>
<rect x="235.2" y="25.1" width="10.1" height="8.7" fill="#333333"/>
<rect x="245.0" y="25.1" width="10.1" height="8.7" fill="#474747"/>
<rect x="254.8" y="25.1" width="10.1" height="8.7" fill="#7a7a7a"/>
<rect x="264.6" y="25.1" width="10.1" height="8.7" fill="#bbbbbb"/>
<rect x="274.4" y="25.1" width="10.1" height="8.7" fill="#7a7a7a"/>
<rect x="284.2" y="25.1" width="39.5" height="8.7" fill="#4f4f4f"/>
<rect x="-29.4" y="33.4" width="39.5" height="8.7" fill="#e3e3e3"/>
<rect x="9.8" y="33.4" width="10.1" height="8.7" fill="#bbbbbb"/>
<rect x="19.6" y="33.4" width="19.9" height="8.7" fill="#aaaaaa"/>
<rect x="39.2" y="33.4" width="19.9" height="8.7" fill="#dddddd"/>
<rect x="58.8" y="33.4" width="10.1" height="8.7" fill="#b8b8b8"/>
<rect x="68.6" y="33.4" width="10.1" height="8.7" fill="#d4d4d4"/>
<rect x="78.4" y="33.4" width="10.1" height="8.7" fill="#cccccc"/>
<rect x="88.2" y="33.4" width="10.1" height="8.7" fill="#8e8e8e"/>
<rect x="98.0" y="33.4" width="10.1" height="8.7" fill="#b8b8b8"/>
<rect x="107.8" y="33.4" width="29.7" height="8.7" fill="#e3e3e3"/>
<rect x="137.2" y="33.4" width="10.1" height="8.7" fill="#c6c6c6"/>
<rect x="147.0" y="33.4" width="19.9" height="8.7" fill="#e8e8e8"/>
<rect x="166.6" y="33.4" width="10.1" height="8.7" fill="#c6c6c6"/>
<rect x="176.4" y="33.4" width="19.9" height="8.7" fill="#e0e0e0"/>
<rect x="196.0" y="33.4" width="10.1" height="8.7" fill="#b5b5b5"/>
<rect x="205.8" y="33.4" width="10.1" height="8.7" fill="#808080"/>
<rect x="215.6" y="33.4" width="10.1" height="8.7" fill="#777777"/>
<rect x="225.4" y="33.4" width="10.1" height="8.7" fill="#636363"/>
<rect x="235.2" y="33.4" width="10.1" height="8.7" fill="#474747"/>
<rect x="245.0" y="33.4" width="10.1" height="8.7" fill="#555555"/>
<rect x="254.8" y="33.4" width="10.1" height="8.7" fill="#888888"/>
<rect x="264.6" y="33.4" width="10.1" height="8.7" fill="#c1c1c1"/>
<rect x="274.4" y="33.4" width="10.1" height="8.7" fill="#888888"/>
<rect x="284.2" y="33.4" width="39.5" height="8.7" fill="#555555"/>
<rect x="-29.4" y="41.8" width="39.5" height="8.7" fill="#e3e3e3"/>
<rect x="9.8" y="41.8" width="10.1" height="8.7" fill="#bbbbbb"/>
<rect x="19.6" y="41.8" width="19.9" height="8.7" fill="#aaaaaa"/>
<rect x="39.2" y="41.8" width="19.9" height="8.7" fill="#dddddd"/>
<rect x="58.8" y="41.8" width="10.1" height="8.7" fill="#b8b8b8"/>
<rect x="68.6" y="41.8" width="10.1" height="8.7" fill="#d4d4d4"/>
<rect x="78.4" y="41.8" width="10.1" height="8.7" fill="#cccccc"/>
<rect x="88.2" y="41.8" width="10.1" height="8.7" fill="#8e8e8e"/>
<rect x="98.0" y="41.8" width="10.1" height="8.7" fill="#b8b8b8"/>
<rect x="107.8" y="41.8" width="29.7" height="8.7" fill="#e3e3e3"/>
<rect x="137.2" y="41.8" width="10.1" height="8.7" fill="#c6c6c6"/>
<rect x="147.0" y="41.8" width="19.9" height="8.7" fill="#e8e8e8"/>
<rect x="166.6" y="41.8" width="10.1" height="8.7" fill="#c6c6c6"/>
<rect x="176.4" y="41.8" width="19.9" height="8.7" fill="#e0e0e0"/>
<rect x="196.0" y="41.8" width="10.1" height="8.7" fill="#b5b5b5"/>
<rect x="205.8" y="41.8" width="10.1" height="8.7" fill="#808080"/>
<rect x="215.6" y="41.8" width="10.1" height="8.7" fill="#777777"/>
<rect x="225.4" y="41.8" width="10.1" height="8.7" fill="#636363"/>
<rect x="235.2" y="41.8" width="10.1" height="8.7" fill="#474747"/>
<rect x="245.0" y="41.8" width="10.1" height="8.7" fill="#555555"/>
<rect x="254.8" y="41.8" width="10.1" height="8.7" fill="#888888"/>
<rect x="264.6" y="41.8" width="10.1" height="8.7" fill="#c1c1c1"/>
<rect x="274.4" y="41.8" width="10.1" height="8.7" fill="#888888"/>
<rect x="284.2" y="41.8" width="39.5" height="8.7" fill="#555555"/>
<rect x="-29.4" y="50.2" width="39.5" height="8.7" fill="#e3e3e3"/>
<rect x="9.8" y="50.2" width="10.1" height="8.7" fill="#bbbbbb"/>
<rect x="19.6" y="50.2" width="19.9" height="8.7" fill="#aaaaaa"/>
<rect x="39.2" y="50.2" width="19.9" height="8.7" fill="#dddddd"/>
<rect x="58.8" y="50.2" width="10.1" height="8.7" fill="#b8b8b8"/>
<rect x="68.6" y="50.2" width="10.1" height="8.7" fill="#d4d4d4"/>
<rect x="78.4" y="50.2" width="10.1" height="8.7" fill="#cccccc"/>
<rect x="88.2" y="50.2" width="10.1" height="8.7" fill="#8e8e8e"/>
<rect x="98.0" y="50.2" width="10.1" height="8.7" fill="#b8b8b8"/>
<rect x="107.8" y="50.2" width="29.7" height="8.7" fill="#e3e3e3"/>
<rect x="137.2" y="50.2" width="10.1" height="8.7" fill="#c6c6c6"/>
<rect x="147.0" y="50.2" width="19.9" height="8.7" fill="#e8e8e8"/>
<rect x="166.6" y="50.2" width="10.1" height="8.7" fill="#c6c6c6"/>
<rect x="176.4" y="50.2" width="19.9" height="8.7" fill="#e0e0e0"/>
<rect x="196.0" y="50.2" width="10.1" height="8.7" fill="#b5b5b5"/>
<rect x="205.8" y="50.2" width="10.1" height="8.7" fill="#808080"/>
<rect x="215.6" y="50.2" width="10.1" height="8.7" fill="#777777"/>
<rect x="225.4" y="50.2" width="10.1" height="8.7" fill="#636363"/>
<rect x="235.2" y="50.2" width="10.1" height="8.7" fill="#474747"/>
<rect x="245.0" y="50.2" width="10.1" height="8.7" fill="#555555"/>
<rect x="254.8" y="50.2" width="10.1" height="8.7" fill="#888888"/>
<rect x="264.6" y="50.2" width="10.1" height="8.7" fill="#c1c1c1"/>
<rect x="274.4" y="50.2" width="10.1" height="8.7" fill="#888888"/>
<rect x="284.2" y="50.2" width="39.5" height="8.7" fill="#555555"/>
<rect x="-29.4" y="58.5" width="39.5" height="8.7" fill="#e3e3e3"/>
<rect x="9.8" y="58.5" width="10.1" height="8.7" fill="#bbbbbb"/>
<rect x="19.6" y="58.5" width="19.9" height="8.7" fill="#aaaaaa"/>
<rect x="39.2" y="58.5" width="19.9" height="8.7" fill="#dddddd"/>
<rect x="58.8" y="58.5" width="10.1" height="8.7" fill="#b8b8b8"/>
<rect x="68.6" y="58.5" width="10.1" height="8.7" fill="#d4d4d4"/>
<rect x="78.4" y="58.5" width="10.1" height="8.7" fill="#cccccc"/>
<rect x="88.2" y="58.5" width="10.1" height="8.7" fill="#8e8e8e"/>
<rect x="98.0" y="58.5" width="10.1" height="8.7" fill="#b8b8b8"/>
<rect x="107.8" y="58.5" width="29.7" height="8.7" fill="#e3e3e3"/>
<rect x="137.2" y="58.5" width="10.1" height="8.7" fill="#c6c6c6"/>
<rect x="147.0" y="58.5" width="19.9" height="8.7" fill="#e8e8e8"/>
<rect x="166.6" y="58.5" width="10.1" height="8.7" fill="#c6c6c6"/>
<rect x="176.4" y="58.5" width="19.9" height="8.7" fill="#e0e0e0"/>
<rect x="196.0" y="58.5" width="10.1" height="8.7" fill="#b5b5b5"/>
<rect x="205.8" y="58.5" width="10.1" height="8.7" fill="#808080"/>
<rect x="215.6" y="58.5" width="10.1" height="8.7" fill="#777777"/>
<rect x="225.4" y="58.5" width="10.1" height="8.7" fill="#636363"/>
<rect x="235.2" y="58.5" width="10.1" height="8.7" fill="#474747"/>
<rect x="245.0" y="58.5" width="10.1" height="8.7" fill="#555555"/>
<rect x="254.8" y="58.5" width="10.1" height="8.7" fill="#888888"/>
<rect x="264.6" y="58.5" width="10.1" height="8.7" fill="#c1c1c1"/>
<rect x="274.4" y="58.5" width="10.1" height="8.7" fill="#888888"/>
<rect x="284.2" y="58.5" width="39.5" height="8.7" fill="#555555"/>
</g></svg>
<rect x="386.5" y="227.9" width="294" height="41.8" fill="none" stroke="#111" stroke-width="1.5"/>
<svg x="386.5" y="472.1" width="294" height="41.8" overflow="hidden">
<g filter="url(#jet)" shape-rendering="crispEdges">
<rect x="-29.4" y="-25.1" width="39.5" height="8.7" fill="#282828"/>
<rect x="9.8" y="-25.1" width="10.1" height="8.7" fill="#3e3e3e"/>
<rect x="19.6" y="-25.1" width="10.1" height="8.7" fill="#444444"/>
<rect x="29.4" y="-25.1" width="10.1" height="8.7" fill="#3c3c3c"/>
<rect x="39.2" y="-25.1" width="10.1" height="8.7" fill="#444444"/>
<rect x="49.0" y="-25.1" width="10.1" height="8.7" fill="#4d4d4d"/>
<rect x="58.8" y="-25.1" width="29.7" height="8.7" fill="#525252"/>
<rect x="88.2" y="-25.1" width="10.1" height="8.7" fill="#4d4d4d"/>
<rect x="98.0" y="-25.1" width="19.9" height="8.7" fill="#444444"/>
<rect x="117.6" y="-25.1" width="10.1" height="8.7" fill="#3c3c3c"/>
<rect x="127.4" y="-25.1" width="10.1" height="8.7" fill="#444444"/>
<rect x="137.2" y="-25.1" width="10.1" height="8.7" fill="#3e3e3e"/>
<rect x="147.0" y="-25.1" width="10.1" height="8.7" fill="#393939"/>
<rect x="156.8" y="-25.1" width="19.9" height="8.7" fill="#303030"/>
<rect x="176.4" y="-25.1" width="39.5" height="8.7" fill="#393939"/>
<rect x="215.6" y="-25.1" width="10.1" height="8.7" fill="#303030"/>
<rect x="225.4" y="-25.1" width="10.1" height="8.7" fill="#141414"/>
<rect x="235.2" y="-25.1" width="10.1" height="8.7" fill="#0b0b0b"/>
<rect x="245.0" y="-25.1" width="10.1" height="8.7" fill="#141414"/>
<rect x="254.8" y="-25.1" width="10.1" height="8.7" fill="#060606"/>
<rect x="264.6" y="-25.1" width="59.1" height="8.7" fill="#000000"/>
<rect x="-29.4" y="-16.7" width="39.5" height="8.7" fill="#282828"/>
<rect x="9.8" y="-16.7" width="10.1" height="8.7" fill="#3e3e3e"/>
<rect x="19.6" y="-16.7" width="10.1" height="8.7" fill="#444444"/>
<rect x="29.4" y="-16.7" width="10.1" height="8.7" fill="#3c3c3c"/>
<rect x="39.2" y="-16.7" width="10.1" height="8.7" fill="#444444"/>
<rect x="49.0" y="-16.7" width="10.1" height="8.7" fill="#4d4d4d"/>
<rect x="58.8" y="-16.7" width="29.7" height="8.7" fill="#525252"/>
<rect x="88.2" y="-16.7" width="10.1" height="8.7" fill="#4d4d4d"/>
<rect x="98.0" y="-16.7" width="19.9" height="8.7" fill="#444444"/>
<rect x="117.6" y="-16.7" width="10.1" height="8.7" fill="#3c3c3c"/>
<rect x="127.4" y="-16.7" width="10.1" height="8.7" fill="#444444"/>
<rect x="137.2" y="-16.7" width="10.1" height="8.7" fill="#3e3e3e"/>
<rect x="147.0" y="-16.7" width="10.1" height="8.7" fill="#393939"/>
<rect x="156.8" y="-16.7" width="19.9" height="8.7" fill="#303030"/>
<rect x="176.4" y="-16.7" width="39.5" height="8.7" fill="#393939"/>
<rect x="215.6" y="-16.7" width="10.1" height="8.7" fill="#303030"/>
<rect x="225.4" y="-16.7" width="10.1" height="8.7" fill="#141414"/>
<rect x="235.2" y="-16.7" width="10.1" height="8.7" fill="#0b0b0b"/>
<rect x="245.0" y="-16.7" width="10.1" height="8.7" fill="#141414"/>
<rect x="254.8" y="-16.7" width="10.1" height="8.7" fill="#060606"/>
<rect x="264.6" y="-16.7" width="59.1" height="8.7" fill="#000000"/>
<rect x="-29.4" y="-8.4" width="39.5" height="8.7" fill="#282828"/>
<rect x="9.8" y="-8.4" width="10.1" height="8.7" fill="#3e3e3e"/>
<rect x="19.6" y="-8.4" width="10.1" height="8.7" fill="#444444"/>
<rect x="29.4" y="-8.4" width="10.1" height="8.7" fill="#3c3c3c"/>
<rect x="39.2" y="-8.4" width="10.1" height="8.7" fill="#444444"/>
<rect x="49.0" y="-8.4" width="10.1" height="8.7" fill="#4d4d4d"/>
<rect x="58.8" y="-8.4" width="29.7" height="8.7" fill="#525252"/>
<rect x="88.2" y="-8.4" width="10.1" height="8.7" fill="#4d4d4d"/>
<rect x="98.0" y="-8.4" width="19.9" height="8.7" fill="#444444"/>
<rect x="117.6" y="-8.4" width="10.1" height="8.7" fill="#3c3c3c"/>
<rect x="127.4" y="-8.4" width="10.1" height="8.7" fill="#444444"/>
<rect x="137.2" y="-8.4" width="10.1" height="8.7" fill="#3e3e3e"/>
<rect x="147.0" y="-8.4" width="10.1" height="8.7" fill="#393939"/>
<rect x="156.8" y="-8.4" width="19.9" height="8.7" fill="#303030"/>
<rect x="176.4" y="-8.4" width="39.5" height="8.7" fill="#393939"/>
<rect x="215.6" y="-8.4" width="10.1" height="8.7" fill="#303030"/>
<rect x="225.4" y="-8.4" width="10.1" height="8.7" fill="#141414"/>
<rect x="235.2" y="-8.4" width="10.1" height="8.7" fill="#0b0b0b"/>
<rect x="245.0" y="-8.4" width="10.1" height="8.7" fill="#141414"/>
<rect x="254.8" y="-8.4" width="10.1" height="8.7" fill="#060606"/>
<rect x="264.6" y="-8.4" width="59.1" height="8.7" fill="#000000"/>
<rect x="-29.4" y="0.0" width="39.5" height="8.7" fill="#3e3e3e"/>
<rect x="9.8" y="0.0" width="10.1" height="8.7" fill="#555555"/>
<rect x="19.6" y="0.0" width="10.1" height="8.7" fill="#5b5b5b"/>
<rect x="29.4" y="0.0" width="10.1" height="8.7" fill="#525252"/>
<rect x="39.2" y="0.0" width="10.1" height="8.7" fill="#5b5b5b"/>
<rect x="49.0" y="0.0" width="10.1" height="8.7" fill="#636363"/>
<rect x="58.8" y="0.0" width="29.7" height="8.7" fill="#696969"/>
<rect x="88.2" y="0.0" width="10.1" height="8.7" fill="#636363"/>
<rect x="98.0" y="0.0" width="19.9" height="8.7" fill="#5b5b5b"/>
<rect x="117.6" y="0.0" width="10.1" height="8.7" fill="#525252"/>
<rect x="127.4" y="0.0" width="10.1" height="8.7" fill="#5b5b5b"/>
<rect x="137.2" y="0.0" width="10.1" height="8.7" fill="#555555"/>
<rect x="147.0" y="0.0" width="10.1" height="8.7" fill="#4f4f4f"/>
<rect x="156.8" y="0.0" width="19.9" height="8.7" fill="#474747"/>
<rect x="176.4" y="0.0" width="39.5" height="8.7" fill="#4f4f4f"/>
<rect x="215.6" y="0.0" width="10.1" height="8.7" fill="#474747"/>
<rect x="225.4" y="0.0" width="10.1" height="8.7" fill="#2a2a2a"/>
<rect x="235.2" y="0.0" width="10.1" height="8.7" fill="#222222"/>
<rect x="245.0" y="0.0" width="10.1" height="8.7" fill="#2a2a2a"/>
<rect x="254.8" y="0.0" width="10.1" height="8.7" fill="#1c1c1c"/>
<rect x="264.6" y="0.0" width="59.1" height="8.7" fill="#171717"/>
<rect x="-29.4" y="8.4" width="39.5" height="8.7" fill="#6e6e6e"/>
<rect x="9.8" y="8.4" width="10.1" height="8.7" fill="#828282"/>
<rect x="19.6" y="8.4" width="19.9" height="8.7" fill="#8b8b8b"/>
<rect x="39.2" y="8.4" width="10.1" height="8.7" fill="#939393"/>
<rect x="49.0" y="8.4" width="10.1" height="8.7" fill="#9f9f9f"/>
<rect x="58.8" y="8.4" width="29.7" height="8.7" fill="#a7a7a7"/>
<rect x="88.2" y="8.4" width="10.1" height="8.7" fill="#9f9f9f"/>
<rect x="98.0" y="8.4" width="10.1" height="8.7" fill="#999999"/>
<rect x="107.8" y="8.4" width="19.9" height="8.7" fill="#939393"/>
<rect x="127.4" y="8.4" width="19.9" height="8.7" fill="#8b8b8b"/>
<rect x="147.0" y="8.4" width="10.1" height="8.7" fill="#717171"/>
<rect x="156.8" y="8.4" width="10.1" height="8.7" fill="#6c6c6c"/>
<rect x="166.6" y="8.4" width="10.1" height="8.7" fill="#636363"/>
<rect x="176.4" y="8.4" width="10.1" height="8.7" fill="#6c6c6c"/>
<rect x="186.2" y="8.4" width="29.7" height="8.7" fill="#636363"/>
<rect x="215.6" y="8.4" width="10.1" height="8.7" fill="#5b5b5b"/>
<rect x="225.4" y="8.4" width="29.7" height="8.7" fill="#474747"/>
<rect x="254.8" y="8.4" width="10.1" height="8.7" fill="#333333"/>
<rect x="264.6" y="8.4" width="19.9" height="8.7" fill="#222222"/>
<rect x="284.2" y="8.4" width="39.5" height="8.7" fill="#2a2a2a"/>
<rect x="-29.4" y="16.7" width="39.5" height="8.7" fill="#9c9c9c"/>
<rect x="9.8" y="16.7" width="10.1" height="8.7" fill="#a4a4a4"/>
<rect x="19.6" y="16.7" width="19.9" height="8.7" fill="#aaaaaa"/>
<rect x="39.2" y="16.7" width="10.1" height="8.7" fill="#b0b0b0"/>
<rect x="49.0" y="16.7" width="10.1" height="8.7" fill="#c1c1c1"/>
<rect x="58.8" y="16.7" width="19.9" height="8.7" fill="#cccccc"/>
<rect x="78.4" y="16.7" width="10.1" height="8.7" fill="#c6c6c6"/>
<rect x="88.2" y="16.7" width="10.1" height="8.7" fill="#c1c1c1"/>
<rect x="98.0" y="16.7" width="29.7" height="8.7" fill="#b0b0b0"/>
<rect x="127.4" y="16.7" width="10.1" height="8.7" fill="#aaaaaa"/>
<rect x="137.2" y="16.7" width="29.7" height="8.7" fill="#a4a4a4"/>
<rect x="166.6" y="16.7" width="10.1" height="8.7" fill="#9c9c9c"/>
<rect x="176.4" y="16.7" width="10.1" height="8.7" fill="#a4a4a4"/>
<rect x="186.2" y="16.7" width="10.1" height="8.7" fill="#939393"/>
<rect x="196.0" y="16.7" width="19.9" height="8.7" fill="#888888"/>
<rect x="215.6" y="16.7" width="10.1" height="8.7" fill="#8e8e8e"/>
<rect x="225.4" y="16.7" width="10.1" height="8.7" fill="#717171"/>
<rect x="235.2" y="16.7" width="10.1" height="8.7" fill="#6c6c6c"/>
<rect x="245.0" y="16.7" width="10.1" height="8.7" fill="#636363"/>
<rect x="254.8" y="16.7" width="10.1" height="8.7" fill="#555555"/>
<rect x="264.6" y="16.7" width="59.1" height="8.7" fill="#4f4f4f"/>
<rect x="-29.4" y="25.1" width="39.5" height="8.7" fill="#9c9c9c"/>
<rect x="9.8" y="25.1" width="10.1" height="8.7" fill="#cfcfcf"/>
<rect x="19.6" y="25.1" width="29.7" height="8.7" fill="#d4d4d4"/>
<rect x="49.0" y="25.1" width="10.1" height="8.7" fill="#e3e3e3"/>
<rect x="58.8" y="25.1" width="10.1" height="8.7" fill="#f1f1f1"/>
<rect x="68.6" y="25.1" width="19.9" height="8.7" fill="#ebebeb"/>
<rect x="88.2" y="25.1" width="10.1" height="8.7" fill="#e3e3e3"/>
<rect x="98.0" y="25.1" width="10.1" height="8.7" fill="#d4d4d4"/>
<rect x="107.8" y="25.1" width="19.9" height="8.7" fill="#dadada"/>
<rect x="127.4" y="25.1" width="10.1" height="8.7" fill="#d4d4d4"/>
<rect x="137.2" y="25.1" width="10.1" height="8.7" fill="#c6c6c6"/>
<rect x="147.0" y="25.1" width="29.7" height="8.7" fill="#cccccc"/>
<rect x="176.4" y="25.1" width="10.1" height="8.7" fill="#d4d4d4"/>
<rect x="186.2" y="25.1" width="10.1" height="8.7" fill="#cccccc"/>
<rect x="196.0" y="25.1" width="19.9" height="8.7" fill="#c6c6c6"/>
<rect x="215.6" y="25.1" width="10.1" height="8.7" fill="#bebebe"/>
<rect x="225.4" y="25.1" width="10.1" height="8.7" fill="#b2b2b2"/>
<rect x="235.2" y="25.1" width="10.1" height="8.7" fill="#aaaaaa"/>
<rect x="245.0" y="25.1" width="10.1" height="8.7" fill="#9c9c9c"/>
<rect x="254.8" y="25.1" width="10.1" height="8.7" fill="#8e8e8e"/>
<rect x="264.6" y="25.1" width="10.1" height="8.7" fill="#858585"/>
<rect x="274.4" y="25.1" width="49.3" height="8.7" fill="#808080"/>
<rect x="-29.4" y="33.4" width="39.5" height="8.7" fill="#b8b8b8"/>
<rect x="9.8" y="33.4" width="10.1" height="8.7" fill="#e3e3e3"/>
<rect x="19.6" y="33.4" width="29.7" height="8.7" fill="#e8e8e8"/>
<rect x="49.0" y="33.4" width="10.1" height="8.7" fill="#f1f1f1"/>
<rect x="58.8" y="33.4" width="10.1" height="8.7" fill="#ffffff"/>
<rect x="68.6" y="33.4" width="19.9" height="8.7" fill="#ffffff"/>
<rect x="88.2" y="33.4" width="10.1" height="8.7" fill="#f1f1f1"/>
<rect x="98.0" y="33.4" width="29.7" height="8.7" fill="#e8e8e8"/>
<rect x="127.4" y="33.4" width="10.1" height="8.7" fill="#e3e3e3"/>
<rect x="137.2" y="33.4" width="10.1" height="8.7" fill="#dddddd"/>
<rect x="147.0" y="33.4" width="10.1" height="8.7" fill="#d4d4d4"/>
<rect x="156.8" y="33.4" width="19.9" height="8.7" fill="#dadada"/>
<rect x="176.4" y="33.4" width="10.1" height="8.7" fill="#e0e0e0"/>
<rect x="186.2" y="33.4" width="10.1" height="8.7" fill="#dadada"/>
<rect x="196.0" y="33.4" width="19.9" height="8.7" fill="#d4d4d4"/>
<rect x="215.6" y="33.4" width="10.1" height="8.7" fill="#cfcfcf"/>
<rect x="225.4" y="33.4" width="10.1" height="8.7" fill="#c6c6c6"/>
<rect x="235.2" y="33.4" width="10.1" height="8.7" fill="#bebebe"/>
<rect x="245.0" y="33.4" width="10.1" height="8.7" fill="#b8b8b8"/>
<rect x="254.8" y="33.4" width="10.1" height="8.7" fill="#b2b2b2"/>
<rect x="264.6" y="33.4" width="10.1" height="8.7" fill="#aaaaaa"/>
<rect x="274.4" y="33.4" width="10.1" height="8.7" fill="#a2a2a2"/>
<rect x="284.2" y="33.4" width="39.5" height="8.7" fill="#9c9c9c"/>
<rect x="-29.4" y="41.8" width="39.5" height="8.7" fill="#b8b8b8"/>
<rect x="9.8" y="41.8" width="10.1" height="8.7" fill="#e3e3e3"/>
<rect x="19.6" y="41.8" width="29.7" height="8.7" fill="#e8e8e8"/>
<rect x="49.0" y="41.8" width="10.1" height="8.7" fill="#f1f1f1"/>
<rect x="58.8" y="41.8" width="10.1" height="8.7" fill="#ffffff"/>
<rect x="68.6" y="41.8" width="19.9" height="8.7" fill="#ffffff"/>
<rect x="88.2" y="41.8" width="10.1" height="8.7" fill="#f1f1f1"/>
<rect x="98.0" y="41.8" width="29.7" height="8.7" fill="#e8e8e8"/>
<rect x="127.4" y="41.8" width="10.1" height="8.7" fill="#e3e3e3"/>
<rect x="137.2" y="41.8" width="10.1" height="8.7" fill="#dddddd"/>
<rect x="147.0" y="41.8" width="10.1" height="8.7" fill="#d4d4d4"/>
<rect x="156.8" y="41.8" width="19.9" height="8.7" fill="#dadada"/>
<rect x="176.4" y="41.8" width="10.1" height="8.7" fill="#e0e0e0"/>
<rect x="186.2" y="41.8" width="10.1" height="8.7" fill="#dadada"/>
<rect x="196.0" y="41.8" width="19.9" height="8.7" fill="#d4d4d4"/>
<rect x="215.6" y="41.8" width="10.1" height="8.7" fill="#cfcfcf"/>
<rect x="225.4" y="41.8" width="10.1" height="8.7" fill="#c6c6c6"/>
<rect x="235.2" y="41.8" width="10.1" height="8.7" fill="#bebebe"/>
<rect x="245.0" y="41.8" width="10.1" height="8.7" fill="#b8b8b8"/>
<rect x="254.8" y="41.8" width="10.1" height="8.7" fill="#b2b2b2"/>
<rect x="264.6" y="41.8" width="10.1" height="8.7" fill="#aaaaaa"/>
<rect x="274.4" y="41.8" width="10.1" height="8.7" fill="#a2a2a2"/>
<rect x="284.2" y="41.8" width="39.5" height="8.7" fill="#9c9c9c"/>
<rect x="-29.4" y="50.2" width="39.5" height="8.7" fill="#b8b8b8"/>
<rect x="9.8" y="50.2" width="10.1" height="8.7" fill="#e3e3e3"/>
<rect x="19.6" y="50.2" width="29.7" height="8.7" fill="#e8e8e8"/>
<rect x="49.0" y="50.2" width="10.1" height="8.7" fill="#f1f1f1"/>
<rect x="58.8" y="50.2" width="10.1" height="8.7" fill="#ffffff"/>
<rect x="68.6" y="50.2" width="19.9" height="8.7" fill="#ffffff"/>
<rect x="88.2" y="50.2" width="10.1" height="8.7" fill="#f1f1f1"/>
<rect x="98.0" y="50.2" width="29.7" height="8.7" fill="#e8e8e8"/>
<rect x="127.4" y="50.2" width="10.1" height="8.7" fill="#e3e3e3"/>
<rect x="137.2" y="50.2" width="10.1" height="8.7" fill="#dddddd"/>
<rect x="147.0" y="50.2" width="10.1" height="8.7" fill="#d4d4d4"/>
<rect x="156.8" y="50.2" width="19.9" height="8.7" fill="#dadada"/>
<rect x="176.4" y="50.2" width="10.1" height="8.7" fill="#e0e0e0"/>
<rect x="186.2" y="50.2" width="10.1" height="8.7" fill="#dadada"/>
<rect x="196.0" y="50.2" width="19.9" height="8.7" fill="#d4d4d4"/>
<rect x="215.6" y="50.2" width="10.1" height="8.7" fill="#cfcfcf"/>
<rect x="225.4" y="50.2" width="10.1" height="8.7" fill="#c6c6c6"/>
<rect x="235.2" y="50.2" width="10.1" height="8.7" fill="#bebebe"/>
<rect x="245.0" y="50.2" width="10.1" height="8.7" fill="#b8b8b8"/>
<rect x="254.8" y="50.2" width="10.1" height="8.7" fill="#b2b2b2"/>
<rect x="264.6" y="50.2" width="10.1" height="8.7" fill="#aaaaaa"/>
<rect x="274.4" y="50.2" width="10.1" height="8.7" fill="#a2a2a2"/>
<rect x="284.2" y="50.2" width="39.5" height="8.7" fill="#9c9c9c"/>
<rect x="-29.4" y="58.5" width="39.5" height="8.7" fill="#b8b8b8"/>
<rect x="9.8" y="58.5" width="10.1" height="8.7" fill="#e3e3e3"/>
<rect x="19.6" y="58.5" width="29.7" height="8.7" fill="#e8e8e8"/>
<rect x="49.0" y="58.5" width="10.1" height="8.7" fill="#f1f1f1"/>
<rect x="58.8" y="58.5" width="10.1" height="8.7" fill="#ffffff"/>
<rect x="68.6" y="58.5" width="19.9" height="8.7" fill="#ffffff"/>
<rect x="88.2" y="58.5" width="10.1" height="8.7" fill="#f1f1f1"/>
<rect x="98.0" y="58.5" width="29.7" height="8.7" fill="#e8e8e8"/>
<rect x="127.4" y="58.5" width="10.1" height="8.7" fill="#e3e3e3"/>
<rect x="137.2" y="58.5" width="10.1" height="8.7" fill="#dddddd"/>
<rect x="147.0" y="58.5" width="10.1" height="8.7" fill="#d4d4d4"/>
<rect x="156.8" y="58.5" width="19.9" height="8.7" fill="#dadada"/>
<rect x="176.4" y="58.5" width="10.1" height="8.7" fill="#e0e0e0"/>
<rect x="186.2" y="58.5" width="10.1" height="8.7" fill="#dadada"/>
<rect x="196.0" y="58.5" width="19.9" height="8.7" fill="#d4d4d4"/>
<rect x="215.6" y="58.5" width="10.1" height="8.7" fill="#cfcfcf"/>
<rect x="225.4" y="58.5" width="10.1" height="8.7" fill="#c6c6c6"/>
<rect x="235.2" y="58.5" width="10.1" height="8.7" fill="#bebebe"/>
<rect x="245.0" y="58.5" width="10.1" height="8.7" fill="#b8b8b8"/>
<rect x="254.8" y="58.5" width="10.1" height="8.7" fill="#b2b2b2"/>
<rect x="264.6" y="58.5" width="10.1" height="8.7" fill="#aaaaaa"/>
<rect x="274.4" y="58.5" width="10.1" height="8.7" fill="#a2a2a2"/>
<rect x="284.2" y="58.5" width="39.5" height="8.7" fill="#9c9c9c"/>
</g></svg>
<rect x="386.5" y="472.1" width="294" height="41.8" fill="none" stroke="#111" stroke-width="1.5"/>
<svg x="386.5" y="530.3" width="294" height="41.8" overflow="hidden">
<g filter="url(#jet)" shape-rendering="crispEdges">
<rect x="-29.4" y="-25.1" width="39.5" height="8.7" fill="#3e3e3e"/>
<rect x="9.8" y="-25.1" width="10.1" height="8.7" fill="#5b5b5b"/>
<rect x="19.6" y="-25.1" width="10.1" height="8.7" fill="#696969"/>
<rect x="29.4" y="-25.1" width="10.1" height="8.7" fill="#777777"/>
<rect x="39.2" y="-25.1" width="10.1" height="8.7" fill="#858585"/>
<rect x="49.0" y="-25.1" width="10.1" height="8.7" fill="#8e8e8e"/>
<rect x="58.8" y="-25.1" width="10.1" height="8.7" fill="#999999"/>
<rect x="68.6" y="-25.1" width="10.1" height="8.7" fill="#939393"/>
<rect x="78.4" y="-25.1" width="10.1" height="8.7" fill="#999999"/>
<rect x="88.2" y="-25.1" width="10.1" height="8.7" fill="#858585"/>
<rect x="98.0" y="-25.1" width="39.5" height="8.7" fill="#7d7d7d"/>
<rect x="137.2" y="-25.1" width="10.1" height="8.7" fill="#777777"/>
<rect x="147.0" y="-25.1" width="10.1" height="8.7" fill="#606060"/>
<rect x="156.8" y="-25.1" width="39.5" height="8.7" fill="#5b5b5b"/>
<rect x="196.0" y="-25.1" width="10.1" height="8.7" fill="#303030"/>
<rect x="205.8" y="-25.1" width="10.1" height="8.7" fill="#2a2a2a"/>
<rect x="215.6" y="-25.1" width="10.1" height="8.7" fill="#303030"/>
<rect x="225.4" y="-25.1" width="10.1" height="8.7" fill="#2a2a2a"/>
<rect x="235.2" y="-25.1" width="10.1" height="8.7" fill="#222222"/>
<rect x="245.0" y="-25.1" width="19.9" height="8.7" fill="#141414"/>
<rect x="264.6" y="-25.1" width="10.1" height="8.7" fill="#060606"/>
<rect x="274.4" y="-25.1" width="10.1" height="8.7" fill="#000000"/>
<rect x="284.2" y="-25.1" width="39.5" height="8.7" fill="#000000"/>
<rect x="-29.4" y="-16.7" width="39.5" height="8.7" fill="#3e3e3e"/>
<rect x="9.8" y="-16.7" width="10.1" height="8.7" fill="#5b5b5b"/>
<rect x="19.6" y="-16.7" width="10.1" height="8.7" fill="#696969"/>
<rect x="29.4" y="-16.7" width="10.1" height="8.7" fill="#777777"/>
<rect x="39.2" y="-16.7" width="10.1" height="8.7" fill="#858585"/>
<rect x="49.0" y="-16.7" width="10.1" height="8.7" fill="#8e8e8e"/>
<rect x="58.8" y="-16.7" width="10.1" height="8.7" fill="#999999"/>
<rect x="68.6" y="-16.7" width="10.1" height="8.7" fill="#939393"/>
<rect x="78.4" y="-16.7" width="10.1" height="8.7" fill="#999999"/>
<rect x="88.2" y="-16.7" width="10.1" height="8.7" fill="#858585"/>
<rect x="98.0" y="-16.7" width="39.5" height="8.7" fill="#7d7d7d"/>
<rect x="137.2" y="-16.7" width="10.1" height="8.7" fill="#777777"/>
<rect x="147.0" y="-16.7" width="10.1" height="8.7" fill="#606060"/>
<rect x="156.8" y="-16.7" width="39.5" height="8.7" fill="#5b5b5b"/>
<rect x="196.0" y="-16.7" width="10.1" height="8.7" fill="#303030"/>
<rect x="205.8" y="-16.7" width="10.1" height="8.7" fill="#2a2a2a"/>
<rect x="215.6" y="-16.7" width="10.1" height="8.7" fill="#303030"/>
<rect x="225.4" y="-16.7" width="10.1" height="8.7" fill="#2a2a2a"/>
<rect x="235.2" y="-16.7" width="10.1" height="8.7" fill="#222222"/>
<rect x="245.0" y="-16.7" width="19.9" height="8.7" fill="#141414"/>
<rect x="264.6" y="-16.7" width="10.1" height="8.7" fill="#060606"/>
<rect x="274.4" y="-16.7" width="10.1" height="8.7" fill="#000000"/>
<rect x="284.2" y="-16.7" width="39.5" height="8.7" fill="#000000"/>
<rect x="-29.4" y="-8.4" width="39.5" height="8.7" fill="#3e3e3e"/>
<rect x="9.8" y="-8.4" width="10.1" height="8.7" fill="#5b5b5b"/>
<rect x="19.6" y="-8.4" width="10.1" height="8.7" fill="#696969"/>
<rect x="29.4" y="-8.4" width="10.1" height="8.7" fill="#777777"/>
<rect x="39.2" y="-8.4" width="10.1" height="8.7" fill="#858585"/>
<rect x="49.0" y="-8.4" width="10.1" height="8.7" fill="#8e8e8e"/>
<rect x="58.8" y="-8.4" width="10.1" height="8.7" fill="#999999"/>
<rect x="68.6" y="-8.4" width="10.1" height="8.7" fill="#939393"/>
<rect x="78.4" y="-8.4" width="10.1" height="8.7" fill="#999999"/>
<rect x="88.2" y="-8.4" width="10.1" height="8.7" fill="#858585"/>
<rect x="98.0" y="-8.4" width="39.5" height="8.7" fill="#7d7d7d"/>
<rect x="137.2" y="-8.4" width="10.1" height="8.7" fill="#777777"/>
<rect x="147.0" y="-8.4" width="10.1" height="8.7" fill="#606060"/>
<rect x="156.8" y="-8.4" width="39.5" height="8.7" fill="#5b5b5b"/>
<rect x="196.0" y="-8.4" width="10.1" height="8.7" fill="#303030"/>
<rect x="205.8" y="-8.4" width="10.1" height="8.7" fill="#2a2a2a"/>
<rect x="215.6" y="-8.4" width="10.1" height="8.7" fill="#303030"/>
<rect x="225.4" y="-8.4" width="10.1" height="8.7" fill="#2a2a2a"/>
<rect x="235.2" y="-8.4" width="10.1" height="8.7" fill="#222222"/>
<rect x="245.0" y="-8.4" width="19.9" height="8.7" fill="#141414"/>
<rect x="264.6" y="-8.4" width="10.1" height="8.7" fill="#060606"/>
<rect x="274.4" y="-8.4" width="10.1" height="8.7" fill="#000000"/>
<rect x="284.2" y="-8.4" width="39.5" height="8.7" fill="#000000"/>
<rect x="-29.4" y="0.0" width="39.5" height="8.7" fill="#555555"/>
<rect x="9.8" y="0.0" width="10.1" height="8.7" fill="#717171"/>
<rect x="19.6" y="0.0" width="10.1" height="8.7" fill="#808080"/>
<rect x="29.4" y="0.0" width="10.1" height="8.7" fill="#8e8e8e"/>
<rect x="39.2" y="0.0" width="10.1" height="8.7" fill="#9c9c9c"/>
<rect x="49.0" y="0.0" width="10.1" height="8.7" fill="#a4a4a4"/>
<rect x="58.8" y="0.0" width="10.1" height="8.7" fill="#b0b0b0"/>
<rect x="68.6" y="0.0" width="10.1" height="8.7" fill="#aaaaaa"/>
<rect x="78.4" y="0.0" width="10.1" height="8.7" fill="#b0b0b0"/>
<rect x="88.2" y="0.0" width="10.1" height="8.7" fill="#9c9c9c"/>
<rect x="98.0" y="0.0" width="39.5" height="8.7" fill="#939393"/>
<rect x="137.2" y="0.0" width="10.1" height="8.7" fill="#8e8e8e"/>
<rect x="147.0" y="0.0" width="10.1" height="8.7" fill="#777777"/>
<rect x="156.8" y="0.0" width="39.5" height="8.7" fill="#717171"/>
<rect x="196.0" y="0.0" width="10.1" height="8.7" fill="#474747"/>
<rect x="205.8" y="0.0" width="10.1" height="8.7" fill="#414141"/>
<rect x="215.6" y="0.0" width="10.1" height="8.7" fill="#474747"/>
<rect x="225.4" y="0.0" width="10.1" height="8.7" fill="#414141"/>
<rect x="235.2" y="0.0" width="10.1" height="8.7" fill="#393939"/>
<rect x="245.0" y="0.0" width="19.9" height="8.7" fill="#2a2a2a"/>
<rect x="264.6" y="0.0" width="10.1" height="8.7" fill="#1c1c1c"/>
<rect x="274.4" y="0.0" width="10.1" height="8.7" fill="#171717"/>
<rect x="284.2" y="0.0" width="39.5" height="8.7" fill="#0e0e0e"/>
<rect x="-29.4" y="8.4" width="39.5" height="8.7" fill="#717171"/>
<rect x="9.8" y="8.4" width="10.1" height="8.7" fill="#808080"/>
<rect x="19.6" y="8.4" width="10.1" height="8.7" fill="#8e8e8e"/>
<rect x="29.4" y="8.4" width="10.1" height="8.7" fill="#a4a4a4"/>
<rect x="39.2" y="8.4" width="10.1" height="8.7" fill="#aaaaaa"/>
<rect x="49.0" y="8.4" width="10.1" height="8.7" fill="#b0b0b0"/>
<rect x="58.8" y="8.4" width="10.1" height="8.7" fill="#c6c6c6"/>
<rect x="68.6" y="8.4" width="10.1" height="8.7" fill="#b8b8b8"/>
<rect x="78.4" y="8.4" width="10.1" height="8.7" fill="#c6c6c6"/>
<rect x="88.2" y="8.4" width="10.1" height="8.7" fill="#aaaaaa"/>
<rect x="98.0" y="8.4" width="49.3" height="8.7" fill="#a4a4a4"/>
<rect x="147.0" y="8.4" width="10.1" height="8.7" fill="#999999"/>
<rect x="156.8" y="8.4" width="10.1" height="8.7" fill="#939393"/>
<rect x="166.6" y="8.4" width="10.1" height="8.7" fill="#999999"/>
<rect x="176.4" y="8.4" width="10.1" height="8.7" fill="#9f9f9f"/>
<rect x="186.2" y="8.4" width="10.1" height="8.7" fill="#8b8b8b"/>
<rect x="196.0" y="8.4" width="10.1" height="8.7" fill="#4d4d4d"/>
<rect x="205.8" y="8.4" width="10.1" height="8.7" fill="#474747"/>
<rect x="215.6" y="8.4" width="10.1" height="8.7" fill="#555555"/>
<rect x="225.4" y="8.4" width="10.1" height="8.7" fill="#4d4d4d"/>
<rect x="235.2" y="8.4" width="10.1" height="8.7" fill="#474747"/>
<rect x="245.0" y="8.4" width="10.1" height="8.7" fill="#303030"/>
<rect x="254.8" y="8.4" width="10.1" height="8.7" fill="#2a2a2a"/>
<rect x="264.6" y="8.4" width="10.1" height="8.7" fill="#222222"/>
<rect x="274.4" y="8.4" width="10.1" height="8.7" fill="#1c1c1c"/>
<rect x="284.2" y="8.4" width="39.5" height="8.7" fill="#171717"/>
<rect x="-29.4" y="16.7" width="39.5" height="8.7" fill="#8e8e8e"/>
<rect x="9.8" y="16.7" width="10.1" height="8.7" fill="#888888"/>
<rect x="19.6" y="16.7" width="10.1" height="8.7" fill="#a4a4a4"/>
<rect x="29.4" y="16.7" width="10.1" height="8.7" fill="#c1c1c1"/>
<rect x="39.2" y="16.7" width="19.9" height="8.7" fill="#cccccc"/>
<rect x="58.8" y="16.7" width="19.9" height="8.7" fill="#e8e8e8"/>
<rect x="78.4" y="16.7" width="10.1" height="8.7" fill="#e3e3e3"/>
<rect x="88.2" y="16.7" width="10.1" height="8.7" fill="#b8b8b8"/>
<rect x="98.0" y="16.7" width="10.1" height="8.7" fill="#bebebe"/>
<rect x="107.8" y="16.7" width="10.1" height="8.7" fill="#c3c3c3"/>
<rect x="117.6" y="16.7" width="10.1" height="8.7" fill="#bebebe"/>
<rect x="127.4" y="16.7" width="19.9" height="8.7" fill="#b5b5b5"/>
<rect x="147.0" y="16.7" width="10.1" height="8.7" fill="#b0b0b0"/>
<rect x="156.8" y="16.7" width="10.1" height="8.7" fill="#a7a7a7"/>
<rect x="166.6" y="16.7" width="10.1" height="8.7" fill="#b3b3b3"/>
<rect x="176.4" y="16.7" width="10.1" height="8.7" fill="#bbbbbb"/>
<rect x="186.2" y="16.7" width="10.1" height="8.7" fill="#a4a4a4"/>
<rect x="196.0" y="16.7" width="10.1" height="8.7" fill="#636363"/>
<rect x="205.8" y="16.7" width="10.1" height="8.7" fill="#5e5e5e"/>
<rect x="215.6" y="16.7" width="10.1" height="8.7" fill="#636363"/>
<rect x="225.4" y="16.7" width="10.1" height="8.7" fill="#555555"/>
<rect x="235.2" y="16.7" width="10.1" height="8.7" fill="#4d4d4d"/>
<rect x="245.0" y="16.7" width="10.1" height="8.7" fill="#393939"/>
<rect x="254.8" y="16.7" width="10.1" height="8.7" fill="#333333"/>
<rect x="264.6" y="16.7" width="10.1" height="8.7" fill="#2a2a2a"/>
<rect x="274.4" y="16.7" width="10.1" height="8.7" fill="#222222"/>
<rect x="284.2" y="16.7" width="39.5" height="8.7" fill="#1c1c1c"/>
<rect x="-29.4" y="25.1" width="39.5" height="8.7" fill="#9c9c9c"/>
<rect x="9.8" y="25.1" width="10.1" height="8.7" fill="#9f9f9f"/>
<rect x="19.6" y="25.1" width="10.1" height="8.7" fill="#bbbbbb"/>
<rect x="29.4" y="25.1" width="10.1" height="8.7" fill="#cccccc"/>
<rect x="39.2" y="25.1" width="10.1" height="8.7" fill="#dddddd"/>
<rect x="49.0" y="25.1" width="10.1" height="8.7" fill="#d4d4d4"/>
<rect x="58.8" y="25.1" width="10.1" height="8.7" fill="#f1f1f1"/>
<rect x="68.6" y="25.1" width="10.1" height="8.7" fill="#f9f9f9"/>
<rect x="78.4" y="25.1" width="10.1" height="8.7" fill="#f1f1f1"/>
<rect x="88.2" y="25.1" width="10.1" height="8.7" fill="#c6c6c6"/>
<rect x="98.0" y="25.1" width="10.1" height="8.7" fill="#c3c3c3"/>
<rect x="107.8" y="25.1" width="10.1" height="8.7" fill="#d2d2d2"/>
<rect x="117.6" y="25.1" width="10.1" height="8.7" fill="#c3c3c3"/>
<rect x="127.4" y="25.1" width="10.1" height="8.7" fill="#b5b5b5"/>
<rect x="137.2" y="25.1" width="10.1" height="8.7" fill="#bebebe"/>
<rect x="147.0" y="25.1" width="10.1" height="8.7" fill="#aaaaaa"/>
<rect x="156.8" y="25.1" width="10.1" height="8.7" fill="#a4a4a4"/>
<rect x="166.6" y="25.1" width="10.1" height="8.7" fill="#b5b5b5"/>
<rect x="176.4" y="25.1" width="10.1" height="8.7" fill="#bbbbbb"/>
<rect x="186.2" y="25.1" width="10.1" height="8.7" fill="#a7a7a7"/>
<rect x="196.0" y="25.1" width="10.1" height="8.7" fill="#717171"/>
<rect x="205.8" y="25.1" width="19.9" height="8.7" fill="#696969"/>
<rect x="225.4" y="25.1" width="10.1" height="8.7" fill="#5e5e5e"/>
<rect x="235.2" y="25.1" width="10.1" height="8.7" fill="#555555"/>
<rect x="245.0" y="25.1" width="19.9" height="8.7" fill="#474747"/>
<rect x="264.6" y="25.1" width="10.1" height="8.7" fill="#4f4f4f"/>
<rect x="274.4" y="25.1" width="10.1" height="8.7" fill="#393939"/>
<rect x="284.2" y="25.1" width="39.5" height="8.7" fill="#222222"/>
<rect x="-29.4" y="33.4" width="39.5" height="8.7" fill="#a4a4a4"/>
<rect x="9.8" y="33.4" width="10.1" height="8.7" fill="#9f9f9f"/>
<rect x="19.6" y="33.4" width="10.1" height="8.7" fill="#bbbbbb"/>
<rect x="29.4" y="33.4" width="10.1" height="8.7" fill="#d4d4d4"/>
<rect x="39.2" y="33.4" width="19.9" height="8.7" fill="#e3e3e3"/>
<rect x="58.8" y="33.4" width="10.1" height="8.7" fill="#ffffff"/>
<rect x="68.6" y="33.4" width="10.1" height="8.7" fill="#ffffff"/>
<rect x="78.4" y="33.4" width="10.1" height="8.7" fill="#f1f1f1"/>
<rect x="88.2" y="33.4" width="10.1" height="8.7" fill="#cccccc"/>
<rect x="98.0" y="33.4" width="10.1" height="8.7" fill="#c3c3c3"/>
<rect x="107.8" y="33.4" width="10.1" height="8.7" fill="#d2d2d2"/>
<rect x="117.6" y="33.4" width="10.1" height="8.7" fill="#c3c3c3"/>
<rect x="127.4" y="33.4" width="10.1" height="8.7" fill="#b5b5b5"/>
<rect x="137.2" y="33.4" width="10.1" height="8.7" fill="#bebebe"/>
<rect x="147.0" y="33.4" width="10.1" height="8.7" fill="#b0b0b0"/>
<rect x="156.8" y="33.4" width="10.1" height="8.7" fill="#aaaaaa"/>
<rect x="166.6" y="33.4" width="10.1" height="8.7" fill="#bbbbbb"/>
<rect x="176.4" y="33.4" width="10.1" height="8.7" fill="#cccccc"/>
<rect x="186.2" y="33.4" width="10.1" height="8.7" fill="#b0b0b0"/>
<rect x="196.0" y="33.4" width="10.1" height="8.7" fill="#7a7a7a"/>
<rect x="205.8" y="33.4" width="10.1" height="8.7" fill="#717171"/>
<rect x="215.6" y="33.4" width="10.1" height="8.7" fill="#696969"/>
<rect x="225.4" y="33.4" width="10.1" height="8.7" fill="#636363"/>
<rect x="235.2" y="33.4" width="10.1" height="8.7" fill="#555555"/>
<rect x="245.0" y="33.4" width="10.1" height="8.7" fill="#474747"/>
<rect x="254.8" y="33.4" width="10.1" height="8.7" fill="#555555"/>
<rect x="264.6" y="33.4" width="10.1" height="8.7" fill="#5b5b5b"/>
<rect x="274.4" y="33.4" width="10.1" height="8.7" fill="#474747"/>
<rect x="284.2" y="33.4" width="39.5" height="8.7" fill="#2a2a2a"/>
<rect x="-29.4" y="41.8" width="39.5" height="8.7" fill="#a4a4a4"/>
<rect x="9.8" y="41.8" width="10.1" height="8.7" fill="#9f9f9f"/>
<rect x="19.6" y="41.8" width="10.1" height="8.7" fill="#bbbbbb"/>
<rect x="29.4" y="41.8" width="10.1" height="8.7" fill="#d4d4d4"/>
<rect x="39.2" y="41.8" width="19.9" height="8.7" fill="#e3e3e3"/>
<rect x="58.8" y="41.8" width="10.1" height="8.7" fill="#ffffff"/>
<rect x="68.6" y="41.8" width="10.1" height="8.7" fill="#ffffff"/>
<rect x="78.4" y="41.8" width="10.1" height="8.7" fill="#f1f1f1"/>
<rect x="88.2" y="41.8" width="10.1" height="8.7" fill="#cccccc"/>
<rect x="98.0" y="41.8" width="10.1" height="8.7" fill="#c3c3c3"/>
<rect x="107.8" y="41.8" width="10.1" height="8.7" fill="#d2d2d2"/>
<rect x="117.6" y="41.8" width="10.1" height="8.7" fill="#c3c3c3"/>
<rect x="127.4" y="41.8" width="10.1" height="8.7" fill="#b5b5b5"/>
<rect x="137.2" y="41.8" width="10.1" height="8.7" fill="#bebebe"/>
<rect x="147.0" y="41.8" width="10.1" height="8.7" fill="#b0b0b0"/>
<rect x="156.8" y="41.8" width="10.1" height="8.7" fill="#aaaaaa"/>
<rect x="166.6" y="41.8" width="10.1" height="8.7" fill="#bbbbbb"/>
<rect x="176.4" y="41.8" width="10.1" height="8.7" fill="#cccccc"/>
<rect x="186.2" y="41.8" width="10.1" height="8.7" fill="#b0b0b0"/>
<rect x="196.0" y="41.8" width="10.1" height="8.7" fill="#7a7a7a"/>
<rect x="205.8" y="41.8" width="10.1" height="8.7" fill="#717171"/>
<rect x="215.6" y="41.8" width="10.1" height="8.7" fill="#696969"/>
<rect x="225.4" y="41.8" width="10.1" height="8.7" fill="#636363"/>
<rect x="235.2" y="41.8" width="10.1" height="8.7" fill="#555555"/>
<rect x="245.0" y="41.8" width="10.1" height="8.7" fill="#474747"/>
<rect x="254.8" y="41.8" width="10.1" height="8.7" fill="#555555"/>
<rect x="264.6" y="41.8" width="10.1" height="8.7" fill="#5b5b5b"/>
<rect x="274.4" y="41.8" width="10.1" height="8.7" fill="#474747"/>
<rect x="284.2" y="41.8" width="39.5" height="8.7" fill="#2a2a2a"/>
<rect x="-29.4" y="50.2" width="39.5" height="8.7" fill="#a4a4a4"/>
<rect x="9.8" y="50.2" width="10.1" height="8.7" fill="#9f9f9f"/>
<rect x="19.6" y="50.2" width="10.1" height="8.7" fill="#bbbbbb"/>
<rect x="29.4" y="50.2" width="10.1" height="8.7" fill="#d4d4d4"/>
<rect x="39.2" y="50.2" width="19.9" height="8.7" fill="#e3e3e3"/>
<rect x="58.8" y="50.2" width="10.1" height="8.7" fill="#ffffff"/>
<rect x="68.6" y="50.2" width="10.1" height="8.7" fill="#ffffff"/>
<rect x="78.4" y="50.2" width="10.1" height="8.7" fill="#f1f1f1"/>
<rect x="88.2" y="50.2" width="10.1" height="8.7" fill="#cccccc"/>
<rect x="98.0" y="50.2" width="10.1" height="8.7" fill="#c3c3c3"/>
<rect x="107.8" y="50.2" width="10.1" height="8.7" fill="#d2d2d2"/>
<rect x="117.6" y="50.2" width="10.1" height="8.7" fill="#c3c3c3"/>
<rect x="127.4" y="50.2" width="10.1" height="8.7" fill="#b5b5b5"/>
<rect x="137.2" y="50.2" width="10.1" height="8.7" fill="#bebebe"/>
<rect x="147.0" y="50.2" width="10.1" height="8.7" fill="#b0b0b0"/>
<rect x="156.8" y="50.2" width="10.1" height="8.7" fill="#aaaaaa"/>
<rect x="166.6" y="50.2" width="10.1" height="8.7" fill="#bbbbbb"/>
<rect x="176.4" y="50.2" width="10.1" height="8.7" fill="#cccccc"/>
<rect x="186.2" y="50.2" width="10.1" height="8.7" fill="#b0b0b0"/>
<rect x="196.0" y="50.2" width="10.1" height="8.7" fill="#7a7a7a"/>
<rect x="205.8" y="50.2" width="10.1" height="8.7" fill="#717171"/>
<rect x="215.6" y="50.2" width="10.1" height="8.7" fill="#696969"/>
<rect x="225.4" y="50.2" width="10.1" height="8.7" fill="#636363"/>
<rect x="235.2" y="50.2" width="10.1" height="8.7" fill="#555555"/>
<rect x="245.0" y="50.2" width="10.1" height="8.7" fill="#474747"/>
<rect x="254.8" y="50.2" width="10.1" height="8.7" fill="#555555"/>
<rect x="264.6" y="50.2" width="10.1" height="8.7" fill="#5b5b5b"/>
<rect x="274.4" y="50.2" width="10.1" height="8.7" fill="#474747"/>
<rect x="284.2" y="50.2" width="39.5" height="8.7" fill="#2a2a2a"/>
<rect x="-29.4" y="58.5" width="39.5" height="8.7" fill="#a4a4a4"/>
<rect x="9.8" y="58.5" width="10.1" height="8.7" fill="#9f9f9f"/>
<rect x="19.6" y="58.5" width="10.1" height="8.7" fill="#bbbbbb"/>
<rect x="29.4" y="58.5" width="10.1" height="8.7" fill="#d4d4d4"/>
<rect x="39.2" y="58.5" width="19.9" height="8.7" fill="#e3e3e3"/>
<rect x="58.8" y="58.5" width="10.1" height="8.7" fill="#ffffff"/>
<rect x="68.6" y="58.5" width="10.1" height="8.7" fill="#ffffff"/>
<rect x="78.4" y="58.5" width="10.1" height="8.7" fill="#f1f1f1"/>
<rect x="88.2" y="58.5" width="10.1" height="8.7" fill="#cccccc"/>
<rect x="98.0" y="58.5" width="10.1" height="8.7" fill="#c3c3c3"/>
<rect x="107.8" y="58.5" width="10.1" height="8.7" fill="#d2d2d2"/>
<rect x="117.6" y="58.5" width="10.1" height="8.7" fill="#c3c3c3"/>
<rect x="127.4" y="58.5" width="10.1" height="8.7" fill="#b5b5b5"/>
<rect x="137.2" y="58.5" width="10.1" height="8.7" fill="#bebebe"/>
<rect x="147.0" y="58.5" width="10.1" height="8.7" fill="#b0b0b0"/>
<rect x="156.8" y="58.5" width="10.1" height="8.7" fill="#aaaaaa"/>
<rect x="166.6" y="58.5" width="10.1" height="8.7" fill="#bbbbbb"/>
<rect x="176.4" y="58.5" width="10.1" height="8.7" fill="#cccccc"/>
<rect x="186.2" y="58.5" width="10.1" height="8.7" fill="#b0b0b0"/>
<rect x="196.0" y="58.5" width="10.1" height="8.7" fill="#7a7a7a"/>
<rect x="205.8" y="58.5" width="10.1" height="8.7" fill="#717171"/>
<rect x="215.6" y="58.5" width="10.1" height="8.7" fill="#696969"/>
<rect x="225.4" y="58.5" width="10.1" height="8.7" fill="#636363"/>
<rect x="235.2" y="58.5" width="10.1" height="8.7" fill="#555555"/>
<rect x="245.0" y="58.5" width="10.1" height="8.7" fill="#474747"/>
<rect x="254.8" y="58.5" width="10.1" height="8.7" fill="#555555"/>
<rect x="264.6" y="58.5" width="10.1" height="8.7" fill="#5b5b5b"/>
<rect x="274.4" y="58.5" width="10.1" height="8.7" fill="#474747"/>
<rect x="284.2" y="58.5" width="39.5" height="8.7" fill="#2a2a2a"/>
</g></svg>
<rect x="386.5" y="530.3" width="294" height="41.8" fill="none" stroke="#111" stroke-width="1.5"/>
<line x1="386.50" y1="269.7" x2="386.50" y2="274.7" stroke="#111" stroke-width="1.4"/>
<line x1="423.25" y1="269.7" x2="423.25" y2="274.7" stroke="#111" stroke-width="1.4"/>
<line x1="460.00" y1="269.7" x2="460.00" y2="274.7" stroke="#111" stroke-width="1.4"/>
<line x1="496.75" y1="269.7" x2="496.75" y2="274.7" stroke="#111" stroke-width="1.4"/>
<line x1="533.50" y1="269.7" x2="533.50" y2="274.7" stroke="#111" stroke-width="1.4"/>
<line x1="570.25" y1="269.7" x2="570.25" y2="274.7" stroke="#111" stroke-width="1.4"/>
<line x1="607.00" y1="269.7" x2="607.00" y2="274.7" stroke="#111" stroke-width="1.4"/>
<line x1="643.75" y1="269.7" x2="643.75" y2="274.7" stroke="#111" stroke-width="1.4"/>
<line x1="680.50" y1="269.7" x2="680.50" y2="274.7" stroke="#111" stroke-width="1.4"/>
<line x1="386.50" y1="572.1" x2="386.50" y2="577.1" stroke="#111" stroke-width="1.4"/>
<line x1="423.25" y1="572.1" x2="423.25" y2="577.1" stroke="#111" stroke-width="1.4"/>
<line x1="460.00" y1="572.1" x2="460.00" y2="577.1" stroke="#111" stroke-width="1.4"/>
<line x1="496.75" y1="572.1" x2="496.75" y2="577.1" stroke="#111" stroke-width="1.4"/>
<line x1="533.50" y1="572.1" x2="533.50" y2="577.1" stroke="#111" stroke-width="1.4"/>
<line x1="570.25" y1="572.1" x2="570.25" y2="577.1" stroke="#111" stroke-width="1.4"/>
<line x1="607.00" y1="572.1" x2="607.00" y2="577.1" stroke="#111" stroke-width="1.4"/>
<line x1="643.75" y1="572.1" x2="643.75" y2="577.1" stroke="#111" stroke-width="1.4"/>
<line x1="680.50" y1="572.1" x2="680.50" y2="577.1" stroke="#111" stroke-width="1.4"/>
<line x1="381.0" y1="169.9" x2="386.5" y2="169.9" stroke="#111" stroke-width="1.4"/>
<line x1="381.0" y1="211.7" x2="386.5" y2="211.7" stroke="#111" stroke-width="1.4"/>
<line x1="381.0" y1="227.9" x2="386.5" y2="227.9" stroke="#111" stroke-width="1.4"/>
<line x1="381.0" y1="269.7" x2="386.5" y2="269.7" stroke="#111" stroke-width="1.4"/>
<line x1="381.0" y1="472.1" x2="386.5" y2="472.1" stroke="#111" stroke-width="1.4"/>
<line x1="381.0" y1="513.9" x2="386.5" y2="513.9" stroke="#111" stroke-width="1.4"/>
<line x1="381.0" y1="530.3" x2="386.5" y2="530.3" stroke="#111" stroke-width="1.4"/>
<line x1="381.0" y1="572.1" x2="386.5" y2="572.1" stroke="#111" stroke-width="1.4"/>
<text x="6.4" y="18.8" font-size="21.5" text-anchor="start" font-weight="normal" fill="#111" >A</text>
<text x="379.1" y="18.6" font-size="21.5" text-anchor="start" font-weight="normal" fill="#111" >B</text>
<text x="5.5" y="324" font-size="21.5" text-anchor="start" font-weight="normal" fill="#111" >C</text>
<text x="379.3" y="323.8" font-size="21.5" text-anchor="start" font-weight="normal" fill="#111" >D</text>
<text x="234.8" y="40.2" font-size="17.5" text-anchor="middle" font-weight="bold" fill="#111" >GO CORRECT</text>
<text x="234.8" y="60.2" font-size="17.5" text-anchor="middle" font-weight="bold" fill="#111" >(cognitive</text>
<text x="234.8" y="80.2" font-size="17.5" text-anchor="middle" font-weight="bold" fill="#111" >+ motor)</text>
<text x="614" y="40.5" font-size="17.5" text-anchor="middle" font-weight="bold" fill="#111" >GO INCORRECT</text>
<text x="614" y="60.5" font-size="17.5" text-anchor="middle" font-weight="bold" fill="#111" >(cognitive)</text>
<text x="237.3" y="344.4" font-size="17.5" text-anchor="middle" font-weight="bold" fill="#14944c" >noGO CORRECT</text>
<text x="237.3" y="364.4" font-size="17.5" text-anchor="middle" font-weight="bold" fill="#14944c" >(cognitive)</text>
<text x="603" y="337.6" font-size="17.5" text-anchor="middle" font-weight="bold" fill="#14944c" >noGO INCORRECT</text>
<text x="603" y="357.5" font-size="17.5" text-anchor="middle" font-weight="bold" fill="#14944c" >(cognitive</text>
<text x="603" y="377.40000000000003" font-size="17.5" text-anchor="middle" font-weight="bold" fill="#14944c" >+ motor)</text>
<text x="59" y="174.9" font-size="14" text-anchor="end" font-weight="normal" fill="#111" >12</text>
<text x="59" y="217" font-size="14" text-anchor="end" font-weight="normal" fill="#111" >6</text>
<text x="59" y="233.6" font-size="14" text-anchor="end" font-weight="normal" fill="#111" >6</text>
<text x="59" y="274.6" font-size="14" text-anchor="end" font-weight="normal" fill="#111" >1</text>
<text transform="translate(34,196.3) scale(1.14,1)" font-size="14.5" text-anchor="middle" fill="#222">θ</text>
<text transform="translate(34,254.4) scale(1.06,1)" font-size="14.5" text-anchor="middle" fill="#222">δ</text>
<text transform="translate(17.0,217) rotate(-90)" font-size="14.4" text-anchor="middle" fill="#2a2a2a">Frequency (Hz)</text>
<text x="65" y="289" font-size="14" text-anchor="middle" font-weight="normal" fill="#111" >0</text>
<text x="359" y="289" font-size="14" text-anchor="middle" font-weight="normal" fill="#111" >2</text>
<text x="212.5" y="289" font-size="14" text-anchor="middle" font-weight="normal" fill="#111" >Time (s)</text>
<text x="386.5" y="289" font-size="14" text-anchor="middle" font-weight="normal" fill="#111" >0</text>
<text x="680.5" y="289" font-size="14" text-anchor="middle" font-weight="normal" fill="#111" >2</text>
<text x="534.0" y="289" font-size="14" text-anchor="middle" font-weight="normal" fill="#111" >Time (s)</text>
<text x="59" y="477.20000000000005" font-size="14" text-anchor="end" font-weight="normal" fill="#111" >12</text>
<text x="59" y="519.3" font-size="14" text-anchor="end" font-weight="normal" fill="#111" >6</text>
<text x="59" y="535.9" font-size="14" text-anchor="end" font-weight="normal" fill="#111" >6</text>
<text x="59" y="576.9000000000001" font-size="14" text-anchor="end" font-weight="normal" fill="#111" >1</text>
<text transform="translate(34,498.6) scale(1.14,1)" font-size="14.5" text-anchor="middle" fill="#222">θ</text>
<text transform="translate(34,556.7) scale(1.06,1)" font-size="14.5" text-anchor="middle" fill="#222">δ</text>
<text transform="translate(17.0,519.3) rotate(-90)" font-size="14.4" text-anchor="middle" fill="#2a2a2a">Frequency (Hz)</text>
<text x="65" y="591.3" font-size="14" text-anchor="middle" font-weight="normal" fill="#111" >0</text>
<text x="359" y="591.3" font-size="14" text-anchor="middle" font-weight="normal" fill="#111" >2</text>
<text x="212.5" y="591.3" font-size="14" text-anchor="middle" font-weight="normal" fill="#111" >Time (s)</text>
<text x="386.5" y="591.3" font-size="14" text-anchor="middle" font-weight="normal" fill="#111" >0</text>
<text x="680.5" y="591.3" font-size="14" text-anchor="middle" font-weight="normal" fill="#111" >2</text>
<text x="534.0" y="591.3" font-size="14" text-anchor="middle" font-weight="normal" fill="#111" >Time (s)</text>
</svg></body></html>
